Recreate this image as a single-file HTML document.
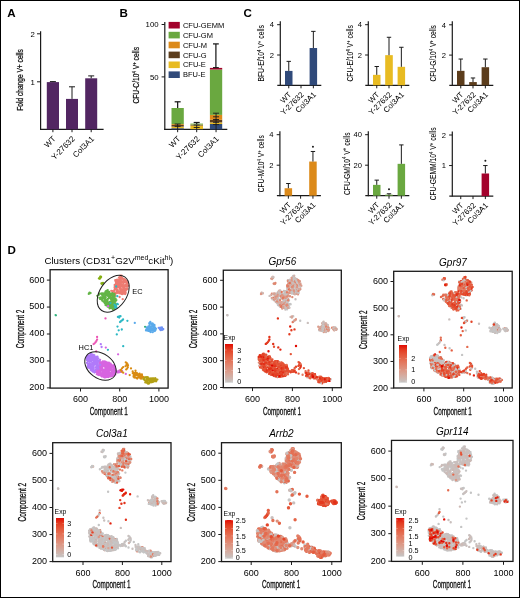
<!DOCTYPE html>
<html><head><meta charset="utf-8"><style>
html,body{margin:0;padding:0;background:#fff;}
svg{display:block;font-family:"Liberation Sans", sans-serif;will-change:transform;}
</style></head><body>
<svg width="520" height="598" viewBox="0 0 520 598">
<rect x="0" y="0" width="520" height="598" fill="#fff"/>
<text transform="translate(7.20 17.00)" font-size="11.6" font-weight="bold" fill="#000" >A</text>
<text transform="translate(119.40 17.10)" font-size="11.6" font-weight="bold" fill="#000" >B</text>
<text transform="translate(243.60 17.20)" font-size="11.6" font-weight="bold" fill="#000" >C</text>
<text transform="translate(7.40 253.50)" font-size="11.6" font-weight="bold" fill="#000" >D</text>
<line x1="40.60" y1="31.30" x2="40.60" y2="129.90" stroke="#1a1a1a" stroke-width="1.2"/>
<line x1="40.00" y1="129.40" x2="103.60" y2="129.40" stroke="#1a1a1a" stroke-width="1.2"/>
<line x1="37.00" y1="33.80" x2="40.60" y2="33.80" stroke="#1a1a1a" stroke-width="1.0"/>
<text transform="translate(34.80 36.60)" font-size="7.8" text-anchor="end" >2</text>
<line x1="37.00" y1="81.80" x2="40.60" y2="81.80" stroke="#1a1a1a" stroke-width="1.0"/>
<text transform="translate(34.80 84.60)" font-size="7.8" text-anchor="end" >1</text>
<rect x="46.80" y="82.10" width="12.20" height="47.30" fill="#522662"/>
<line x1="52.90" y1="82.10" x2="52.90" y2="81.60" stroke="#1a1a1a" stroke-width="1.0"/>
<line x1="49.90" y1="81.60" x2="55.90" y2="81.60" stroke="#1a1a1a" stroke-width="1.0"/>
<rect x="66.00" y="98.90" width="12.00" height="30.50" fill="#522662"/>
<line x1="72.00" y1="98.90" x2="72.00" y2="86.80" stroke="#1a1a1a" stroke-width="1.0"/>
<line x1="69.00" y1="86.80" x2="75.00" y2="86.80" stroke="#1a1a1a" stroke-width="1.0"/>
<rect x="85.20" y="78.30" width="12.00" height="51.10" fill="#522662"/>
<line x1="91.20" y1="78.30" x2="91.20" y2="75.90" stroke="#1a1a1a" stroke-width="1.0"/>
<line x1="88.20" y1="75.90" x2="94.20" y2="75.90" stroke="#1a1a1a" stroke-width="1.0"/>
<line x1="52.90" y1="129.40" x2="52.90" y2="132.20" stroke="#1a1a1a" stroke-width="1.0"/>
<line x1="72.00" y1="129.40" x2="72.00" y2="132.20" stroke="#1a1a1a" stroke-width="1.0"/>
<line x1="91.20" y1="129.40" x2="91.20" y2="132.20" stroke="#1a1a1a" stroke-width="1.0"/>
<text transform="translate(56.30 139.40) rotate(-45)" font-size="8.0" text-anchor="end" >WT</text>
<text transform="translate(75.40 139.40) rotate(-45)" font-size="8.0" text-anchor="end" >Y-27632</text>
<text transform="translate(94.60 139.40) rotate(-45)" font-size="8.0" text-anchor="end" >Col3A1</text>
<text transform="translate(23.20 80.00) rotate(-90) scale(0.8094 1)" font-size="8.2" text-anchor="middle" stroke="#1a1a1a" stroke-width="0.25" >Fold change V+ cells</text>
<line x1="164.80" y1="22.00" x2="164.80" y2="129.90" stroke="#1a1a1a" stroke-width="1.2"/>
<line x1="164.20" y1="129.40" x2="227.30" y2="129.40" stroke="#1a1a1a" stroke-width="1.2"/>
<line x1="161.60" y1="24.50" x2="164.80" y2="24.50" stroke="#1a1a1a" stroke-width="1.0"/>
<text transform="translate(158.60 27.30)" font-size="7.8" text-anchor="end" >100</text>
<line x1="161.60" y1="76.90" x2="164.80" y2="76.90" stroke="#1a1a1a" stroke-width="1.0"/>
<text transform="translate(158.60 79.70)" font-size="7.8" text-anchor="end" >50</text>
<rect x="168.60" y="21.90" width="11.20" height="6.60" fill="#a3022c"/>
<text transform="translate(182.90 27.80)" font-size="7.5" >CFU-GEMM</text>
<rect x="168.60" y="31.80" width="11.20" height="6.60" fill="#6aa840"/>
<text transform="translate(182.90 37.70)" font-size="7.5" >CFU-GM</text>
<rect x="168.60" y="41.70" width="11.20" height="6.60" fill="#dc8a1a"/>
<text transform="translate(182.90 47.60)" font-size="7.5" >CFU-M</text>
<rect x="168.60" y="51.60" width="11.20" height="6.60" fill="#5c3d1c"/>
<text transform="translate(182.90 57.50)" font-size="7.5" >CFU-G</text>
<rect x="168.60" y="61.50" width="11.20" height="6.60" fill="#e8bb22"/>
<text transform="translate(182.90 67.40)" font-size="7.5" >CFU-E</text>
<rect x="168.60" y="71.40" width="11.20" height="6.60" fill="#304a7a"/>
<text transform="translate(182.90 77.30)" font-size="7.5" >BFU-E</text>
<rect x="171.50" y="128.20" width="12.30" height="1.20" fill="#304a7a"/>
<rect x="171.50" y="126.60" width="12.30" height="1.60" fill="#e8bb22"/>
<rect x="171.50" y="125.00" width="12.30" height="1.60" fill="#5c3d1c"/>
<rect x="171.50" y="124.10" width="12.30" height="0.90" fill="#dc8a1a"/>
<rect x="171.50" y="108.00" width="12.30" height="16.10" fill="#6aa840"/>
<rect x="190.40" y="129.10" width="12.60" height="0.30" fill="#304a7a"/>
<rect x="190.40" y="125.50" width="12.60" height="3.60" fill="#e8bb22"/>
<rect x="190.40" y="124.90" width="12.60" height="0.60" fill="#5c3d1c"/>
<rect x="190.40" y="124.60" width="12.60" height="0.30" fill="#dc8a1a"/>
<rect x="190.40" y="123.60" width="12.60" height="1.00" fill="#6aa840"/>
<rect x="209.90" y="124.00" width="12.30" height="5.40" fill="#304a7a"/>
<rect x="209.90" y="122.40" width="12.30" height="1.60" fill="#e8bb22"/>
<rect x="209.90" y="119.80" width="12.30" height="2.60" fill="#5c3d1c"/>
<rect x="209.90" y="114.90" width="12.30" height="4.90" fill="#dc8a1a"/>
<rect x="209.90" y="69.50" width="12.30" height="45.40" fill="#6aa840"/>
<rect x="209.90" y="67.90" width="12.30" height="1.60" fill="#a3022c"/>
<line x1="177.65" y1="108.00" x2="177.65" y2="101.80" stroke="#1a1a1a" stroke-width="1.25"/>
<line x1="174.65" y1="101.80" x2="180.65" y2="101.80" stroke="#1a1a1a" stroke-width="1.25"/>
<line x1="196.70" y1="124.20" x2="196.70" y2="122.50" stroke="#1a1a1a" stroke-width="1.25"/>
<line x1="193.70" y1="122.50" x2="199.70" y2="122.50" stroke="#1a1a1a" stroke-width="1.25"/>
<line x1="215.90" y1="67.80" x2="215.90" y2="43.90" stroke="#1a1a1a" stroke-width="1.25"/>
<line x1="213.00" y1="43.90" x2="218.80" y2="43.90" stroke="#1a1a1a" stroke-width="1.25"/>
<line x1="213.00" y1="67.60" x2="218.80" y2="67.60" stroke="#1a1a1a" stroke-width="1.1"/>
<line x1="174.65" y1="126.40" x2="180.65" y2="126.40" stroke="#1a1a1a" stroke-width="0.9"/>
<line x1="174.65" y1="124.00" x2="180.65" y2="124.00" stroke="#1a1a1a" stroke-width="0.9"/>
<line x1="177.65" y1="124.00" x2="177.65" y2="129.40" stroke="#1a1a1a" stroke-width="0.9"/>
<line x1="193.70" y1="127.50" x2="199.70" y2="127.50" stroke="#1a1a1a" stroke-width="0.9"/>
<line x1="193.70" y1="125.00" x2="199.70" y2="125.00" stroke="#1a1a1a" stroke-width="0.9"/>
<line x1="196.70" y1="125.00" x2="196.70" y2="129.40" stroke="#1a1a1a" stroke-width="0.9"/>
<line x1="213.05" y1="124.60" x2="219.05" y2="124.60" stroke="#1a1a1a" stroke-width="0.9"/>
<line x1="213.05" y1="122.30" x2="219.05" y2="122.30" stroke="#1a1a1a" stroke-width="0.9"/>
<line x1="213.05" y1="119.50" x2="219.05" y2="119.50" stroke="#1a1a1a" stroke-width="0.9"/>
<line x1="213.05" y1="116.80" x2="219.05" y2="116.80" stroke="#1a1a1a" stroke-width="0.9"/>
<line x1="213.05" y1="113.20" x2="219.05" y2="113.20" stroke="#1a1a1a" stroke-width="0.9"/>
<line x1="216.05" y1="113.20" x2="216.05" y2="129.40" stroke="#1a1a1a" stroke-width="0.9"/>
<line x1="177.65" y1="129.40" x2="177.65" y2="132.20" stroke="#1a1a1a" stroke-width="1.0"/>
<line x1="196.70" y1="129.40" x2="196.70" y2="132.20" stroke="#1a1a1a" stroke-width="1.0"/>
<line x1="216.05" y1="129.40" x2="216.05" y2="132.20" stroke="#1a1a1a" stroke-width="1.0"/>
<text transform="translate(181.05 139.40) rotate(-45)" font-size="8.0" text-anchor="end" >WT</text>
<text transform="translate(200.10 139.40) rotate(-45)" font-size="8.0" text-anchor="end" >Y-27632</text>
<text transform="translate(219.45 139.40) rotate(-45)" font-size="8.0" text-anchor="end" >Col3A1</text>
<text transform="translate(138.80 75.30) rotate(-90) scale(0.7974 1)" font-size="8.4" text-anchor="middle" stroke="#1a1a1a" stroke-width="0.22" >CFU-C/10<tspan font-size="5.46" dy="-3.02">4</tspan><tspan dy="3.02"> V</tspan><tspan font-size="5.46" dy="-3.02">+</tspan><tspan dy="3.02"> cells</tspan></text>
<line x1="280.30" y1="21.20" x2="280.30" y2="85.80" stroke="#1a1a1a" stroke-width="1.2"/>
<line x1="277.30" y1="85.30" x2="321.30" y2="85.30" stroke="#1a1a1a" stroke-width="1.2"/>
<line x1="277.10" y1="55.00" x2="280.30" y2="55.00" stroke="#1a1a1a" stroke-width="1.0"/>
<text transform="translate(274.00 57.70)" font-size="7.6" text-anchor="end" >2</text>
<line x1="277.10" y1="24.70" x2="280.30" y2="24.70" stroke="#1a1a1a" stroke-width="1.0"/>
<text transform="translate(274.00 27.40)" font-size="7.6" text-anchor="end" >4</text>
<rect x="285.00" y="70.91" width="7.50" height="14.39" fill="#304a7a"/>
<line x1="288.75" y1="70.91" x2="288.75" y2="61.36" stroke="#1a1a1a" stroke-width="1.0"/>
<line x1="286.55" y1="61.36" x2="290.95" y2="61.36" stroke="#1a1a1a" stroke-width="1.0"/>
<rect x="309.60" y="48.03" width="7.50" height="37.27" fill="#304a7a"/>
<line x1="313.35" y1="48.03" x2="313.35" y2="31.37" stroke="#1a1a1a" stroke-width="1.0"/>
<line x1="311.15" y1="31.37" x2="315.55" y2="31.37" stroke="#1a1a1a" stroke-width="1.0"/>
<line x1="288.75" y1="85.30" x2="288.75" y2="88.30" stroke="#1a1a1a" stroke-width="1.0"/>
<line x1="301.00" y1="85.30" x2="301.00" y2="88.30" stroke="#1a1a1a" stroke-width="1.0"/>
<line x1="313.35" y1="85.30" x2="313.35" y2="88.30" stroke="#1a1a1a" stroke-width="1.0"/>
<text transform="translate(291.95 95.10) rotate(-45)" font-size="7.8" text-anchor="end" >WT</text>
<text transform="translate(304.20 95.10) rotate(-45)" font-size="7.8" text-anchor="end" >Y-27632</text>
<text transform="translate(316.55 95.10) rotate(-45)" font-size="7.8" text-anchor="end" >Col3A1</text>
<text transform="translate(264.20 53.40) rotate(-90) scale(0.7514 1)" font-size="9.0" text-anchor="middle" stroke="#1a1a1a" stroke-width="0.06" >BFU-E/10<tspan font-size="5.85" dy="-3.24">4</tspan><tspan dy="3.24"> V</tspan><tspan font-size="5.85" dy="-3.24">+</tspan><tspan dy="3.24"> cells</tspan></text>
<line x1="368.30" y1="21.20" x2="368.30" y2="85.80" stroke="#1a1a1a" stroke-width="1.2"/>
<line x1="365.30" y1="85.30" x2="409.30" y2="85.30" stroke="#1a1a1a" stroke-width="1.2"/>
<line x1="365.10" y1="55.00" x2="368.30" y2="55.00" stroke="#1a1a1a" stroke-width="1.0"/>
<text transform="translate(362.00 57.70)" font-size="7.6" text-anchor="end" >2</text>
<line x1="365.10" y1="24.70" x2="368.30" y2="24.70" stroke="#1a1a1a" stroke-width="1.0"/>
<text transform="translate(362.00 27.40)" font-size="7.6" text-anchor="end" >4</text>
<rect x="373.00" y="74.85" width="7.50" height="10.45" fill="#e8bb22"/>
<line x1="376.75" y1="74.85" x2="376.75" y2="66.51" stroke="#1a1a1a" stroke-width="1.0"/>
<line x1="374.55" y1="66.51" x2="378.95" y2="66.51" stroke="#1a1a1a" stroke-width="1.0"/>
<rect x="385.20" y="55.15" width="7.60" height="30.15" fill="#e8bb22"/>
<line x1="389.00" y1="55.15" x2="389.00" y2="37.27" stroke="#1a1a1a" stroke-width="1.0"/>
<line x1="386.80" y1="37.27" x2="391.20" y2="37.27" stroke="#1a1a1a" stroke-width="1.0"/>
<rect x="397.60" y="66.82" width="7.50" height="18.48" fill="#e8bb22"/>
<line x1="401.35" y1="66.82" x2="401.35" y2="47.27" stroke="#1a1a1a" stroke-width="1.0"/>
<line x1="399.15" y1="47.27" x2="403.55" y2="47.27" stroke="#1a1a1a" stroke-width="1.0"/>
<line x1="376.75" y1="85.30" x2="376.75" y2="88.30" stroke="#1a1a1a" stroke-width="1.0"/>
<line x1="389.00" y1="85.30" x2="389.00" y2="88.30" stroke="#1a1a1a" stroke-width="1.0"/>
<line x1="401.35" y1="85.30" x2="401.35" y2="88.30" stroke="#1a1a1a" stroke-width="1.0"/>
<text transform="translate(379.95 95.10) rotate(-45)" font-size="7.8" text-anchor="end" >WT</text>
<text transform="translate(392.20 95.10) rotate(-45)" font-size="7.8" text-anchor="end" >Y-27632</text>
<text transform="translate(404.55 95.10) rotate(-45)" font-size="7.8" text-anchor="end" >Col3A1</text>
<text transform="translate(353.00 53.30) rotate(-90) scale(0.7478 1)" font-size="9.0" text-anchor="middle" stroke="#1a1a1a" stroke-width="0.06" >CFU-E/10<tspan font-size="5.85" dy="-3.24">4</tspan><tspan dy="3.24"> V</tspan><tspan font-size="5.85" dy="-3.24">+</tspan><tspan dy="3.24"> cells</tspan></text>
<line x1="452.30" y1="21.30" x2="452.30" y2="85.90" stroke="#1a1a1a" stroke-width="1.2"/>
<line x1="449.30" y1="85.40" x2="493.30" y2="85.40" stroke="#1a1a1a" stroke-width="1.2"/>
<line x1="449.10" y1="55.10" x2="452.30" y2="55.10" stroke="#1a1a1a" stroke-width="1.0"/>
<text transform="translate(446.00 57.80)" font-size="7.6" text-anchor="end" >2</text>
<line x1="449.10" y1="24.80" x2="452.30" y2="24.80" stroke="#1a1a1a" stroke-width="1.0"/>
<text transform="translate(446.00 27.50)" font-size="7.6" text-anchor="end" >4</text>
<rect x="457.00" y="70.86" width="7.50" height="14.54" fill="#5c3d1c"/>
<line x1="460.75" y1="70.86" x2="460.75" y2="59.04" stroke="#1a1a1a" stroke-width="1.0"/>
<line x1="458.55" y1="59.04" x2="462.95" y2="59.04" stroke="#1a1a1a" stroke-width="1.0"/>
<rect x="469.20" y="82.07" width="7.60" height="3.33" fill="#5c3d1c"/>
<line x1="473.00" y1="82.07" x2="473.00" y2="77.98" stroke="#1a1a1a" stroke-width="1.0"/>
<line x1="470.80" y1="77.98" x2="475.20" y2="77.98" stroke="#1a1a1a" stroke-width="1.0"/>
<rect x="481.60" y="67.22" width="7.50" height="18.18" fill="#5c3d1c"/>
<line x1="485.35" y1="67.22" x2="485.35" y2="59.04" stroke="#1a1a1a" stroke-width="1.0"/>
<line x1="483.15" y1="59.04" x2="487.55" y2="59.04" stroke="#1a1a1a" stroke-width="1.0"/>
<line x1="460.75" y1="85.40" x2="460.75" y2="88.40" stroke="#1a1a1a" stroke-width="1.0"/>
<line x1="473.00" y1="85.40" x2="473.00" y2="88.40" stroke="#1a1a1a" stroke-width="1.0"/>
<line x1="485.35" y1="85.40" x2="485.35" y2="88.40" stroke="#1a1a1a" stroke-width="1.0"/>
<text transform="translate(463.95 95.20) rotate(-45)" font-size="7.8" text-anchor="end" >WT</text>
<text transform="translate(476.20 95.20) rotate(-45)" font-size="7.8" text-anchor="end" >Y-27632</text>
<text transform="translate(488.55 95.20) rotate(-45)" font-size="7.8" text-anchor="end" >Col3A1</text>
<text transform="translate(436.40 53.30) rotate(-90) scale(0.7381 1)" font-size="9.0" text-anchor="middle" stroke="#1a1a1a" stroke-width="0.06" >CFU-G/10<tspan font-size="5.85" dy="-3.24">4</tspan><tspan dy="3.24"> V</tspan><tspan font-size="5.85" dy="-3.24">+</tspan><tspan dy="3.24"> cells</tspan></text>
<line x1="279.90" y1="131.20" x2="279.90" y2="196.20" stroke="#1a1a1a" stroke-width="1.2"/>
<line x1="276.90" y1="195.70" x2="320.90" y2="195.70" stroke="#1a1a1a" stroke-width="1.2"/>
<line x1="276.70" y1="165.20" x2="279.90" y2="165.20" stroke="#1a1a1a" stroke-width="1.0"/>
<text transform="translate(273.60 167.90)" font-size="7.6" text-anchor="end" >2</text>
<line x1="276.70" y1="134.70" x2="279.90" y2="134.70" stroke="#1a1a1a" stroke-width="1.0"/>
<text transform="translate(273.60 137.40)" font-size="7.6" text-anchor="end" >4</text>
<rect x="284.60" y="188.23" width="7.50" height="7.47" fill="#dc8a1a"/>
<line x1="288.35" y1="188.23" x2="288.35" y2="183.50" stroke="#1a1a1a" stroke-width="1.0"/>
<line x1="286.15" y1="183.50" x2="290.55" y2="183.50" stroke="#1a1a1a" stroke-width="1.0"/>
<rect x="309.20" y="161.54" width="7.50" height="34.16" fill="#dc8a1a"/>
<line x1="312.95" y1="161.54" x2="312.95" y2="151.47" stroke="#1a1a1a" stroke-width="1.0"/>
<line x1="310.75" y1="151.47" x2="315.15" y2="151.47" stroke="#1a1a1a" stroke-width="1.0"/>
<line x1="288.35" y1="195.70" x2="288.35" y2="198.70" stroke="#1a1a1a" stroke-width="1.0"/>
<line x1="300.60" y1="195.70" x2="300.60" y2="198.70" stroke="#1a1a1a" stroke-width="1.0"/>
<line x1="312.95" y1="195.70" x2="312.95" y2="198.70" stroke="#1a1a1a" stroke-width="1.0"/>
<circle cx="312.95" cy="146.80" r="1.0" fill="#1a1a1a"/>
<text transform="translate(291.55 205.50) rotate(-45)" font-size="7.8" text-anchor="end" >WT</text>
<text transform="translate(303.80 205.50) rotate(-45)" font-size="7.8" text-anchor="end" >Y-27632</text>
<text transform="translate(316.15 205.50) rotate(-45)" font-size="7.8" text-anchor="end" >Col3A1</text>
<text transform="translate(264.20 163.70) rotate(-90) scale(0.7411 1)" font-size="9.0" text-anchor="middle" stroke="#1a1a1a" stroke-width="0.06" >CFU-M/10<tspan font-size="5.85" dy="-3.24">4</tspan><tspan dy="3.24"> V</tspan><tspan font-size="5.85" dy="-3.24">+</tspan><tspan dy="3.24"> cells</tspan></text>
<line x1="368.30" y1="131.20" x2="368.30" y2="196.20" stroke="#1a1a1a" stroke-width="1.2"/>
<line x1="365.30" y1="195.70" x2="409.30" y2="195.70" stroke="#1a1a1a" stroke-width="1.2"/>
<line x1="365.10" y1="165.20" x2="368.30" y2="165.20" stroke="#1a1a1a" stroke-width="1.0"/>
<text transform="translate(362.00 167.90)" font-size="7.6" text-anchor="end" >20</text>
<line x1="365.10" y1="134.70" x2="368.30" y2="134.70" stroke="#1a1a1a" stroke-width="1.0"/>
<text transform="translate(362.00 137.40)" font-size="7.6" text-anchor="end" >40</text>
<rect x="373.00" y="184.87" width="7.50" height="10.83" fill="#6aa840"/>
<line x1="376.75" y1="184.87" x2="376.75" y2="180.14" stroke="#1a1a1a" stroke-width="1.0"/>
<line x1="374.55" y1="180.14" x2="378.95" y2="180.14" stroke="#1a1a1a" stroke-width="1.0"/>
<rect x="385.20" y="194.69" width="7.60" height="1.01" fill="#6aa840"/>
<line x1="389.00" y1="194.69" x2="389.00" y2="193.79" stroke="#1a1a1a" stroke-width="1.0"/>
<line x1="386.80" y1="193.79" x2="391.20" y2="193.79" stroke="#1a1a1a" stroke-width="1.0"/>
<rect x="397.60" y="163.83" width="7.50" height="31.87" fill="#6aa840"/>
<line x1="401.35" y1="163.83" x2="401.35" y2="144.92" stroke="#1a1a1a" stroke-width="1.0"/>
<line x1="399.15" y1="144.92" x2="403.55" y2="144.92" stroke="#1a1a1a" stroke-width="1.0"/>
<line x1="376.75" y1="195.70" x2="376.75" y2="198.70" stroke="#1a1a1a" stroke-width="1.0"/>
<line x1="389.00" y1="195.70" x2="389.00" y2="198.70" stroke="#1a1a1a" stroke-width="1.0"/>
<line x1="401.35" y1="195.70" x2="401.35" y2="198.70" stroke="#1a1a1a" stroke-width="1.0"/>
<circle cx="389.00" cy="189.30" r="1.0" fill="#1a1a1a"/>
<text transform="translate(379.95 205.50) rotate(-45)" font-size="7.8" text-anchor="end" >WT</text>
<text transform="translate(392.20 205.50) rotate(-45)" font-size="7.8" text-anchor="end" >Y-27632</text>
<text transform="translate(404.55 205.50) rotate(-45)" font-size="7.8" text-anchor="end" >Col3A1</text>
<text transform="translate(349.60 163.70) rotate(-90) scale(0.7436 1)" font-size="9.0" text-anchor="middle" stroke="#1a1a1a" stroke-width="0.06" >CFU-GM/10<tspan font-size="5.85" dy="-3.24">4</tspan><tspan dy="3.24"> V</tspan><tspan font-size="5.85" dy="-3.24">+</tspan><tspan dy="3.24"> cells</tspan></text>
<line x1="452.30" y1="131.50" x2="452.30" y2="196.60" stroke="#1a1a1a" stroke-width="1.2"/>
<line x1="449.30" y1="196.10" x2="493.30" y2="196.10" stroke="#1a1a1a" stroke-width="1.2"/>
<line x1="449.10" y1="165.55" x2="452.30" y2="165.55" stroke="#1a1a1a" stroke-width="1.0"/>
<text transform="translate(446.00 168.25)" font-size="7.6" text-anchor="end" >1</text>
<line x1="449.10" y1="135.00" x2="452.30" y2="135.00" stroke="#1a1a1a" stroke-width="1.0"/>
<text transform="translate(446.00 137.70)" font-size="7.6" text-anchor="end" >2</text>
<rect x="481.60" y="173.49" width="7.50" height="22.61" fill="#a3022c"/>
<line x1="485.35" y1="173.49" x2="485.35" y2="165.55" stroke="#1a1a1a" stroke-width="1.0"/>
<line x1="483.15" y1="165.55" x2="487.55" y2="165.55" stroke="#1a1a1a" stroke-width="1.0"/>
<line x1="460.75" y1="196.10" x2="460.75" y2="199.10" stroke="#1a1a1a" stroke-width="1.0"/>
<line x1="473.00" y1="196.10" x2="473.00" y2="199.10" stroke="#1a1a1a" stroke-width="1.0"/>
<line x1="485.35" y1="196.10" x2="485.35" y2="199.10" stroke="#1a1a1a" stroke-width="1.0"/>
<circle cx="485.35" cy="160.70" r="1.0" fill="#1a1a1a"/>
<text transform="translate(463.95 205.90) rotate(-45)" font-size="7.8" text-anchor="end" >WT</text>
<text transform="translate(476.20 205.90) rotate(-45)" font-size="7.8" text-anchor="end" >Y-27632</text>
<text transform="translate(488.55 205.90) rotate(-45)" font-size="7.8" text-anchor="end" >Col3A1</text>
<text transform="translate(436.40 163.85) rotate(-90) scale(0.7483 1)" font-size="9.0" text-anchor="middle" stroke="#1a1a1a" stroke-width="0.06" >CFU-GEMM/10<tspan font-size="5.85" dy="-3.24">4</tspan><tspan dy="3.24"> V</tspan><tspan font-size="5.85" dy="-3.24">+</tspan><tspan dy="3.24"> cells</tspan></text>
<path d="M121.0 282.8h0M118.9 292.5h0M121.4 284.3h0M125.8 282.3h0M116.5 292.6h0M114.7 288.0h0M121.8 282.1h0M121.1 276.7h0M123.3 285.4h0M116.9 287.7h0M119.6 281.6h0M125.8 289.5h0M115.5 285.8h0M120.8 293.6h0M124.3 282.2h0M118.6 291.2h0M124.3 286.9h0M126.1 282.0h0M123.3 287.8h0M121.3 285.2h0M119.8 289.2h0M125.8 281.1h0M117.5 290.0h0M112.7 291.1h0M116.7 284.1h0M114.8 286.2h0M121.7 281.1h0M117.9 287.1h0M119.6 288.7h0M118.2 283.4h0M112.1 293.8h0M122.2 278.0h0M115.8 281.5h0M119.2 285.7h0M117.9 280.5h0M111.8 296.2h0M120.3 278.5h0M121.5 275.6h0M126.7 289.6h0M116.0 282.8h0M114.4 292.1h0M121.6 291.5h0M116.8 280.0h0M125.5 292.6h0M125.7 290.8h0M115.6 285.4h0M116.2 289.2h0M127.4 284.4h0M127.6 283.2h0M122.1 294.2h0M126.0 286.0h0M122.6 292.4h0M124.8 285.4h0M114.0 293.1h0M118.1 291.3h0M123.8 278.8h0M114.4 293.1h0M117.3 286.3h0M125.6 280.0h0M115.3 280.8h0M115.6 286.7h0M115.8 283.8h0M113.9 294.2h0M117.1 284.7h0M120.0 286.1h0M120.4 275.7h0M119.5 279.7h0M123.5 286.8h0M115.9 287.0h0M120.6 291.8h0M124.9 285.3h0M121.3 291.3h0M126.2 284.7h0M122.5 285.0h0M120.6 290.0h0M119.4 286.7h0M124.0 293.7h0M125.2 294.1h0M114.5 290.0h0M122.7 278.9h0M115.4 295.4h0M117.8 285.1h0M120.4 282.7h0M121.1 284.7h0M122.1 286.6h0M112.4 295.9h0M125.8 280.6h0M113.9 294.5h0M121.1 290.3h0M123.4 283.6h0M112.9 295.3h0M121.8 292.6h0M112.8 293.3h0M113.0 294.1h0M118.9 282.5h0M120.1 281.2h0M116.6 282.1h0M124.1 281.6h0M121.0 277.7h0M123.8 287.1h0M114.7 284.9h0M126.4 284.3h0M119.2 293.3h0M117.4 286.4h0M117.1 293.0h0M124.1 288.7h0M117.8 281.7h0M113.2 291.3h0M112.6 293.5h0M126.5 289.7h0M115.3 280.1h0M116.9 285.2h0M128.4 285.7h0M116.8 282.9h0M120.7 285.4h0M114.8 285.9h0M117.1 279.8h0M122.0 286.0h0M124.4 288.9h0M123.7 293.6h0M117.4 282.5h0M123.9 288.6h0M112.3 293.4h0M126.2 288.4h0M124.2 292.7h0M119.9 292.0h0M125.7 292.9h0M123.1 289.8h0M113.4 292.8h0M120.5 288.2h0M121.9 289.4h0M124.5 291.4h0M119.5 286.8h0M123.6 280.6h0M124.5 279.5h0M119.6 283.2h0M119.7 288.9h0M124.3 288.3h0M123.9 281.6h0M123.3 290.2h0M123.4 281.5h0M120.2 285.0h0M119.3 277.4h0M119.1 280.0h0M114.9 295.3h0M114.6 287.5h0M125.7 285.9h0M127.5 288.9h0M115.3 293.5h0M119.6 282.7h0M115.7 293.1h0M127.1 281.1h0M118.1 282.4h0M118.0 284.4h0M113.2 292.7h0M120.5 278.9h0M127.6 286.6h0M122.9 284.7h0M124.4 289.2h0M119.1 282.4h0M116.8 291.0h0M123.2 282.4h0M120.6 282.6h0M115.4 295.2h0M120.4 280.1h0M118.9 277.7h0M121.6 293.7h0M123.4 283.4h0M119.7 287.1h0M117.6 281.9h0M120.2 288.2h0M118.9 284.6h0M126.2 285.8h0M120.1 289.8h0M122.5 291.3h0M119.4 286.5h0M111.3 290.8h0M114.9 294.4h0M122.5 281.6h0M122.6 290.1h0M120.1 287.2h0M117.1 279.7h0M116.8 285.1h0M126.5 285.1h0M120.4 289.5h0M119.0 280.8h0M117.3 284.6h0M122.8 279.1h0M124.7 290.5h0M120.8 280.2h0M122.7 299.2h0M119.6 297.0h0" stroke="#ed7a70" stroke-width="2.3" stroke-linecap="round"/>
<path d="M114.9 305.2h0M105.7 295.0h0M108.5 296.5h0M110.3 298.5h0M115.8 303.9h0M105.7 294.0h0M108.7 302.4h0M104.1 296.5h0M113.5 302.9h0M112.5 299.1h0M113.0 299.1h0M111.6 305.6h0M111.2 294.9h0M108.8 297.7h0M112.8 299.7h0M103.0 294.4h0M112.0 307.6h0M112.8 296.7h0M114.7 296.5h0M110.2 303.5h0M107.2 305.7h0M111.5 306.9h0M106.0 304.7h0M109.8 296.5h0M105.5 292.7h0M111.0 301.8h0M110.9 304.1h0M113.6 307.4h0M114.5 309.1h0M101.1 293.6h0M114.4 305.7h0M110.2 305.7h0M110.0 294.9h0M112.5 293.6h0M104.3 297.5h0M105.1 295.9h0M114.5 301.2h0M106.5 305.2h0M104.9 303.2h0M108.0 293.7h0M112.8 309.5h0M107.3 304.9h0M101.8 299.4h0M103.1 293.5h0M111.3 299.7h0M110.7 304.6h0M110.2 296.0h0M105.7 297.5h0M101.9 294.3h0M115.1 299.3h0M102.7 298.3h0M108.6 303.6h0M112.3 302.3h0M105.1 295.7h0M110.9 303.9h0M101.6 299.0h0M112.5 301.2h0M100.1 299.1h0M102.3 295.5h0M110.9 306.3h0M103.3 296.5h0M108.3 291.9h0M104.0 293.9h0M116.0 304.4h0M100.9 297.5h0M112.5 298.0h0M99.6 293.6h0M111.1 299.4h0M110.4 298.6h0M105.8 304.3h0M115.3 298.9h0M109.1 304.3h0M106.0 293.8h0M112.4 306.9h0M112.2 303.1h0M114.1 302.7h0M110.7 298.0h0M104.2 302.0h0M99.4 297.8h0M112.8 303.8h0M109.8 294.6h0M105.4 298.0h0M110.2 298.1h0M110.9 307.6h0M113.3 296.3h0M115.5 300.1h0M108.6 303.2h0M106.9 302.8h0M113.8 299.4h0M105.5 305.0h0M102.1 297.9h0M106.4 302.3h0M105.1 294.0h0M116.4 300.1h0M106.5 293.5h0M113.4 302.5h0M106.7 300.3h0M104.6 302.1h0M113.1 305.8h0M107.2 295.4h0M109.2 291.9h0M114.4 296.3h0M114.5 294.0h0M105.3 294.5h0M105.9 293.0h0M103.3 294.1h0M102.8 298.7h0M106.0 301.9h0M110.1 296.6h0M116.0 306.2h0M115.0 305.6h0M110.9 294.9h0M105.2 292.4h0M115.1 305.6h0M109.3 304.9h0M110.9 307.3h0M112.9 306.5h0M108.1 304.5h0M109.1 295.1h0M107.7 290.2h0M106.3 292.2h0M107.6 300.0h0M107.7 306.7h0M106.6 300.3h0M110.5 306.4h0M105.3 298.3h0M109.7 302.5h0M111.4 307.9h0M108.0 298.8h0M111.2 301.7h0M104.7 300.2h0M107.8 305.4h0M102.2 298.3h0M106.4 300.1h0M114.1 295.5h0M113.1 297.8h0M107.9 295.1h0M111.2 304.9h0M104.6 296.2h0M103.4 301.6h0M109.4 304.4h0M115.1 299.8h0M99.0 294.7h0M115.5 301.0h0M110.7 304.4h0M115.5 301.5h0M109.8 301.9h0M111.3 300.7h0M109.8 293.8h0M110.3 298.4h0M112.9 306.6h0M110.1 296.6h0M113.2 305.2h0M108.7 294.3h0M103.4 298.2h0M103.8 298.3h0M110.4 307.1h0M112.9 300.9h0M115.6 298.7h0M109.6 308.4h0M105.7 291.5h0M110.6 293.6h0M112.2 293.6h0M112.3 293.2h0M110.7 306.8h0M110.1 303.5h0M106.8 290.6h0M105.7 300.5h0M104.8 302.5h0M104.4 302.2h0M109.8 297.4h0M115.6 305.5h0M108.2 296.2h0M111.1 305.3h0M104.7 301.7h0M109.0 296.0h0M104.4 302.6h0M110.0 307.0h0M112.8 295.4h0M106.5 301.1h0M112.7 306.8h0M113.6 306.9h0M109.7 294.9h0M114.0 305.4h0M111.6 307.1h0M109.2 304.0h0M109.9 302.6h0M107.1 294.0h0M112.5 298.6h0M112.8 294.4h0M108.6 306.7h0M114.0 301.0h0M107.0 301.1h0M101.0 293.8h0M104.7 301.3h0M106.1 299.7h0M109.7 295.9h0M114.3 298.9h0M108.2 294.7h0M112.8 298.6h0M114.5 304.3h0M113.2 308.3h0M102.1 293.3h0M108.6 306.5h0M109.6 297.6h0M102.1 300.5h0M109.6 307.8h0M110.8 297.3h0M106.6 292.3h0M102.8 296.1h0M115.3 307.6h0M113.8 304.1h0M112.0 307.8h0M110.5 295.6h0M110.2 304.8h0M97.3 295.8h0" stroke="#62b446" stroke-width="2.3" stroke-linecap="round"/>
<path d="M116.5 307.7h0M115.6 305.9h0M114.9 307.4h0M117.9 304.3h0M116.6 307.7h0M116.0 307.6h0M114.5 304.7h0M117.3 303.9h0M114.9 307.3h0M116.2 286.5h0M117.3 296.2h0M110.4 303.1h0" stroke="#2bb8c4" stroke-width="2.3" stroke-linecap="round"/>
<path d="M108.1 306.2h0M105.8 347.6h0M118.1 354.3h0M125.8 373.9h0M99.6 364.7h0M108.3 367.1h0M113.6 368.2h0M103.9 377.1h0M97.2 372.6h0M99.0 374.3h0M104.0 374.0h0M108.3 377.1h0M110.2 374.5h0M112.2 369.4h0M95.6 371.2h0M105.4 363.9h0M113.9 367.0h0M104.6 370.9h0M110.9 364.4h0M102.2 367.9h0M102.5 369.4h0M104.1 361.3h0M107.5 372.0h0M101.9 376.5h0M100.4 368.9h0M108.9 375.7h0M105.7 362.2h0M110.0 364.8h0M98.9 374.8h0M114.5 368.8h0M109.0 369.1h0M107.9 373.5h0M100.8 374.8h0M104.0 364.8h0M102.6 375.0h0M97.2 372.2h0M107.1 375.1h0M112.4 371.4h0M99.0 367.0h0M106.9 369.1h0M102.1 367.3h0M106.6 377.1h0M111.9 371.4h0M105.0 376.0h0M111.3 372.5h0M105.5 367.0h0M111.7 365.7h0M108.2 363.2h0M106.8 363.3h0M101.7 369.0h0M105.3 367.0h0M100.7 370.7h0M101.7 365.4h0M114.2 366.5h0M101.8 366.0h0M99.5 369.0h0M110.8 375.2h0M97.8 373.4h0M110.1 366.5h0M107.1 364.8h0M100.5 372.7h0M106.9 362.5h0M105.6 374.1h0M110.0 368.2h0M99.5 362.8h0M98.1 369.2h0M115.2 370.5h0M97.2 369.6h0M108.9 362.7h0M101.9 365.1h0M113.0 371.6h0M100.3 375.0h0M99.6 365.1h0M101.1 373.5h0M106.0 371.9h0M106.6 367.2h0M109.0 372.0h0M108.4 367.3h0M106.7 365.4h0M98.9 368.1h0M111.7 367.1h0M101.5 363.8h0M112.3 372.7h0M102.2 362.0h0M99.8 365.9h0M103.3 362.3h0M114.0 366.9h0M102.2 363.5h0M102.8 361.5h0M110.5 367.7h0M99.4 375.0h0M113.5 367.3h0M109.9 365.6h0M106.4 369.7h0M109.8 376.5h0M97.9 368.9h0M107.3 363.6h0M114.4 366.4h0M108.7 365.8h0M100.4 373.7h0M104.4 366.6h0M104.6 376.8h0M102.7 372.5h0M104.1 364.4h0M112.4 365.5h0M101.1 366.6h0M102.1 362.3h0M101.7 374.2h0M100.6 373.1h0M103.1 370.1h0M104.4 372.2h0M104.9 370.4h0M110.6 364.6h0M100.1 366.1h0M109.8 375.4h0M108.8 368.5h0M111.3 372.5h0M115.4 369.8h0M111.2 376.4h0M113.2 372.1h0M110.9 372.9h0M103.9 364.1h0M110.4 372.6h0M114.7 373.1h0M100.1 359.8h0M101.3 376.0h0M106.7 370.5h0M98.1 373.1h0M110.4 370.0h0M113.7 373.3h0M106.3 374.1h0M110.6 372.8h0M110.6 363.7h0M104.0 364.6h0M96.8 374.2h0M107.4 364.1h0M106.1 373.0h0M104.4 375.1h0M99.2 372.8h0M111.7 366.3h0M113.1 369.6h0M97.1 369.6h0M105.2 363.1h0M102.1 369.5h0M114.1 365.2h0M106.6 367.0h0M98.9 372.0h0M112.7 371.1h0M98.1 371.5h0M102.4 364.4h0M115.0 369.9h0M110.2 369.8h0M107.6 370.2h0M103.0 372.8h0M99.4 373.9h0M105.6 372.4h0M108.8 365.1h0M102.7 369.9h0M110.9 367.7h0M108.9 370.1h0M98.4 372.8h0M105.6 377.0h0M105.6 370.0h0M109.4 363.3h0M114.5 371.1h0M102.1 366.3h0M106.1 374.9h0M101.3 374.4h0M106.6 367.8h0M98.2 367.7h0M109.8 374.1h0M107.8 365.5h0M113.3 375.4h0M108.5 373.8h0M105.7 374.5h0M107.4 368.1h0M104.1 373.0h0M106.0 376.8h0M103.0 373.0h0M105.4 361.6h0M95.9 367.6h0M110.6 366.7h0M105.3 371.0h0M103.8 362.7h0M102.0 367.7h0M99.7 370.0h0M107.1 364.6h0M101.3 364.5h0M103.0 371.2h0M115.0 371.8h0M107.6 370.4h0M107.6 369.0h0M110.2 364.7h0M113.0 372.0h0M100.5 373.6h0M102.9 366.1h0M107.6 376.1h0M107.8 363.7h0M110.6 374.0h0M111.2 372.3h0M112.8 366.2h0M104.7 374.7h0M100.5 369.2h0M99.9 367.9h0M105.4 370.5h0M100.1 363.2h0M106.1 371.2h0M106.8 365.3h0M109.8 374.0h0M104.9 371.3h0M115.4 372.6h0M113.6 368.6h0M115.4 370.8h0M112.5 375.7h0M103.0 373.4h0M100.9 368.7h0M103.9 372.5h0M110.5 373.5h0M108.2 373.8h0M105.0 377.5h0M106.8 368.3h0M101.6 364.9h0M98.3 368.6h0M105.4 375.2h0M107.9 372.9h0M112.9 373.9h0M106.5 374.0h0M99.6 374.6h0M99.1 370.6h0M115.3 369.7h0M113.6 372.0h0M112.7 376.0h0M95.7 371.9h0M108.6 375.2h0M109.8 366.3h0M102.4 369.8h0M103.0 376.2h0M107.0 376.4h0M106.9 370.4h0M108.4 372.4h0M115.1 368.7h0M104.5 369.8h0M103.6 370.0h0M115.0 370.6h0M107.3 364.5h0M111.9 372.7h0M105.6 368.2h0M106.0 367.2h0M96.8 371.4h0M105.0 364.8h0M106.1 373.5h0M100.1 370.3h0M97.3 364.7h0M114.3 367.4h0M107.9 367.2h0M99.9 361.9h0M106.1 366.2h0M108.5 366.9h0M104.5 369.4h0M114.4 371.5h0M103.8 376.3h0M98.2 370.1h0M102.0 376.5h0M97.2 370.0h0M102.5 371.1h0M101.9 367.5h0M103.4 364.3h0M98.3 375.0h0M105.9 373.8h0M115.3 374.6h0M98.6 366.2h0M111.4 372.8h0M105.6 366.4h0M105.9 367.7h0M110.0 375.3h0M101.7 369.9h0M104.6 365.2h0M106.6 372.8h0M106.6 370.4h0M114.7 372.6h0M105.6 372.2h0M114.4 367.5h0M96.9 370.5h0M109.3 373.9h0M105.5 369.1h0M107.4 376.9h0M110.7 368.3h0M112.0 374.8h0M94.3 370.6h0M120.7 371.8h0M120.9 370.8h0M119.5 370.5h0M119.1 370.8h0M120.0 370.9h0M118.1 372.0h0M119.5 370.6h0M117.0 371.5h0M119.5 372.2h0M118.7 371.2h0M122.0 370.8h0M117.9 372.5h0M120.2 370.6h0M121.5 371.7h0" stroke="#d764e0" stroke-width="2.3" stroke-linecap="round"/>
<path d="M99.8 278.8h0M100.2 276.7h0M100.5 276.9h0M101.1 277.0h0M100.6 277.7h0M100.8 276.7h0M98.9 278.4h0M100.3 277.1h0M101.6 283.3h0M103.0 282.8h0M101.8 283.9h0M101.4 283.4h0M102.6 283.7h0" stroke="#84ae10" stroke-width="2.3" stroke-linecap="round"/>
<path d="M90.6 293.1h0M88.9 293.5h0M88.8 293.9h0M89.7 292.8h0M89.6 292.6h0M90.3 293.1h0" stroke="#62b446" stroke-width="2.3" stroke-linecap="round"/>
<path d="M55.6 315.1h0M55.9 315.3h0M145.1 326.8h0" stroke="#32b27e" stroke-width="2.3" stroke-linecap="round"/>
<path d="M105.5 318.4h0M97.1 337.0h0M97.1 339.6h0M96.5 340.8h0M95.6 342.2h0M94.6 343.3h0M93.6 344.1h0M96.2 351.4h0" stroke="#ec55b4" stroke-width="2.3" stroke-linecap="round"/>
<path d="M100.8 344.2h0M101.6 347.0h0M93.7 359.4h0M97.5 356.7h0M91.1 355.5h0M95.4 361.2h0M88.6 358.3h0M88.4 365.2h0M91.4 360.6h0M98.3 358.4h0M96.2 357.2h0M92.4 366.7h0M88.2 363.8h0M96.5 365.1h0M91.1 357.2h0M99.6 360.4h0M86.6 357.2h0M88.1 365.6h0M90.7 357.8h0M90.8 354.6h0M88.1 367.7h0M92.5 359.7h0M94.4 364.6h0M93.2 358.8h0M92.8 366.7h0M94.7 362.0h0M91.3 370.0h0M89.3 357.5h0M89.9 365.4h0M89.9 363.6h0M91.4 370.6h0M96.8 365.9h0M94.6 358.7h0M93.8 355.0h0M87.7 366.6h0M98.3 361.3h0M97.8 362.5h0M93.7 368.4h0M97.7 358.9h0M92.2 356.8h0M92.9 369.1h0M92.7 368.3h0M92.9 357.0h0M91.3 359.8h0M89.3 361.6h0M97.6 362.5h0M92.4 366.8h0M88.3 358.0h0M95.3 359.5h0M92.2 363.8h0M98.1 367.6h0M100.2 364.8h0M89.9 359.2h0M89.3 356.2h0M96.4 366.2h0M94.8 360.0h0M95.4 360.0h0M87.9 360.8h0M92.3 355.4h0M88.0 361.4h0M95.2 370.5h0M88.2 363.9h0M95.3 358.8h0M89.4 355.9h0M98.6 368.8h0M94.4 359.1h0M93.0 366.2h0M89.7 365.2h0M94.9 361.7h0M89.0 357.3h0M96.3 364.7h0M93.7 371.4h0M87.7 365.7h0M89.7 368.0h0M97.2 362.5h0M91.4 356.1h0M89.5 365.2h0M91.2 366.2h0M92.1 363.7h0M92.9 356.5h0M92.9 371.7h0M91.5 360.4h0M87.6 363.6h0M93.8 368.0h0M93.6 371.7h0M96.9 357.3h0M92.4 359.5h0M92.5 368.4h0M97.0 358.0h0M93.6 358.9h0M96.2 367.5h0M96.5 359.1h0M89.0 359.9h0M92.1 360.2h0M98.2 365.9h0M93.3 362.7h0M88.8 366.8h0M96.4 356.8h0M90.9 367.8h0M94.6 357.8h0M91.0 366.1h0M95.5 363.3h0M91.5 361.7h0M96.0 364.4h0M89.2 359.7h0M97.7 363.0h0M95.7 357.2h0M93.9 359.7h0M88.3 366.7h0M89.0 361.1h0M96.4 363.1h0M90.2 361.6h0M88.9 364.0h0M90.7 369.9h0M94.4 355.4h0M94.9 359.0h0M93.2 356.2h0M90.4 360.1h0M88.0 365.2h0M90.0 358.8h0M96.1 358.3h0M98.3 360.9h0M92.0 370.5h0M92.1 359.6h0M88.2 358.5h0M94.2 361.8h0M91.3 369.4h0M87.5 357.6h0M90.2 356.5h0M90.3 355.9h0M92.4 359.2h0M92.9 367.5h0M88.8 361.3h0M92.1 360.0h0M89.3 367.5h0M90.6 358.6h0M93.3 369.2h0M93.3 363.1h0M87.7 355.5h0M93.2 369.9h0M90.7 354.1h0M90.3 366.3h0M88.9 355.4h0M97.0 360.7h0M88.9 356.8h0M94.1 361.3h0M96.7 362.0h0M89.1 364.2h0M93.6 364.0h0M86.6 358.9h0M96.4 368.9h0M97.2 366.4h0M89.2 358.7h0M86.8 360.1h0M91.7 364.3h0M94.4 359.3h0M92.7 359.7h0M97.0 356.9h0M89.5 365.6h0M94.5 372.6h0M91.7 356.4h0M95.1 363.8h0M90.3 356.3h0M93.1 355.1h0M93.8 362.9h0M94.6 363.1h0M92.1 359.0h0M97.8 363.1h0M88.8 356.8h0M93.3 364.4h0M89.7 355.4h0M88.1 359.2h0M93.7 357.8h0M88.9 359.7h0M92.4 369.4h0M91.6 353.8h0M93.8 366.0h0M93.1 368.3h0M92.5 355.0h0M93.5 364.2h0M96.2 363.4h0M86.8 362.8h0M94.2 364.3h0M90.3 359.2h0M90.6 357.0h0M93.9 357.2h0M94.7 360.3h0M90.2 359.9h0M93.1 362.5h0M92.7 364.2h0M90.4 359.4h0M93.4 359.9h0M87.2 356.9h0M97.8 364.0h0M88.3 367.4h0M95.7 360.3h0M91.8 370.3h0" stroke="#b07afa" stroke-width="2.3" stroke-linecap="round"/>
<path d="M117.9 316.9h0M119.3 316.4h0M120.5 316.2h0M119.2 317.5h0M120.0 322.1h0M121.3 320.8h0M122.6 320.0h0M123.1 319.3h0M120.5 321.7h0M121.8 320.6h0" stroke="#2bb8c4" stroke-width="2.3" stroke-linecap="round"/>
<path d="M127.4 320.8h0M117.5 326.6h0M118.7 330.3h0M121.8 329.5h0M116.8 334.4h0M123.2 346.2h0M107.9 349.8h0" stroke="#2bb8c4" stroke-width="2.3" stroke-linecap="round"/>
<path d="M134.8 322.9h0M155.0 327.5h0M149.8 324.0h0M152.1 324.0h0M151.0 327.3h0M148.7 330.1h0M149.7 329.0h0M152.3 324.7h0M150.3 321.8h0M148.0 330.8h0M149.2 328.7h0M146.8 327.3h0M149.5 327.3h0M149.3 323.8h0M147.0 329.2h0M148.5 326.3h0M155.5 330.1h0M155.0 330.8h0M153.1 325.5h0M149.9 329.0h0M152.9 324.3h0M154.5 325.2h0M152.5 323.5h0M153.8 329.2h0M149.4 325.9h0M152.5 323.4h0M154.4 327.7h0M153.0 324.2h0M150.4 329.4h0M154.8 330.3h0M154.7 328.1h0M146.9 330.3h0M152.6 325.9h0M153.3 330.5h0M155.6 329.0h0M154.0 330.7h0M152.8 326.7h0M146.3 329.3h0M150.6 327.0h0M153.2 330.3h0M148.6 327.4h0M156.0 328.7h0M151.8 324.2h0M150.2 323.8h0M153.2 328.6h0M151.5 326.1h0M149.2 331.1h0M147.7 327.4h0M149.5 330.9h0M151.3 330.3h0M147.4 328.4h0M152.3 326.7h0M153.8 330.1h0M149.6 323.6h0M147.8 329.2h0M150.1 322.4h0M149.6 327.0h0M149.5 323.0h0M146.8 329.7h0M150.5 323.2h0M155.5 328.6h0M152.7 332.2h0M152.8 324.4h0M146.0 330.4h0M147.6 328.6h0M147.8 329.9h0M154.4 329.3h0M149.3 323.4h0M154.4 325.0h0M149.2 327.5h0M149.7 330.6h0M151.9 328.8h0M154.3 329.0h0M150.8 327.0h0M150.6 332.1h0M150.7 323.2h0M154.8 331.1h0M154.2 326.6h0M148.7 328.7h0M151.3 326.3h0M149.0 326.3h0" stroke="#5aaaeb" stroke-width="2.3" stroke-linecap="round"/>
<path d="M160.4 327.8h0M160.8 330.2h0M161.9 327.5h0M159.8 328.4h0M159.8 328.7h0M161.1 330.1h0M161.3 329.4h0M162.9 329.4h0M161.7 328.9h0M160.3 327.6h0M162.5 329.8h0M163.3 329.1h0M160.0 329.4h0M162.2 328.4h0M161.7 327.8h0M161.3 328.0h0M158.7 327.8h0M160.9 327.9h0" stroke="#6d92f5" stroke-width="2.3" stroke-linecap="round"/>
<path d="M125.8 362.4h0M126.8 363.2h0M127.7 364.3h0M128.0 365.6h0M127.9 367.0h0M127.2 368.4h0M126.2 369.4h0M125.6 366.2h0M126.5 365.0h0M123.2 367.1h0M122.0 368.3h0M120.8 370.0h0M121.6 371.5h0M123.2 372.7h0M131.0 368.4h0M132.7 371.4h0M135.5 370.7h0M129.7 375.1h0M134.0 373.2h0M134.4 373.9h0M139.8 374.1h0M138.3 376.9h0M133.6 376.7h0M133.8 375.5h0M139.9 377.0h0M132.8 373.2h0M137.8 374.6h0M140.9 377.1h0M140.2 375.2h0M139.3 375.7h0M141.3 376.9h0M141.8 375.5h0M136.6 375.1h0M142.3 377.4h0M143.0 376.9h0M135.1 373.0h0M139.4 373.8h0M136.8 373.0h0M134.3 377.5h0M135.5 377.3h0M136.5 378.1h0M136.0 374.4h0M137.8 374.6h0M135.4 373.0h0M134.0 376.8h0M139.8 375.5h0M135.5 374.3h0M142.0 376.9h0M139.1 376.9h0M134.2 375.7h0M135.5 374.8h0M134.6 376.3h0M139.7 377.4h0M140.2 376.2h0M143.7 377.5h0M139.1 374.2h0M133.8 374.9h0M141.1 378.7h0M140.0 376.6h0M143.7 377.6h0M138.3 375.3h0M141.9 374.5h0M133.6 376.4h0M140.5 378.4h0M134.2 373.7h0M138.6 374.1h0M138.1 377.5h0M139.6 373.7h0M133.7 375.8h0M137.2 378.6h0M137.6 377.7h0M141.9 376.3h0M135.5 374.6h0M138.3 374.7h0" stroke="#d98b12" stroke-width="2.3" stroke-linecap="round"/>
<path d="M147.1 381.6h0M150.9 378.4h0M146.0 380.5h0M152.6 381.5h0M154.0 378.4h0M154.2 380.4h0M143.3 378.9h0M148.3 379.8h0M145.8 382.3h0M150.3 381.8h0M144.0 379.6h0M146.6 378.1h0M146.7 378.6h0M155.4 381.2h0M149.2 379.2h0M149.0 380.6h0M155.4 378.5h0M146.2 377.2h0M149.8 382.0h0M144.6 380.0h0M148.3 383.2h0M156.0 379.3h0M152.3 379.0h0M150.0 379.0h0M149.1 379.9h0M156.5 379.6h0M156.2 381.3h0M156.2 379.3h0M148.1 382.8h0M145.3 382.4h0M148.8 379.7h0M148.3 379.6h0M147.7 377.1h0M151.3 379.7h0M157.4 379.6h0M147.4 379.6h0M151.3 380.7h0M148.4 378.1h0M146.8 380.4h0M149.0 383.6h0M147.1 382.9h0M154.3 379.4h0M150.2 380.5h0M152.8 382.1h0M147.8 383.5h0M155.3 378.4h0M152.1 378.5h0M149.0 378.4h0M145.0 377.5h0M154.4 379.8h0M153.3 379.3h0M154.0 381.3h0M152.4 379.7h0M150.5 381.4h0M143.7 379.0h0M153.1 378.6h0M145.7 381.7h0M146.3 381.6h0M147.6 382.4h0M151.0 382.4h0" stroke="#b3a013" stroke-width="2.3" stroke-linecap="round"/>
<rect x="50.10" y="269.70" width="118.00" height="118.40" fill="none" stroke="#1a1a1a" stroke-width="1.3"/>
<line x1="46.90" y1="387.90" x2="50.10" y2="387.90" stroke="#1a1a1a" stroke-width="1.0"/>
<text transform="translate(44.40 390.30)" font-size="9.0" text-anchor="end" >200</text>
<line x1="46.90" y1="360.95" x2="50.10" y2="360.95" stroke="#1a1a1a" stroke-width="1.0"/>
<text transform="translate(44.40 363.35)" font-size="9.0" text-anchor="end" >300</text>
<line x1="46.90" y1="334.00" x2="50.10" y2="334.00" stroke="#1a1a1a" stroke-width="1.0"/>
<text transform="translate(44.40 336.40)" font-size="9.0" text-anchor="end" >400</text>
<line x1="46.90" y1="307.05" x2="50.10" y2="307.05" stroke="#1a1a1a" stroke-width="1.0"/>
<text transform="translate(44.40 309.45)" font-size="9.0" text-anchor="end" >500</text>
<line x1="46.90" y1="280.10" x2="50.10" y2="280.10" stroke="#1a1a1a" stroke-width="1.0"/>
<text transform="translate(44.40 282.50)" font-size="9.0" text-anchor="end" >600</text>
<line x1="80.50" y1="388.10" x2="80.50" y2="391.50" stroke="#1a1a1a" stroke-width="1.0"/>
<text transform="translate(80.50 402.30)" font-size="9.0" text-anchor="middle" >600</text>
<line x1="119.70" y1="388.10" x2="119.70" y2="391.50" stroke="#1a1a1a" stroke-width="1.0"/>
<text transform="translate(119.70 402.30)" font-size="9.0" text-anchor="middle" >800</text>
<line x1="158.90" y1="388.10" x2="158.90" y2="391.50" stroke="#1a1a1a" stroke-width="1.0"/>
<text transform="translate(158.90 402.30)" font-size="9.0" text-anchor="middle" >1000</text>
<text transform="translate(108.80 414.90) scale(0.5891 1)" font-size="10.8" text-anchor="middle" stroke="#1a1a1a" stroke-width="0.3" >Component 1</text>
<text transform="translate(23.50 328.90) rotate(-90) scale(0.5984 1)" font-size="10.8" text-anchor="middle" stroke="#1a1a1a" stroke-width="0.3" >Component 2</text>
<path d="M267.6 359.3h0M292.3 283.4h0M285.5 295.4h0M280.8 292.1h0M287.1 309.2h0M326.6 330.5h0M274.6 298.4h0M286.6 301.1h0M290.5 287.3h0M326.5 328.6h0M335.2 327.8h0M293.3 282.8h0M288.2 298.8h0M227.5 315.3h0M323.0 328.9h0M293.2 316.2h0M295.7 284.9h0M326.4 325.4h0M293.3 290.1h0M293.0 278.7h0M286.5 294.4h0M274.2 284.1h0M287.3 288.1h0M328.1 330.2h0M267.9 371.6h0" stroke="#c5c5c5" stroke-width="2.40" stroke-linecap="round"/>
<path d="M282.9 298.7h0M277.3 302.6h0M325.9 325.9h0M289.6 287.9h0M292.3 282.9h0M292.1 286.8h0M272.5 364.5h0M288.4 281.7h0M327.7 325.0h0M298.3 292.7h0M263.7 361.4h0M280.7 294.9h0M287.1 290.2h0M286.7 295.6h0M293.1 289.7h0M272.7 277.3h0M275.5 294.5h0M296.0 290.4h0M291.6 282.7h0M294.0 285.4h0M288.2 305.5h0M320.6 328.3h0M288.0 295.3h0M283.9 291.0h0M323.4 323.7h0M274.5 298.0h0M307.8 322.9h0M325.2 328.7h0M293.8 276.9h0M294.4 291.6h0" stroke="#c9bfbd" stroke-width="2.40" stroke-linecap="round"/>
<path d="M288.7 283.0h0M288.6 304.5h0M275.5 293.6h0M290.6 316.9h0M287.7 299.9h0M283.1 306.4h0" stroke="#cdbab5" stroke-width="2.40" stroke-linecap="round"/>
<path d="M290.0 286.5h0M282.3 301.9h0" stroke="#d0b4ac" stroke-width="2.40" stroke-linecap="round"/>
<path d="M275.7 294.2h0" stroke="#d3aea4" stroke-width="2.40" stroke-linecap="round"/>
<path d="M281.9 304.9h0M279.0 300.4h0M296.7 281.8h0" stroke="#d6a89c" stroke-width="2.40" stroke-linecap="round"/>
<path d="M333.7 327.5h0M287.0 293.2h0M327.5 326.6h0M296.1 285.5h0M334.3 327.8h0" stroke="#d9a394" stroke-width="2.40" stroke-linecap="round"/>
<path d="M286.4 299.5h0M284.4 296.3h0M290.7 284.5h0M296.2 283.6h0M288.2 286.9h0M292.8 281.4h0M324.2 327.3h0M323.8 332.0h0M301.3 285.8h0M318.3 326.7h0" stroke="#db9d8c" stroke-width="2.40" stroke-linecap="round"/>
<path d="M289.1 307.7h0M334.2 330.2h0M275.2 296.2h0M283.8 299.8h0M299.3 285.3h0" stroke="#dd9785" stroke-width="2.40" stroke-linecap="round"/>
<path d="M294.5 282.3h0M272.9 277.9h0M290.3 282.1h0" stroke="#de917d" stroke-width="2.40" stroke-linecap="round"/>
<path d="M285.4 293.4h0M294.4 281.2h0M279.7 305.8h0M282.3 296.6h0M298.0 294.2h0" stroke="#e08b75" stroke-width="2.40" stroke-linecap="round"/>
<path d="M268.8 364.9h0M335.1 328.8h0M281.5 296.1h0M280.4 295.2h0M271.9 293.7h0M289.5 280.2h0M291.6 284.7h0M288.4 284.0h0M282.1 297.7h0" stroke="#e1856d" stroke-width="2.40" stroke-linecap="round"/>
<path d="M260.7 358.1h0M260.0 360.5h0M262.5 356.1h0M277.5 294.1h0M273.2 297.6h0M268.6 364.4h0M281.2 302.5h0" stroke="#e3785e" stroke-width="2.40" stroke-linecap="round"/>
<path d="M279.1 300.4h0M266.6 359.0h0M290.7 371.6h0M279.8 364.2h0M262.9 369.6h0M264.7 358.9h0M264.9 359.5h0M265.3 368.0h0M258.9 362.6h0" stroke="#e37156" stroke-width="2.40" stroke-linecap="round"/>
<path d="M269.5 366.1h0M266.2 357.0h0M324.1 378.1h0M280.4 373.2h0M278.0 368.8h0M261.4 356.0h0M287.3 372.8h0M271.8 368.7h0M264.3 363.4h0M270.4 367.3h0M265.5 364.1h0" stroke="#e46b4f" stroke-width="2.40" stroke-linecap="round"/>
<path d="M270.1 373.1h0M270.4 371.2h0M265.9 358.7h0M258.7 358.7h0M310.2 378.3h0M324.2 382.1h0M278.1 361.9h0M285.7 369.3h0M272.5 365.8h0M262.5 355.7h0M277.9 363.6h0M319.4 376.8h0" stroke="#e46447" stroke-width="2.40" stroke-linecap="round"/>
<path d="M262.1 365.1h0M270.7 374.6h0M261.2 359.6h0M278.5 373.1h0M311.1 377.1h0M279.3 363.0h0M269.1 365.6h0M327.3 380.9h0M270.2 362.3h0M269.9 362.2h0M321.6 377.7h0M278.1 367.9h0M282.6 366.2h0M262.1 358.6h0M309.5 377.8h0M282.3 373.7h0" stroke="#e45d40" stroke-width="2.40" stroke-linecap="round"/>
<path d="M277.4 375.7h0M278.4 371.6h0M266.0 371.1h0M283.1 367.4h0M273.1 370.4h0M283.1 366.4h0M328.7 378.1h0M265.1 367.2h0M326.1 381.7h0M282.7 364.5h0M310.8 374.2h0M259.8 366.3h0M317.8 379.7h0M319.5 381.3h0" stroke="#e45538" stroke-width="2.40" stroke-linecap="round"/>
<path d="M263.8 353.6h0M271.8 362.5h0M289.7 371.2h0M283.9 372.2h0M264.2 370.2h0M274.5 366.0h0M270.0 362.7h0M298.4 365.9h0M288.0 372.3h0M270.5 368.9h0M287.4 372.3h0M276.8 366.3h0M279.2 365.0h0M275.2 361.3h0M288.0 369.5h0M325.6 378.6h0M264.6 359.2h0M282.4 365.3h0M281.5 371.6h0M277.4 377.1h0M282.4 366.1h0M281.9 363.0h0M272.3 361.6h0" stroke="#e44d30" stroke-width="2.40" stroke-linecap="round"/>
<path d="M264.9 364.0h0M265.1 356.8h0M264.3 360.0h0M274.3 367.3h0M266.8 362.9h0M284.5 371.1h0M280.8 366.9h0M272.0 369.7h0M299.3 364.7h0M284.2 366.8h0M267.0 360.1h0M278.4 376.4h0M275.4 372.7h0M265.9 371.4h0M282.5 367.9h0M279.3 370.1h0M306.6 376.3h0M264.7 369.1h0M282.7 369.5h0M278.6 372.7h0M280.9 367.0h0M268.8 340.7h0" stroke="#e34428" stroke-width="2.40" stroke-linecap="round"/>
<path d="M323.5 381.4h0M283.8 376.1h0M277.8 361.3h0M281.5 369.8h0M270.1 363.8h0M266.7 358.9h0" stroke="#e33b20" stroke-width="2.40" stroke-linecap="round"/>
<path d="M277.6 362.8h0M264.7 368.2h0M326.4 378.2h0M305.7 372.8h0M311.6 373.7h0M315.0 374.2h0M274.4 362.1h0M276.9 369.5h0M299.6 362.9h0M282.4 376.2h0M285.6 371.3h0" stroke="#e23018" stroke-width="2.40" stroke-linecap="round"/>
<path d="M314.2 378.3h0M280.1 375.7h0" stroke="#e2220e" stroke-width="2.40" stroke-linecap="round"/>
<path d="M308.5 374.5h0M270.7 361.0h0M268.5 351.2h0" stroke="#e10a02" stroke-width="2.40" stroke-linecap="round"/>
<path d="M274.0 283.5h0M296.6 279.0h0M291.7 281.0h0M286.8 302.8h0M309.8 372.7h0M322.9 330.5h0M283.4 307.6h0M259.7 363.3h0M323.0 324.0h0M279.7 295.5h0M277.8 370.7h0M267.7 360.9h0M321.0 329.9h0M272.4 299.2h0M296.1 288.0h0M300.2 320.8h0M334.7 328.0h0M284.9 293.5h0M321.0 329.1h0M290.4 281.9h0M276.6 296.6h0M282.8 303.5h0M274.0 299.1h0M274.7 295.6h0M276.4 294.1h0M321.8 327.3h0M293.1 276.0h0" stroke="#c5c5c5" stroke-width="2.40" stroke-linecap="round"/>
<path d="M286.1 303.0h0M285.5 299.2h0M336.8 329.0h0M277.2 300.3h0M284.0 307.9h0M281.7 304.1h0M288.8 286.7h0M278.8 292.3h0M281.3 297.8h0M297.6 285.6h0M288.6 306.3h0M285.3 306.9h0M283.6 301.8h0M290.7 282.6h0M282.5 307.1h0M287.9 280.3h0M333.2 328.6h0M285.8 305.2h0M283.7 305.0h0M289.3 307.7h0M309.6 374.8h0M327.1 330.0h0M293.5 369.7h0M291.9 285.9h0M324.6 326.2h0M326.5 330.2h0" stroke="#c9bfbd" stroke-width="2.40" stroke-linecap="round"/>
<path d="M289.8 279.9h0M289.5 285.4h0M300.4 286.7h0M322.6 323.7h0M291.5 292.6h0" stroke="#cdbab5" stroke-width="2.40" stroke-linecap="round"/>
<path d="M292.0 277.6h0M296.2 286.9h0M285.5 301.0h0" stroke="#d3aea4" stroke-width="2.40" stroke-linecap="round"/>
<path d="M262.8 293.2h0M271.3 294.9h0M333.8 327.8h0M284.7 294.0h0M326.2 324.2h0" stroke="#d6a89c" stroke-width="2.40" stroke-linecap="round"/>
<path d="M272.6 277.0h0M271.8 297.9h0M292.0 316.4h0" stroke="#d9a394" stroke-width="2.40" stroke-linecap="round"/>
<path d="M271.2 278.6h0M334.8 329.4h0M277.7 298.4h0M293.5 280.4h0M328.8 328.5h0M285.1 293.6h0M292.5 289.4h0M296.5 287.2h0M325.8 323.4h0" stroke="#db9d8c" stroke-width="2.40" stroke-linecap="round"/>
<path d="M328.3 330.7h0M277.4 303.3h0M282.0 304.5h0M282.6 303.6h0M289.5 291.1h0M266.8 358.4h0M293.8 284.9h0M336.0 329.7h0M287.3 296.6h0M281.1 303.7h0" stroke="#dd9785" stroke-width="2.40" stroke-linecap="round"/>
<path d="M275.8 301.7h0M282.7 305.7h0M290.0 296.3h0M285.1 299.2h0M295.6 279.3h0M322.9 326.9h0M297.3 291.5h0M297.2 289.1h0M280.3 305.5h0" stroke="#de917d" stroke-width="2.40" stroke-linecap="round"/>
<path d="M273.1 276.9h0M278.4 293.1h0M288.0 293.6h0M291.3 291.3h0M287.9 281.0h0" stroke="#e08b75" stroke-width="2.40" stroke-linecap="round"/>
<path d="M289.7 293.1h0M296.1 283.8h0M283.7 301.8h0M333.4 329.3h0" stroke="#e1856d" stroke-width="2.40" stroke-linecap="round"/>
<path d="M270.6 360.6h0M298.6 289.6h0M278.5 299.8h0M322.5 323.3h0M287.3 285.1h0M265.4 358.5h0" stroke="#e27e66" stroke-width="2.40" stroke-linecap="round"/>
<path d="M297.7 285.5h0M320.9 327.4h0M292.4 289.1h0M287.7 305.7h0M267.7 363.1h0M302.6 374.8h0" stroke="#e3785e" stroke-width="2.40" stroke-linecap="round"/>
<path d="M279.6 364.4h0M281.7 292.0h0M261.3 359.5h0M275.1 372.2h0M261.9 355.2h0M263.6 370.3h0" stroke="#e37156" stroke-width="2.40" stroke-linecap="round"/>
<path d="M288.9 289.3h0M261.7 365.3h0M260.9 361.1h0M286.2 371.7h0M279.2 365.1h0M274.8 369.5h0M262.4 359.7h0M260.4 367.1h0M294.2 371.4h0" stroke="#e46b4f" stroke-width="2.40" stroke-linecap="round"/>
<path d="M270.8 372.5h0M288.0 374.2h0M325.4 378.2h0M261.0 363.7h0M320.0 380.1h0M261.6 355.7h0M260.3 363.6h0M262.8 357.6h0M280.7 362.9h0M274.8 364.2h0M291.8 370.5h0M291.4 370.9h0" stroke="#e46447" stroke-width="2.40" stroke-linecap="round"/>
<path d="M281.5 362.5h0M327.3 378.1h0M284.2 365.5h0M323.8 381.0h0M306.7 374.5h0M279.0 373.6h0M312.6 373.4h0M264.4 363.5h0M279.2 370.2h0M277.4 371.0h0M283.5 367.4h0M285.1 375.3h0M286.8 366.2h0M271.5 370.3h0M268.4 357.0h0M279.3 368.8h0" stroke="#e45d40" stroke-width="2.40" stroke-linecap="round"/>
<path d="M283.8 372.2h0M287.7 368.4h0M261.8 364.9h0M308.5 370.4h0M281.4 375.3h0M298.6 362.1h0M277.5 364.5h0M261.7 364.9h0M269.1 373.9h0M290.8 354.1h0M284.8 369.1h0M273.4 366.3h0M282.5 375.0h0M270.0 358.7h0M284.5 372.4h0M278.0 369.7h0M279.6 374.7h0M283.1 363.4h0M263.5 355.8h0M264.3 359.7h0M321.3 382.5h0M274.0 346.8h0M284.6 374.4h0" stroke="#e45538" stroke-width="2.40" stroke-linecap="round"/>
<path d="M279.8 363.3h0M310.8 374.3h0M280.0 371.7h0M272.0 364.4h0M276.3 376.8h0M274.5 367.0h0M287.0 371.2h0M280.4 372.6h0M282.9 369.7h0M276.8 371.9h0" stroke="#e44d30" stroke-width="2.40" stroke-linecap="round"/>
<path d="M278.4 367.4h0M265.9 368.1h0M260.4 357.7h0M283.3 368.0h0M265.2 371.4h0M268.6 356.6h0M312.9 373.8h0M267.9 342.1h0M260.6 364.9h0M264.4 356.5h0M280.3 366.9h0M265.7 363.9h0M281.5 368.8h0M272.9 368.9h0M286.2 368.3h0M263.9 356.2h0" stroke="#e34428" stroke-width="2.40" stroke-linecap="round"/>
<path d="M270.5 367.4h0M312.9 375.2h0M266.6 364.3h0M285.3 375.7h0M269.6 364.5h0M278.3 373.5h0M291.4 330.2h0M265.0 366.4h0M279.0 367.5h0M285.3 365.9h0M287.1 368.5h0M279.6 364.6h0M313.0 376.2h0M278.0 366.7h0" stroke="#e33b20" stroke-width="2.40" stroke-linecap="round"/>
<path d="M280.9 372.1h0M278.3 347.4h0M270.4 372.8h0M269.4 339.5h0M296.0 372.4h0M261.5 367.2h0M322.2 378.0h0M265.1 356.3h0M265.8 343.9h0M274.6 363.2h0" stroke="#e23018" stroke-width="2.40" stroke-linecap="round"/>
<path d="M273.7 364.2h0M285.8 371.8h0M280.4 349.6h0M265.6 362.5h0" stroke="#e2220e" stroke-width="2.40" stroke-linecap="round"/>
<path d="M265.9 363.8h0M265.2 365.9h0" stroke="#e10a02" stroke-width="2.40" stroke-linecap="round"/>
<path d="M289.4 284.3h0M321.9 330.0h0M322.3 326.3h0M296.5 293.7h0M296.7 288.7h0M290.0 303.9h0M288.4 304.0h0M286.0 292.9h0M278.9 300.2h0M329.3 328.7h0M293.5 293.8h0M299.0 284.8h0M292.8 287.4h0M273.4 293.9h0M335.3 327.5h0M276.8 302.7h0M299.3 289.9h0M288.3 306.0h0M276.2 298.4h0M293.2 279.1h0M284.7 293.8h0M292.7 286.3h0M285.3 370.8h0M297.0 288.5h0M294.6 292.7h0M320.8 328.5h0M319.2 330.3h0" stroke="#c5c5c5" stroke-width="2.40" stroke-linecap="round"/>
<path d="M326.3 324.2h0M277.8 298.1h0M277.6 292.6h0M290.0 284.8h0M281.1 306.5h0M287.0 305.8h0M227.2 315.1h0M279.0 305.3h0M285.1 301.2h0M285.6 294.3h0M322.8 323.5h0M323.9 323.2h0M289.0 300.2h0M285.1 293.7h0M287.5 307.4h0M287.1 301.3h0M287.3 287.6h0M269.6 295.9h0M285.4 294.5h0M327.3 330.6h0M290.6 280.7h0" stroke="#c9bfbd" stroke-width="2.40" stroke-linecap="round"/>
<path d="M327.7 329.2h0M287.5 305.2h0M295.0 278.2h0M262.4 293.2h0M282.3 294.8h0M296.0 282.6h0" stroke="#cdbab5" stroke-width="2.40" stroke-linecap="round"/>
<path d="M288.4 293.3h0" stroke="#d0b4ac" stroke-width="2.40" stroke-linecap="round"/>
<path d="M285.4 299.8h0M261.7 292.8h0M336.4 329.4h0" stroke="#d3aea4" stroke-width="2.40" stroke-linecap="round"/>
<path d="M325.1 324.1h0M324.1 326.9h0M274.3 294.4h0M300.4 283.4h0" stroke="#d6a89c" stroke-width="2.40" stroke-linecap="round"/>
<path d="M279.0 301.2h0M282.3 297.5h0M283.4 304.0h0M322.4 327.5h0M328.2 331.0h0M335.7 328.4h0M286.3 304.1h0M327.6 329.0h0" stroke="#d9a394" stroke-width="2.40" stroke-linecap="round"/>
<path d="M325.5 326.6h0M292.2 279.9h0M298.6 282.5h0M283.4 307.3h0M278.3 304.4h0M321.7 326.2h0M297.3 279.7h0M279.5 301.1h0M285.4 303.9h0" stroke="#db9d8c" stroke-width="2.40" stroke-linecap="round"/>
<path d="M278.0 292.8h0M290.9 283.6h0M285.0 298.1h0M295.2 291.4h0M295.9 319.3h0M288.2 285.6h0M286.2 307.4h0M294.2 284.5h0M285.9 296.4h0M283.3 304.6h0M275.0 283.9h0" stroke="#dd9785" stroke-width="2.40" stroke-linecap="round"/>
<path d="M292.3 281.8h0" stroke="#de917d" stroke-width="2.40" stroke-linecap="round"/>
<path d="M319.4 329.2h0M287.4 286.0h0M284.6 307.6h0M284.6 307.9h0M282.7 296.1h0" stroke="#e08b75" stroke-width="2.40" stroke-linecap="round"/>
<path d="M287.7 299.4h0M332.1 327.7h0M281.7 304.4h0M298.5 286.0h0M280.5 304.5h0M275.8 298.3h0M281.0 296.6h0M280.7 296.3h0" stroke="#e1856d" stroke-width="2.40" stroke-linecap="round"/>
<path d="M282.2 296.0h0M260.4 358.3h0M262.5 366.1h0" stroke="#e27e66" stroke-width="2.40" stroke-linecap="round"/>
<path d="M281.2 365.5h0M318.2 377.1h0M263.4 366.0h0M293.2 288.3h0" stroke="#e3785e" stroke-width="2.40" stroke-linecap="round"/>
<path d="M268.4 358.1h0M260.5 366.5h0" stroke="#e37156" stroke-width="2.40" stroke-linecap="round"/>
<path d="M287.6 371.5h0M262.8 356.7h0M264.7 359.4h0M267.5 370.2h0M277.1 365.0h0M305.6 371.1h0M274.4 376.1h0M275.4 373.1h0M308.5 374.0h0M278.1 376.7h0M260.1 365.0h0M262.1 358.9h0M271.5 372.5h0" stroke="#e46b4f" stroke-width="2.40" stroke-linecap="round"/>
<path d="M292.2 370.2h0M313.6 378.1h0M277.1 374.4h0M321.5 379.4h0M273.0 372.8h0M261.0 355.2h0M315.1 376.6h0M280.0 369.9h0" stroke="#e46447" stroke-width="2.40" stroke-linecap="round"/>
<path d="M265.6 369.0h0M276.4 364.3h0M276.6 372.7h0M262.4 361.3h0M260.9 356.6h0M280.8 376.8h0M312.1 376.6h0M286.6 366.6h0M287.6 370.3h0M265.9 359.1h0M262.6 359.8h0M264.3 359.4h0M262.6 359.2h0M312.4 373.5h0M298.6 373.6h0M272.2 367.6h0M266.9 361.8h0" stroke="#e45d40" stroke-width="2.40" stroke-linecap="round"/>
<path d="M270.2 368.6h0M264.7 354.8h0M262.3 356.3h0M268.5 367.2h0M280.2 363.4h0M271.9 360.2h0M315.4 377.1h0M281.0 366.6h0M276.6 364.1h0M277.8 366.7h0M285.5 373.6h0M267.4 363.5h0M320.3 382.6h0M327.7 379.5h0M286.1 367.1h0M271.3 371.7h0M263.1 365.8h0M261.3 358.5h0M287.9 369.4h0M260.4 363.6h0M273.5 373.2h0" stroke="#e45538" stroke-width="2.40" stroke-linecap="round"/>
<path d="M262.8 358.4h0M316.1 376.6h0M269.2 370.2h0M325.6 379.4h0M287.1 370.8h0M259.8 365.5h0M276.6 361.1h0M314.3 376.6h0M262.4 359.0h0M293.5 371.5h0M322.2 383.3h0M282.9 372.2h0M268.8 358.9h0M266.5 361.5h0M285.6 371.7h0M314.9 375.2h0M275.7 362.0h0M272.9 373.3h0M324.6 380.4h0M292.9 370.2h0M300.0 368.1h0M266.8 357.6h0M275.0 374.7h0" stroke="#e44d30" stroke-width="2.40" stroke-linecap="round"/>
<path d="M296.0 366.8h0M277.3 370.1h0M267.9 370.9h0M318.8 381.4h0M280.3 365.2h0M308.4 372.7h0M261.1 360.8h0M266.8 372.3h0M284.9 372.4h0M269.5 369.3h0M269.3 357.8h0M260.2 367.4h0M278.1 374.2h0" stroke="#e34428" stroke-width="2.40" stroke-linecap="round"/>
<path d="M274.9 370.8h0M274.0 369.6h0M274.0 365.1h0M275.1 369.6h0M307.1 375.4h0M283.5 372.6h0M268.1 367.3h0M269.5 371.8h0M294.5 329.4h0M287.0 367.2h0M320.6 379.3h0M278.0 373.8h0M262.1 363.3h0M268.7 368.6h0M289.4 334.3h0M268.3 364.1h0M265.6 359.6h0" stroke="#e33b20" stroke-width="2.40" stroke-linecap="round"/>
<path d="M274.5 369.2h0M273.3 368.4h0M277.9 318.4h0M319.0 382.0h0M269.4 336.9h0M275.8 364.0h0M279.0 372.5h0" stroke="#e23018" stroke-width="2.40" stroke-linecap="round"/>
<path d="M282.7 374.1h0M275.3 365.8h0M307.4 373.6h0M322.2 380.2h0M283.1 373.7h0" stroke="#e2220e" stroke-width="2.40" stroke-linecap="round"/>
<path d="M280.1 368.7h0M296.0 346.0h0M263.3 357.0h0" stroke="#e10a02" stroke-width="2.40" stroke-linecap="round"/>
<path d="M293.7 277.9h0M282.6 296.8h0M280.5 298.9h0M295.4 292.5h0M283.5 295.0h0M272.8 277.2h0M293.1 280.3h0M287.1 304.8h0M327.7 327.6h0M285.7 305.9h0M328.9 328.9h0M278.4 293.9h0M284.8 303.1h0M321.9 328.7h0M292.3 288.9h0M322.4 328.6h0M292.9 285.2h0M324.7 326.0h0M274.3 376.1h0M278.2 291.6h0M294.7 286.2h0M274.5 300.6h0M286.0 302.6h0M296.9 281.8h0M260.2 365.4h0M283.7 295.1h0" stroke="#c5c5c5" stroke-width="2.40" stroke-linecap="round"/>
<path d="M284.8 293.3h0M322.8 323.0h0M293.7 283.0h0M323.9 326.9h0M277.2 301.8h0M323.8 323.1h0M287.5 294.6h0M299.2 284.5h0M282.7 304.8h0M329.3 378.9h0M289.2 282.3h0M289.7 280.0h0M307.0 376.5h0M294.5 320.6h0M278.2 300.6h0M283.7 305.4h0M273.4 277.2h0M297.0 292.8h0M288.2 301.1h0M285.3 291.2h0M286.5 294.6h0M285.5 306.7h0M322.7 330.8h0M261.8 293.0h0M327.8 325.1h0M296.9 288.9h0M294.8 286.8h0M320.0 329.6h0M285.8 292.8h0M298.8 286.2h0" stroke="#c9bfbd" stroke-width="2.40" stroke-linecap="round"/>
<path d="M333.2 328.3h0M283.4 306.4h0M293.1 282.9h0M274.1 368.7h0M278.4 304.8h0M297.2 289.3h0M299.6 289.8h0" stroke="#cdbab5" stroke-width="2.40" stroke-linecap="round"/>
<path d="M282.7 296.7h0M290.1 286.6h0" stroke="#d0b4ac" stroke-width="2.40" stroke-linecap="round"/>
<path d="M294.3 293.8h0M278.1 295.1h0" stroke="#d3aea4" stroke-width="2.40" stroke-linecap="round"/>
<path d="M291.9 317.5h0M283.0 295.7h0M279.6 294.1h0" stroke="#d6a89c" stroke-width="2.40" stroke-linecap="round"/>
<path d="M272.1 279.0h0M287.9 299.0h0M296.7 293.9h0M277.0 296.3h0M274.5 293.5h0M289.5 285.3h0M324.6 330.2h0M279.3 290.7h0M285.3 298.7h0" stroke="#d9a394" stroke-width="2.40" stroke-linecap="round"/>
<path d="M326.1 324.4h0M282.9 303.2h0M284.8 302.3h0M281.2 294.4h0M291.6 277.9h0" stroke="#db9d8c" stroke-width="2.40" stroke-linecap="round"/>
<path d="M298.9 282.2h0M282.5 295.0h0M291.7 280.2h0M285.4 306.5h0M297.1 287.1h0M294.0 320.8h0M282.2 308.5h0M323.7 329.3h0M300.4 289.1h0M261.1 293.6h0M282.1 307.9h0M298.6 281.2h0M287.6 305.6h0M295.4 320.0h0M328.8 330.0h0M294.0 291.5h0" stroke="#dd9785" stroke-width="2.40" stroke-linecap="round"/>
<path d="M274.1 299.5h0M320.2 329.2h0M286.2 307.0h0M293.3 292.0h0M287.1 304.4h0" stroke="#de917d" stroke-width="2.40" stroke-linecap="round"/>
<path d="M295.2 281.7h0M293.4 285.6h0M281.6 295.2h0M292.3 297.1h0M282.3 293.9h0M295.9 289.9h0" stroke="#e08b75" stroke-width="2.40" stroke-linecap="round"/>
<path d="M283.2 304.4h0M296.2 281.7h0M327.1 329.1h0M280.1 300.1h0M282.9 298.6h0" stroke="#e1856d" stroke-width="2.40" stroke-linecap="round"/>
<path d="M279.4 362.3h0M283.5 304.2h0M285.0 296.0h0M265.4 369.6h0" stroke="#e27e66" stroke-width="2.40" stroke-linecap="round"/>
<path d="M272.4 362.9h0M261.2 357.1h0" stroke="#e3785e" stroke-width="2.40" stroke-linecap="round"/>
<path d="M263.7 360.2h0M268.6 366.0h0M292.2 287.0h0M311.3 375.0h0M311.4 374.4h0M323.4 380.1h0" stroke="#e37156" stroke-width="2.40" stroke-linecap="round"/>
<path d="M274.4 367.4h0M308.4 377.0h0M278.6 365.9h0M265.5 356.0h0" stroke="#e46b4f" stroke-width="2.40" stroke-linecap="round"/>
<path d="M315.0 376.0h0M259.6 357.4h0M323.0 381.7h0M270.1 362.8h0M279.8 367.8h0M264.9 368.0h0M293.6 370.5h0M276.3 362.5h0M329.8 379.3h0M316.8 377.2h0" stroke="#e46447" stroke-width="2.40" stroke-linecap="round"/>
<path d="M273.1 374.5h0M264.5 355.2h0M272.7 373.3h0M273.7 374.0h0M259.3 356.7h0M313.3 374.9h0M271.4 373.9h0M308.5 374.3h0M282.3 373.7h0M292.2 370.3h0M328.7 380.8h0M270.6 358.1h0M285.9 375.1h0M283.8 372.0h0M294.7 368.0h0M261.0 366.5h0M303.9 368.1h0" stroke="#e45d40" stroke-width="2.40" stroke-linecap="round"/>
<path d="M272.4 359.5h0M270.9 366.0h0M311.3 376.6h0M285.0 365.2h0M287.6 369.6h0M265.3 354.9h0M276.3 372.2h0M267.2 358.8h0M262.8 353.9h0M276.4 364.5h0M264.6 366.5h0M283.3 374.9h0M307.1 373.4h0M320.8 382.0h0M276.4 363.8h0M274.5 367.6h0M327.5 380.0h0M264.0 370.0h0M265.1 368.8h0" stroke="#e45538" stroke-width="2.40" stroke-linecap="round"/>
<path d="M278.6 370.9h0M279.0 366.9h0M279.0 376.8h0M318.4 382.0h0M271.2 367.8h0M269.8 356.5h0M279.9 376.6h0M316.8 378.6h0M260.1 361.2h0M274.6 361.7h0M271.9 374.3h0M278.9 369.4h0M266.0 367.7h0M267.1 359.7h0M275.4 372.5h0M283.2 364.3h0M281.0 373.4h0M274.3 364.9h0" stroke="#e44d30" stroke-width="2.40" stroke-linecap="round"/>
<path d="M281.1 374.9h0M274.0 373.8h0M286.2 367.9h0M325.9 381.2h0M270.6 365.6h0M263.0 354.4h0M281.3 364.9h0M326.6 379.0h0M269.5 372.3h0M321.5 382.8h0M279.1 370.1h0M278.0 372.1h0M321.5 379.2h0M280.6 306.3h0" stroke="#e34428" stroke-width="2.40" stroke-linecap="round"/>
<path d="M309.0 374.1h0M306.5 376.0h0M278.7 373.8h0M269.2 357.1h0M313.2 375.9h0M268.7 362.8h0M266.2 359.5h0M300.8 365.3h0" stroke="#e33b20" stroke-width="2.40" stroke-linecap="round"/>
<path d="M265.3 362.3h0M322.0 379.4h0M263.1 367.5h0M307.0 372.9h0M261.2 364.0h0M281.3 368.2h0M274.2 365.8h0M316.8 377.3h0M316.4 378.5h0M258.7 357.0h0M273.2 344.0h0M266.6 370.3h0M269.0 361.7h0" stroke="#e23018" stroke-width="2.40" stroke-linecap="round"/>
<path d="M286.5 366.7h0M290.2 326.5h0M277.0 369.1h0" stroke="#e2220e" stroke-width="2.40" stroke-linecap="round"/>
<path d="M276.9 374.8h0M272.5 370.0h0M267.6 358.6h0M324.5 379.3h0M329.5 380.9h0M306.8 375.2h0" stroke="#e10a02" stroke-width="2.40" stroke-linecap="round"/>
<path d="M287.1 294.1h0M287.5 295.4h0M278.0 305.0h0M280.2 306.7h0M283.0 307.1h0M279.4 302.9h0M290.6 304.3h0M278.2 294.1h0M278.2 297.6h0M276.7 302.1h0M322.4 331.0h0M291.9 293.5h0M286.9 299.0h0M266.6 355.2h0M323.1 328.9h0M290.4 285.3h0M297.1 282.3h0M283.1 373.2h0M285.4 295.5h0M284.1 306.9h0M282.8 298.5h0M283.9 300.8h0M276.9 302.3h0M290.8 291.5h0M293.2 321.7h0M296.3 280.8h0M279.0 293.6h0M295.3 290.2h0M288.6 307.7h0M288.1 301.6h0M292.6 292.1h0M330.7 379.3h0M284.9 307.0h0M322.6 325.9h0M283.2 293.7h0" stroke="#c5c5c5" stroke-width="2.40" stroke-linecap="round"/>
<path d="M299.1 285.9h0M323.3 322.4h0M285.8 291.4h0M283.7 299.5h0M277.0 302.2h0M285.1 298.7h0M328.0 328.0h0M284.1 307.1h0M275.1 298.4h0M279.1 292.5h0M295.5 299.3h0M285.4 309.5h0M291.8 282.6h0M298.5 293.0h0M280.5 293.9h0M277.0 376.5h0M322.7 327.2h0M287.5 307.3h0M297.5 290.7h0M294.6 289.5h0M292.8 289.9h0M295.4 279.1h0M277.6 295.8h0M321.0 383.1h0M278.4 301.9h0M286.6 293.2h0M285.7 308.3h0" stroke="#c9bfbd" stroke-width="2.40" stroke-linecap="round"/>
<path d="M295.2 285.2h0M323.6 321.7h0M321.2 330.8h0M334.6 330.1h0M284.1 305.7h0M282.2 302.5h0M307.2 377.2h0M280.2 290.4h0" stroke="#cdbab5" stroke-width="2.40" stroke-linecap="round"/>
<path d="M325.8 323.4h0M326.0 332.1h0M294.2 275.8h0" stroke="#d0b4ac" stroke-width="2.40" stroke-linecap="round"/>
<path d="M282.5 302.7h0M294.9 294.3h0M276.7 297.6h0M320.1 330.2h0M325.4 323.9h0M292.9 288.4h0" stroke="#d3aea4" stroke-width="2.40" stroke-linecap="round"/>
<path d="M320.0 327.3h0M289.8 284.8h0M299.0 288.6h0M325.6 324.7h0M278.8 302.4h0" stroke="#d6a89c" stroke-width="2.40" stroke-linecap="round"/>
<path d="M288.6 287.2h0M281.1 303.3h0M283.3 298.1h0M288.0 307.7h0M292.4 287.3h0M273.5 293.7h0" stroke="#d9a394" stroke-width="2.40" stroke-linecap="round"/>
<path d="M285.3 296.8h0M299.9 281.3h0M275.2 298.8h0M283.2 306.9h0" stroke="#db9d8c" stroke-width="2.40" stroke-linecap="round"/>
<path d="M285.6 297.9h0M277.5 296.0h0M261.0 294.1h0M300.3 284.5h0M282.3 295.0h0M289.1 292.7h0M277.7 294.6h0M288.1 295.5h0" stroke="#dd9785" stroke-width="2.40" stroke-linecap="round"/>
<path d="M275.7 296.6h0M298.4 280.2h0M293.8 290.5h0M298.6 280.8h0M328.3 327.5h0" stroke="#de917d" stroke-width="2.40" stroke-linecap="round"/>
<path d="M290.1 282.7h0M286.6 305.5h0M292.1 286.7h0M279.8 305.0h0M290.2 290.2h0M287.1 296.4h0M277.1 301.4h0" stroke="#e08b75" stroke-width="2.40" stroke-linecap="round"/>
<path d="M275.4 283.0h0M288.1 286.0h0M326.1 326.6h0M273.7 283.6h0M298.5 290.9h0M288.1 300.2h0" stroke="#e1856d" stroke-width="2.40" stroke-linecap="round"/>
<path d="M287.0 292.2h0M283.4 297.4h0M287.4 286.3h0M317.1 379.3h0M260.3 358.9h0" stroke="#e27e66" stroke-width="2.40" stroke-linecap="round"/>
<path d="M269.3 360.5h0M281.1 306.8h0M292.7 322.1h0M282.7 298.2h0" stroke="#e3785e" stroke-width="2.40" stroke-linecap="round"/>
<path d="M286.7 365.0h0M277.0 370.6h0M289.5 283.1h0" stroke="#e37156" stroke-width="2.40" stroke-linecap="round"/>
<path d="M294.8 370.5h0M266.0 365.7h0M319.8 377.8h0M286.3 373.0h0M267.2 361.4h0M300.5 364.0h0M266.4 364.0h0M299.0 369.1h0" stroke="#e46b4f" stroke-width="2.40" stroke-linecap="round"/>
<path d="M279.2 368.0h0M271.3 366.7h0M265.5 362.8h0M327.6 379.1h0M278.1 366.1h0M267.9 360.1h0M278.6 374.6h0M314.0 376.8h0M266.3 361.1h0M310.6 377.4h0" stroke="#e46447" stroke-width="2.40" stroke-linecap="round"/>
<path d="M328.6 378.0h0M271.3 374.5h0M278.0 371.9h0M265.9 357.5h0M258.9 359.8h0M280.1 370.1h0M284.0 372.5h0M275.6 369.8h0M263.5 369.1h0M287.0 366.1h0M261.4 361.4h0M261.9 367.7h0" stroke="#e45d40" stroke-width="2.40" stroke-linecap="round"/>
<path d="M292.8 370.6h0M307.6 376.0h0M277.9 370.2h0M278.5 366.9h0M308.0 372.7h0M266.1 354.8h0M282.5 364.5h0M292.2 371.9h0M312.1 373.9h0M261.1 359.5h0M320.3 381.3h0M279.9 363.9h0M271.8 374.6h0M320.9 376.8h0M270.5 369.8h0M264.3 358.8h0M272.8 372.3h0M319.1 380.1h0M269.3 356.6h0M283.4 364.2h0" stroke="#e45538" stroke-width="2.40" stroke-linecap="round"/>
<path d="M284.9 371.1h0M270.6 368.3h0M271.9 364.8h0M288.0 370.5h0M322.4 379.5h0M273.9 363.5h0M272.7 368.6h0M287.8 370.2h0M268.5 363.1h0M269.5 369.7h0M271.7 373.6h0M323.2 378.7h0M276.1 369.7h0M269.1 371.1h0M263.5 369.7h0M279.1 366.8h0M284.2 366.1h0" stroke="#e44d30" stroke-width="2.40" stroke-linecap="round"/>
<path d="M322.4 378.8h0M276.5 373.7h0M277.8 374.9h0M290.6 372.2h0M274.9 369.1h0M312.7 377.0h0M273.7 375.7h0M280.7 373.5h0M281.8 373.6h0M263.3 355.3h0M261.4 357.3h0M264.7 366.4h0M274.0 364.6h0" stroke="#e34428" stroke-width="2.40" stroke-linecap="round"/>
<path d="M268.0 357.0h0M266.0 362.7h0M286.9 367.1h0M263.5 359.5h0M275.4 375.9h0M294.3 371.2h0M275.4 370.9h0M276.2 376.0h0M329.6 379.0h0M306.6 375.4h0M282.3 375.1h0M266.9 343.1h0M269.5 362.3h0" stroke="#e33b20" stroke-width="2.40" stroke-linecap="round"/>
<path d="M283.1 372.5h0M263.9 364.0h0M319.9 378.3h0M300.7 366.7h0M263.6 360.4h0M272.7 374.7h0M269.4 369.3h0M267.7 359.8h0M270.9 368.5h0M259.8 355.3h0" stroke="#e23018" stroke-width="2.40" stroke-linecap="round"/>
<path d="M312.4 375.3h0M261.1 356.6h0" stroke="#e2220e" stroke-width="2.40" stroke-linecap="round"/>
<path d="M279.5 376.1h0M313.0 376.7h0M272.1 365.6h0" stroke="#e10a02" stroke-width="2.40" stroke-linecap="round"/>
<rect x="223.30" y="270.20" width="118.00" height="117.50" fill="none" stroke="#1a1a1a" stroke-width="1.3"/>
<line x1="220.10" y1="387.50" x2="223.30" y2="387.50" stroke="#1a1a1a" stroke-width="1.0"/>
<text transform="translate(217.60 389.90)" font-size="9.0" text-anchor="end" >200</text>
<line x1="220.10" y1="360.70" x2="223.30" y2="360.70" stroke="#1a1a1a" stroke-width="1.0"/>
<text transform="translate(217.60 363.10)" font-size="9.0" text-anchor="end" >300</text>
<line x1="220.10" y1="333.90" x2="223.30" y2="333.90" stroke="#1a1a1a" stroke-width="1.0"/>
<text transform="translate(217.60 336.30)" font-size="9.0" text-anchor="end" >400</text>
<line x1="220.10" y1="307.10" x2="223.30" y2="307.10" stroke="#1a1a1a" stroke-width="1.0"/>
<text transform="translate(217.60 309.50)" font-size="9.0" text-anchor="end" >500</text>
<line x1="220.10" y1="280.30" x2="223.30" y2="280.30" stroke="#1a1a1a" stroke-width="1.0"/>
<text transform="translate(217.60 282.70)" font-size="9.0" text-anchor="end" >600</text>
<line x1="252.50" y1="387.70" x2="252.50" y2="391.10" stroke="#1a1a1a" stroke-width="1.0"/>
<text transform="translate(252.50 401.90)" font-size="9.0" text-anchor="middle" >600</text>
<line x1="292.40" y1="387.70" x2="292.40" y2="391.10" stroke="#1a1a1a" stroke-width="1.0"/>
<text transform="translate(292.40 401.90)" font-size="9.0" text-anchor="middle" >800</text>
<line x1="332.30" y1="387.70" x2="332.30" y2="391.10" stroke="#1a1a1a" stroke-width="1.0"/>
<text transform="translate(332.30 401.90)" font-size="9.0" text-anchor="middle" >1000</text>
<text transform="translate(282.00 414.50) scale(0.5891 1)" font-size="10.8" text-anchor="middle" stroke="#1a1a1a" stroke-width="0.3" >Component 1</text>
<text transform="translate(196.70 328.95) rotate(-90) scale(0.5984 1)" font-size="10.8" text-anchor="middle" stroke="#1a1a1a" stroke-width="0.3" >Component 2</text>
<text transform="translate(282.30 264.90)" font-size="10.0" text-anchor="middle" font-style="italic" >Gpr56</text>
<path d="M438.6 359.5h0M506.3 329.8h0M451.2 377.2h0M435.0 371.0h0M456.6 371.5h0M493.1 331.0h0M466.3 279.4h0M494.6 380.8h0M445.4 365.8h0M443.8 360.3h0M495.4 378.7h0M497.7 331.1h0M437.7 361.8h0M433.7 357.0h0M437.3 359.9h0M440.0 366.7h0M454.6 299.2h0M498.3 330.9h0M454.5 373.2h0M466.9 280.5h0M431.6 368.2h0M435.3 364.7h0M443.2 369.4h0M495.8 331.1h0M497.4 325.2h0M450.2 370.1h0M448.5 301.4h0M443.3 361.0h0M500.0 329.5h0M456.4 299.8h0M464.4 290.8h0M470.3 286.0h0M457.7 305.2h0M437.2 359.5h0M500.6 329.6h0M507.9 329.9h0M440.6 361.3h0M454.5 364.2h0M494.0 331.7h0M492.4 331.7h0M449.6 348.2h0M455.1 300.9h0M446.2 369.8h0" stroke="#c5c5c5" stroke-width="2.40" stroke-linecap="round"/>
<path d="M430.3 363.3h0M436.8 356.8h0M434.0 360.6h0M433.2 294.1h0M461.1 286.0h0M440.8 370.0h0M464.6 284.0h0M454.4 368.1h0M460.6 308.8h0M438.0 359.8h0M449.3 319.4h0M494.2 324.9h0M439.8 357.8h0M491.2 328.2h0M435.4 370.7h0M440.0 357.4h0M439.0 360.5h0M433.5 364.1h0M490.4 331.3h0M495.1 327.9h0M449.2 364.3h0M454.2 299.7h0M432.8 358.1h0M495.1 332.9h0M432.4 364.5h0M432.4 294.8h0M450.9 295.2h0M431.8 367.8h0M493.5 327.2h0M443.3 365.2h0M499.3 331.1h0M452.0 374.2h0M467.5 282.9h0M439.0 359.4h0M461.3 297.4h0M398.6 316.1h0M437.8 362.3h0M430.1 357.8h0" stroke="#c9bfbd" stroke-width="2.40" stroke-linecap="round"/>
<path d="M464.2 370.9h0M448.5 375.1h0M507.6 330.3h0M498.8 379.7h0M439.3 360.8h0M432.8 362.1h0M433.5 359.3h0M441.3 363.4h0" stroke="#cdbab5" stroke-width="2.40" stroke-linecap="round"/>
<path d="M446.4 372.9h0M471.2 282.5h0" stroke="#de917d" stroke-width="2.40" stroke-linecap="round"/>
<path d="M492.8 380.1h0" stroke="#e1856d" stroke-width="2.40" stroke-linecap="round"/>
<path d="M490.7 381.9h0M450.0 374.4h0M495.7 380.0h0M447.7 365.2h0M437.3 371.7h0M463.4 287.9h0" stroke="#e27e66" stroke-width="2.40" stroke-linecap="round"/>
<path d="M443.3 294.8h0M468.5 290.5h0M437.9 371.0h0M436.1 368.9h0M452.2 367.7h0" stroke="#e3785e" stroke-width="2.40" stroke-linecap="round"/>
<path d="M464.1 371.2h0M436.0 355.6h0M445.8 299.1h0M455.2 292.1h0M456.4 376.0h0M452.0 297.4h0M465.5 285.6h0M465.1 278.1h0M494.4 379.3h0M501.0 379.9h0M466.7 280.3h0M459.4 287.1h0M468.0 295.0h0M454.2 299.8h0M456.6 292.4h0M434.2 358.4h0" stroke="#e37156" stroke-width="2.40" stroke-linecap="round"/>
<path d="M434.3 370.3h0M462.9 279.1h0M455.1 306.1h0M447.7 377.5h0M449.8 377.1h0M464.1 288.5h0M495.1 324.1h0M436.0 367.1h0M468.9 286.6h0M501.9 379.9h0M463.7 290.2h0M482.6 375.6h0" stroke="#e46b4f" stroke-width="2.40" stroke-linecap="round"/>
<path d="M445.4 370.3h0M434.1 359.1h0M465.3 292.6h0M432.3 367.2h0M456.7 295.7h0M497.6 378.9h0M478.2 377.1h0M450.3 306.3h0M445.7 295.5h0M448.9 297.0h0M494.2 382.3h0M455.8 373.1h0M431.2 367.0h0M449.3 370.4h0M450.4 370.8h0M443.9 278.2h0M445.3 347.7h0M450.8 302.2h0M465.0 284.2h0M440.0 365.1h0M493.8 324.7h0M457.8 367.4h0M453.6 374.4h0M447.1 302.8h0" stroke="#e46447" stroke-width="2.40" stroke-linecap="round"/>
<path d="M470.3 369.8h0M434.9 369.8h0M468.3 289.6h0M440.5 371.8h0M468.3 288.3h0M438.5 362.2h0M444.7 295.0h0M464.5 322.6h0M457.4 304.1h0M442.5 279.8h0M457.1 372.5h0M449.1 362.0h0M445.9 299.5h0M470.3 287.1h0M446.2 371.5h0M458.0 365.7h0M459.5 302.2h0M454.0 370.2h0M457.0 299.0h0M484.3 376.9h0M442.9 373.2h0" stroke="#e45d40" stroke-width="2.40" stroke-linecap="round"/>
<path d="M442.6 372.4h0M447.6 372.9h0M464.4 277.2h0M469.8 294.2h0M439.2 371.6h0M438.0 365.0h0M456.8 307.7h0M498.9 380.1h0M452.7 376.0h0M453.2 306.0h0M458.1 303.9h0M448.2 375.5h0M455.1 376.7h0M446.4 285.1h0M469.9 362.9h0M456.6 307.9h0M464.8 372.2h0M458.6 297.7h0M449.1 295.7h0M484.5 376.5h0" stroke="#e45538" stroke-width="2.40" stroke-linecap="round"/>
<path d="M449.1 367.4h0M483.4 374.6h0M466.1 287.9h0M462.6 292.4h0M433.5 365.8h0M431.1 364.0h0M436.9 369.7h0M453.4 308.9h0M449.9 375.2h0M449.6 305.4h0M467.4 286.7h0M455.2 301.9h0M456.7 296.6h0M442.7 374.6h0M466.6 293.6h0" stroke="#e44d30" stroke-width="2.40" stroke-linecap="round"/>
<path d="M465.5 277.0h0M493.6 328.4h0M445.8 369.9h0M445.8 367.7h0M490.6 377.5h0M493.4 378.7h0M461.3 286.0h0M490.2 382.6h0M444.9 373.9h0M450.4 367.6h0M456.9 372.4h0M454.6 368.7h0M479.7 371.1h0M450.3 302.3h0M460.7 285.4h0" stroke="#e34428" stroke-width="2.40" stroke-linecap="round"/>
<path d="M455.5 366.8h0M468.0 283.0h0M458.4 295.2h0M498.7 327.5h0" stroke="#e33b20" stroke-width="2.40" stroke-linecap="round"/>
<path d="M452.5 303.6h0M462.9 285.9h0M454.6 305.7h0M463.6 284.6h0" stroke="#e23018" stroke-width="2.40" stroke-linecap="round"/>
<path d="M458.2 366.9h0M460.5 283.5h0M442.6 368.5h0M432.0 365.7h0M457.1 306.3h0M454.7 305.0h0" stroke="#e2220e" stroke-width="2.40" stroke-linecap="round"/>
<path d="M465.5 372.1h0M436.7 368.7h0M465.8 283.4h0M452.8 370.5h0M462.1 354.9h0M442.0 361.8h0M441.3 359.5h0M456.0 295.1h0M456.4 300.3h0M446.8 294.7h0M480.3 374.7h0M432.7 359.2h0M458.4 371.5h0M436.4 357.1h0M438.3 362.5h0M466.2 295.4h0M462.1 292.6h0M500.1 330.9h0M463.5 370.9h0M436.5 372.0h0M497.5 325.1h0M451.7 365.9h0M493.6 380.2h0M453.8 365.3h0M435.7 360.5h0M445.6 366.5h0M493.5 383.9h0M448.3 369.8h0M448.4 365.7h0M433.0 365.6h0M444.4 371.1h0M441.9 361.4h0M493.0 328.3h0M431.7 364.3h0M490.7 330.1h0M434.7 357.8h0M494.1 327.8h0M440.5 366.3h0M468.6 280.9h0M492.1 377.4h0M442.3 366.7h0M497.2 333.0h0M506.9 329.3h0M494.0 324.0h0M431.8 359.0h0M447.0 362.7h0M494.9 330.2h0M464.5 280.3h0" stroke="#c5c5c5" stroke-width="2.40" stroke-linecap="round"/>
<path d="M458.2 367.8h0M453.6 374.4h0M456.7 304.9h0M459.7 282.9h0M443.6 368.4h0M461.0 281.2h0M459.1 370.9h0M454.3 370.4h0M506.5 328.4h0M435.7 360.1h0M493.7 324.3h0M449.3 367.4h0M457.9 294.3h0M444.5 344.9h0M454.0 305.9h0M459.0 300.5h0M496.8 327.6h0M463.3 317.4h0M452.6 298.9h0M436.9 363.2h0M435.7 364.1h0M441.8 369.6h0M445.8 362.8h0M438.4 360.5h0M461.9 305.4h0M443.6 362.4h0M494.8 322.7h0M450.6 365.8h0M434.8 360.3h0M447.9 361.8h0M491.5 383.2h0M506.0 330.3h0M499.2 329.0h0M438.2 359.2h0M432.5 361.6h0M460.4 308.8h0M455.5 306.8h0M482.6 375.0h0M447.4 370.4h0M461.3 305.0h0M432.7 360.2h0M436.0 367.2h0" stroke="#c9bfbd" stroke-width="2.40" stroke-linecap="round"/>
<path d="M497.7 329.5h0M439.1 361.7h0M441.1 357.3h0M438.1 359.6h0M450.8 376.8h0M496.6 324.9h0M443.1 374.3h0M438.1 372.9h0M440.9 366.8h0" stroke="#cdbab5" stroke-width="2.40" stroke-linecap="round"/>
<path d="M450.2 301.3h0M432.6 364.7h0M436.5 369.5h0M496.3 325.1h0M435.3 356.9h0" stroke="#e27e66" stroke-width="2.40" stroke-linecap="round"/>
<path d="M432.8 356.8h0M460.4 293.8h0M432.4 360.2h0M454.3 296.8h0M456.7 294.5h0M468.9 286.7h0M450.4 368.2h0" stroke="#e3785e" stroke-width="2.40" stroke-linecap="round"/>
<path d="M439.5 368.1h0M457.2 375.7h0M456.4 294.9h0M439.1 363.8h0" stroke="#e37156" stroke-width="2.40" stroke-linecap="round"/>
<path d="M441.0 297.0h0M458.3 294.3h0M463.6 284.1h0M453.3 305.5h0M443.3 374.9h0M461.8 288.4h0M463.6 283.0h0M469.8 292.1h0M433.9 356.5h0M482.8 374.4h0M459.9 305.5h0M458.8 306.3h0M477.9 377.0h0M479.6 373.4h0" stroke="#e46b4f" stroke-width="2.40" stroke-linecap="round"/>
<path d="M462.8 293.7h0M482.5 377.3h0M450.5 301.5h0M457.8 295.7h0M494.8 382.1h0M441.8 373.5h0M445.1 376.3h0M470.6 286.5h0M470.6 365.5h0M500.8 379.6h0M450.4 377.4h0M436.3 364.7h0M448.4 377.1h0M456.9 300.2h0M478.2 373.6h0M484.0 377.7h0M453.5 303.6h0M458.1 296.7h0M459.3 294.7h0" stroke="#e46447" stroke-width="2.40" stroke-linecap="round"/>
<path d="M468.0 289.9h0M477.9 376.1h0M449.3 372.8h0M454.1 299.6h0M467.3 367.5h0M460.8 335.2h0M436.9 363.5h0M486.6 377.7h0M450.7 303.9h0M431.6 366.1h0M450.5 370.9h0M443.8 370.7h0M496.9 380.0h0M467.9 280.3h0M454.6 305.5h0M478.1 375.9h0M462.0 285.7h0M449.5 298.7h0M452.5 366.2h0" stroke="#e45d40" stroke-width="2.40" stroke-linecap="round"/>
<path d="M455.2 372.9h0M451.1 364.9h0M454.0 297.8h0M470.3 289.7h0M445.8 376.8h0M485.4 379.0h0M448.2 303.8h0M495.0 381.6h0M451.7 367.6h0M456.1 294.9h0M460.0 284.2h0M458.6 373.5h0M453.9 366.9h0M462.0 372.3h0M467.3 291.5h0M464.9 371.2h0M444.8 278.5h0" stroke="#e45538" stroke-width="2.40" stroke-linecap="round"/>
<path d="M440.8 340.3h0M464.2 289.5h0M452.8 297.2h0M446.5 362.0h0M469.8 287.2h0M458.7 373.0h0M448.0 298.7h0M452.5 304.8h0M460.8 281.4h0M469.9 282.4h0M454.7 308.7h0M469.7 366.6h0M445.5 285.3h0M444.2 278.4h0M484.2 377.3h0M449.0 363.6h0M450.6 291.8h0M465.9 293.8h0" stroke="#e44d30" stroke-width="2.40" stroke-linecap="round"/>
<path d="M445.7 376.8h0M453.8 296.1h0M464.7 286.7h0M453.0 305.1h0M487.6 379.2h0M469.6 293.8h0M459.3 308.7h0M486.2 374.8h0M454.0 304.6h0M453.2 363.7h0M445.6 365.6h0" stroke="#e34428" stroke-width="2.40" stroke-linecap="round"/>
<path d="M447.1 299.4h0M465.6 371.9h0M446.0 362.5h0M452.3 297.7h0M461.1 281.1h0M446.4 299.5h0M453.6 375.7h0M448.2 367.1h0M453.7 298.6h0M438.8 364.3h0" stroke="#e33b20" stroke-width="2.40" stroke-linecap="round"/>
<path d="M492.2 330.0h0M468.6 292.6h0M456.2 373.1h0M491.2 380.7h0M444.3 279.2h0M498.5 381.6h0M449.7 305.8h0M464.8 370.4h0M437.4 366.5h0M492.5 383.1h0M458.4 291.3h0M448.7 376.4h0" stroke="#e23018" stroke-width="2.40" stroke-linecap="round"/>
<path d="M466.5 292.6h0M455.5 308.2h0M473.9 375.4h0M449.4 368.6h0" stroke="#e2220e" stroke-width="2.40" stroke-linecap="round"/>
<path d="M458.8 295.7h0" stroke="#e10a02" stroke-width="2.40" stroke-linecap="round"/>
<path d="M451.5 370.8h0M454.1 299.3h0M467.2 320.3h0M499.9 378.8h0M494.5 323.4h0M491.2 330.5h0M458.9 371.0h0M444.6 298.7h0M459.9 288.3h0M498.5 331.5h0M450.5 365.8h0M493.3 380.0h0M448.9 293.7h0M450.6 368.7h0M449.5 295.2h0M495.0 324.1h0M446.7 373.4h0M494.2 329.8h0M437.2 344.8h0M452.1 367.6h0M493.8 326.8h0M489.0 380.3h0M449.5 362.7h0M436.1 360.2h0M505.0 328.7h0M458.6 286.3h0M492.2 330.8h0M438.2 358.4h0M443.4 366.3h0M457.1 309.4h0M459.5 288.1h0M446.5 370.3h0M465.8 330.4h0M492.3 383.7h0M489.5 327.7h0M435.9 360.0h0M465.7 282.4h0M454.1 374.8h0M442.1 373.1h0M456.1 304.2h0M436.5 357.6h0M451.4 370.6h0M461.3 287.7h0M433.9 359.9h0M497.6 326.4h0M448.9 295.2h0M491.4 330.1h0M438.2 344.0h0M451.7 373.9h0M463.1 371.2h0" stroke="#c5c5c5" stroke-width="2.40" stroke-linecap="round"/>
<path d="M434.2 354.7h0M466.0 371.2h0M452.8 372.3h0M451.9 307.3h0M445.0 374.7h0M504.4 329.5h0M499.0 328.6h0M437.5 360.2h0M440.8 363.0h0M499.6 328.4h0M497.1 381.8h0M432.3 357.3h0M488.3 379.9h0M440.9 373.0h0M493.6 331.9h0M497.3 327.6h0M463.6 298.2h0M447.2 364.7h0M458.9 306.7h0M453.1 293.2h0M455.5 366.2h0M436.9 364.9h0M460.3 301.3h0M495.8 327.2h0M432.4 356.0h0M492.2 328.3h0M497.3 325.3h0M487.3 377.2h0M496.4 329.7h0M456.8 374.2h0M457.8 295.5h0M443.9 365.2h0M449.7 374.2h0M451.2 364.6h0M504.6 330.3h0M448.2 303.3h0" stroke="#c9bfbd" stroke-width="2.40" stroke-linecap="round"/>
<path d="M507.2 330.7h0M461.6 283.3h0M431.8 358.5h0M434.2 294.3h0M496.0 327.0h0M444.1 374.0h0M454.8 364.9h0M454.3 304.2h0M433.0 356.5h0M398.9 316.3h0M478.5 377.8h0" stroke="#cdbab5" stroke-width="2.40" stroke-linecap="round"/>
<path d="M437.2 372.1h0M444.1 369.3h0" stroke="#e08b75" stroke-width="2.40" stroke-linecap="round"/>
<path d="M445.9 368.3h0M455.0 306.4h0M484.8 378.7h0M464.2 286.3h0M457.9 306.5h0" stroke="#e27e66" stroke-width="2.40" stroke-linecap="round"/>
<path d="M456.8 307.6h0M465.1 291.6h0M447.0 295.3h0M456.7 299.8h0M440.1 363.5h0M457.3 303.7h0M444.4 373.5h0M504.9 328.4h0" stroke="#e3785e" stroke-width="2.40" stroke-linecap="round"/>
<path d="M459.3 370.2h0M448.7 304.4h0M447.9 373.4h0M462.9 283.9h0M447.8 365.0h0M464.4 281.5h0M453.7 366.0h0M434.5 366.5h0M451.7 296.4h0M436.8 370.3h0M464.8 294.9h0" stroke="#e37156" stroke-width="2.40" stroke-linecap="round"/>
<path d="M453.6 297.1h0M441.4 373.8h0M467.5 284.8h0M445.4 374.5h0M485.6 377.2h0M452.4 367.3h0M456.7 297.9h0M458.3 366.8h0M462.2 284.8h0M463.3 278.8h0M445.5 300.6h0M439.8 363.8h0M449.1 375.6h0M449.5 292.8h0" stroke="#e46b4f" stroke-width="2.40" stroke-linecap="round"/>
<path d="M457.2 297.5h0M496.8 379.3h0M498.9 330.1h0M458.7 287.5h0M470.8 290.9h0M449.4 377.4h0M437.4 368.4h0M467.2 291.1h0M436.4 367.2h0M446.8 295.6h0M451.7 373.2h0M441.5 364.5h0M453.8 303.7h0M459.9 308.7h0M440.9 370.4h0M450.7 363.0h0" stroke="#e46447" stroke-width="2.40" stroke-linecap="round"/>
<path d="M440.2 365.6h0M454.1 365.2h0M481.9 378.1h0M442.8 371.0h0M459.1 306.7h0M454.8 373.3h0M449.7 303.0h0M458.3 306.8h0M456.2 294.7h0M491.0 378.4h0M485.2 377.4h0M430.1 359.5h0M467.5 288.1h0M437.5 357.8h0M458.6 289.3h0M450.4 293.6h0M450.4 301.5h0M496.6 378.8h0M443.8 363.7h0M469.9 374.3h0M452.4 374.1h0M469.8 290.8h0M451.6 307.8h0M437.2 364.5h0M459.5 301.3h0M458.3 367.9h0" stroke="#e45d40" stroke-width="2.40" stroke-linecap="round"/>
<path d="M456.1 294.4h0M459.5 286.8h0M465.0 279.1h0M498.3 330.0h0M456.9 295.4h0M464.6 293.1h0M449.4 374.5h0M465.3 321.7h0M451.4 301.2h0M445.4 365.4h0M491.6 381.9h0M486.3 377.2h0M456.8 296.5h0" stroke="#e45538" stroke-width="2.40" stroke-linecap="round"/>
<path d="M448.8 365.2h0M463.0 282.2h0M463.9 293.3h0M471.7 284.6h0M449.3 294.0h0M465.3 286.6h0M448.6 303.6h0M457.5 308.5h0M447.7 364.6h0M481.1 373.3h0M480.9 375.4h0M497.3 382.4h0M440.9 365.2h0M470.5 285.7h0" stroke="#e44d30" stroke-width="2.40" stroke-linecap="round"/>
<path d="M450.3 294.7h0M480.7 378.4h0M456.6 376.4h0M454.2 372.9h0M469.9 283.7h0M440.9 372.5h0M448.4 303.2h0M454.0 297.2h0M446.6 299.9h0M468.3 294.0h0M459.3 371.2h0M454.6 307.9h0M454.7 298.5h0M455.2 372.9h0" stroke="#e34428" stroke-width="2.40" stroke-linecap="round"/>
<path d="M436.0 369.8h0M463.6 290.0h0M467.8 294.8h0M435.8 364.3h0M482.4 377.8h0M442.0 375.3h0M451.6 306.6h0M449.1 299.2h0M450.1 293.4h0M495.4 382.7h0M443.1 375.3h0M456.7 366.7h0M458.4 305.9h0" stroke="#e33b20" stroke-width="2.40" stroke-linecap="round"/>
<path d="M461.7 283.1h0M459.9 307.3h0M439.8 358.8h0" stroke="#e23018" stroke-width="2.40" stroke-linecap="round"/>
<path d="M499.8 378.7h0M461.5 327.5h0M449.3 372.6h0" stroke="#e2220e" stroke-width="2.40" stroke-linecap="round"/>
<path d="M448.8 377.8h0" stroke="#e10a02" stroke-width="2.40" stroke-linecap="round"/>
<path d="M451.1 364.0h0M492.8 379.9h0M443.2 363.3h0M436.8 359.3h0M497.0 324.4h0M493.7 329.6h0M451.4 372.4h0M499.5 331.6h0M443.5 280.2h0M499.4 331.9h0M440.2 359.7h0M434.4 368.2h0M432.3 361.8h0M464.5 317.2h0M457.5 368.6h0M494.6 324.7h0M448.5 302.5h0M505.5 328.8h0M477.8 376.7h0M434.2 357.5h0M491.3 331.1h0M455.1 372.7h0M463.1 283.7h0M433.1 366.1h0M475.2 368.8h0M494.2 331.5h0M460.1 287.8h0M479.3 373.4h0M471.8 364.8h0M451.0 306.8h0M436.6 355.7h0M457.5 369.0h0M438.0 356.0h0M435.0 361.1h0M444.7 369.1h0M433.9 356.9h0M468.2 283.0h0M459.4 296.6h0M441.4 363.5h0M493.2 329.6h0M431.7 359.7h0M457.0 370.0h0M431.2 356.1h0M432.5 357.9h0" stroke="#c5c5c5" stroke-width="2.40" stroke-linecap="round"/>
<path d="M492.7 383.4h0M437.1 364.6h0M454.8 368.1h0M449.4 366.8h0M497.1 326.8h0M506.3 328.7h0M452.5 307.8h0M495.3 327.8h0M498.8 329.9h0M439.0 360.1h0M455.6 367.6h0M497.8 331.4h0M435.7 359.5h0M459.7 305.0h0M463.2 287.0h0M495.5 328.2h0M497.0 324.4h0M459.6 307.0h0M498.9 325.9h0M476.9 371.8h0M433.7 362.1h0M434.7 356.1h0M493.6 379.5h0M442.6 367.5h0M454.5 365.0h0M451.2 368.5h0" stroke="#c9bfbd" stroke-width="2.40" stroke-linecap="round"/>
<path d="M452.2 372.8h0M460.8 286.6h0M431.2 366.2h0M452.4 375.6h0M468.8 291.8h0M483.6 376.0h0M436.7 363.0h0M446.7 366.5h0" stroke="#cdbab5" stroke-width="2.40" stroke-linecap="round"/>
<path d="M441.7 368.0h0" stroke="#de917d" stroke-width="2.40" stroke-linecap="round"/>
<path d="M458.2 300.1h0" stroke="#e08b75" stroke-width="2.40" stroke-linecap="round"/>
<path d="M488.0 379.3h0M431.5 365.7h0" stroke="#e1856d" stroke-width="2.40" stroke-linecap="round"/>
<path d="M491.1 378.9h0M459.3 372.9h0M440.7 358.6h0M446.7 373.8h0M442.0 358.9h0M457.6 373.7h0M458.7 287.2h0M451.9 295.0h0M442.2 369.2h0M439.9 367.9h0" stroke="#e27e66" stroke-width="2.40" stroke-linecap="round"/>
<path d="M443.8 366.6h0M435.6 370.9h0M459.2 370.1h0M441.6 369.3h0M455.1 302.8h0M472.0 367.4h0" stroke="#e3785e" stroke-width="2.40" stroke-linecap="round"/>
<path d="M431.7 364.4h0M445.9 301.7h0M470.2 283.4h0M457.1 292.5h0M447.6 299.5h0M463.8 290.5h0M443.1 299.0h0M452.1 377.4h0M464.8 281.6h0M458.4 297.5h0M459.4 296.4h0M451.6 364.2h0" stroke="#e37156" stroke-width="2.40" stroke-linecap="round"/>
<path d="M440.9 370.0h0M451.9 305.6h0M483.4 377.2h0M445.4 300.2h0M465.9 290.7h0M449.7 368.2h0M440.5 357.9h0M463.1 281.4h0M453.6 303.0h0M467.3 346.9h0M467.6 282.0h0M498.5 378.7h0M438.2 363.6h0M450.7 369.5h0M445.8 294.6h0M449.9 373.4h0M450.7 370.8h0" stroke="#e46b4f" stroke-width="2.40" stroke-linecap="round"/>
<path d="M456.7 310.5h0M449.1 299.5h0M449.9 371.6h0M457.9 367.3h0M442.7 296.0h0M457.5 308.0h0M458.4 305.5h0M444.2 369.6h0M445.7 368.0h0M448.1 372.6h0M466.5 282.9h0M456.3 365.9h0M446.6 297.3h0M445.7 368.2h0M444.8 367.0h0M454.1 306.8h0M445.5 369.4h0M444.1 278.5h0" stroke="#e46447" stroke-width="2.40" stroke-linecap="round"/>
<path d="M458.4 310.2h0M435.1 362.2h0M444.5 278.1h0M461.4 283.9h0M464.6 291.3h0M489.4 377.8h0M446.7 376.5h0M447.8 374.4h0M478.4 374.1h0M452.1 363.7h0M453.8 375.7h0M460.2 290.5h0M451.7 350.4h0M445.8 366.8h0M451.5 376.4h0M449.8 295.0h0M464.4 284.1h0M461.7 286.5h0M440.6 357.4h0M459.3 374.9h0M432.1 358.9h0M453.5 298.8h0M451.6 291.5h0" stroke="#e45d40" stroke-width="2.40" stroke-linecap="round"/>
<path d="M499.9 381.4h0M495.8 381.0h0M460.8 284.3h0M444.0 375.4h0M448.4 297.4h0M486.2 376.6h0M470.9 363.7h0M456.7 300.9h0M455.9 375.1h0M445.2 364.3h0M466.0 368.7h0M466.6 321.0h0M439.6 364.8h0M440.5 374.5h0M433.8 294.4h0M466.5 286.4h0M455.3 309.0h0M456.4 302.3h0M457.7 300.6h0M469.9 282.0h0M453.7 297.7h0M457.5 372.4h0M446.8 373.2h0M439.8 352.0h0M458.4 369.2h0" stroke="#e45538" stroke-width="2.40" stroke-linecap="round"/>
<path d="M455.9 308.9h0M455.7 297.4h0M456.9 372.0h0M458.4 302.4h0M451.4 369.4h0M465.7 292.7h0M448.5 302.9h0M457.1 293.9h0M461.0 294.2h0M452.5 295.5h0M464.0 323.0h0M449.7 294.2h0M458.9 370.3h0M497.8 379.6h0" stroke="#e44d30" stroke-width="2.40" stroke-linecap="round"/>
<path d="M466.6 291.4h0M452.8 363.2h0M451.8 300.0h0M441.9 369.0h0M448.7 370.8h0M481.5 378.9h0M449.9 373.8h0M441.9 368.1h0M458.3 293.4h0M471.5 321.7h0M463.2 294.6h0M482.1 374.9h0M471.6 290.3h0M454.4 307.5h0M443.2 365.5h0M449.5 374.8h0" stroke="#e34428" stroke-width="2.40" stroke-linecap="round"/>
<path d="M437.4 363.4h0M452.9 369.5h0M461.5 291.3h0M478.0 375.2h0M456.1 303.4h0M434.8 366.7h0M494.0 324.5h0M471.7 287.9h0M469.7 281.4h0" stroke="#e33b20" stroke-width="2.40" stroke-linecap="round"/>
<path d="M457.0 306.9h0M454.8 296.2h0M467.3 283.7h0M454.4 374.4h0M457.4 367.8h0M459.4 302.6h0" stroke="#e23018" stroke-width="2.40" stroke-linecap="round"/>
<path d="M435.1 354.4h0M454.3 308.2h0" stroke="#e10a02" stroke-width="2.40" stroke-linecap="round"/>
<path d="M449.8 372.2h0M456.1 369.8h0M441.5 363.0h0M431.5 361.9h0M445.0 364.9h0M431.0 358.1h0M466.0 287.4h0M494.4 329.8h0M459.2 281.5h0M453.8 308.1h0M432.5 357.3h0M465.8 321.5h0M448.2 370.2h0M489.7 382.6h0M463.5 372.6h0M437.3 358.3h0M433.2 365.6h0M492.1 329.5h0M446.4 375.3h0M456.8 302.0h0M436.5 367.9h0M433.8 360.4h0M440.0 369.3h0M494.0 328.1h0M504.4 329.3h0M459.1 369.1h0M455.3 373.2h0M436.0 359.7h0M431.4 361.3h0M461.9 281.9h0M452.6 365.6h0M435.7 357.3h0M430.7 357.5h0M499.0 326.1h0M477.0 373.5h0M505.4 331.1h0M435.1 360.9h0M488.0 377.8h0M449.9 300.9h0M434.9 370.4h0M450.9 365.3h0M433.9 366.8h0M463.2 318.5h0" stroke="#c5c5c5" stroke-width="2.40" stroke-linecap="round"/>
<path d="M454.6 375.6h0M461.9 372.9h0M459.0 301.0h0M450.3 374.3h0M432.4 295.2h0M437.3 368.8h0M442.6 375.1h0M443.8 300.3h0M447.8 295.2h0M470.6 291.0h0M440.3 362.4h0M505.8 331.0h0M467.4 289.1h0M437.8 364.8h0M479.0 323.8h0M433.5 359.7h0M436.2 360.3h0M441.3 363.0h0M447.6 363.2h0M453.7 366.8h0M492.9 327.2h0M503.3 328.7h0M491.8 329.3h0M437.0 360.4h0M458.8 308.5h0M492.8 378.4h0M505.9 328.9h0M464.3 279.9h0M456.3 297.2h0M500.1 329.8h0M431.8 367.2h0M450.7 363.8h0M433.3 368.4h0M438.3 360.8h0M463.7 288.5h0M471.3 368.8h0M433.3 356.0h0M458.8 308.3h0M440.1 341.5h0M439.2 342.9h0M445.9 363.9h0M437.4 355.5h0M433.8 359.7h0M434.9 356.6h0M449.2 370.9h0M435.7 360.7h0M463.5 281.1h0" stroke="#c9bfbd" stroke-width="2.40" stroke-linecap="round"/>
<path d="M458.3 371.9h0M435.8 356.0h0M453.7 376.8h0M500.5 379.6h0M496.8 325.6h0" stroke="#cdbab5" stroke-width="2.40" stroke-linecap="round"/>
<path d="M467.0 286.0h0" stroke="#d0b4ac" stroke-width="2.40" stroke-linecap="round"/>
<path d="M464.1 282.6h0" stroke="#de917d" stroke-width="2.40" stroke-linecap="round"/>
<path d="M463.4 288.0h0M454.5 294.8h0M447.9 297.7h0M484.1 375.8h0M461.4 287.7h0" stroke="#e08b75" stroke-width="2.40" stroke-linecap="round"/>
<path d="M439.4 357.7h0M452.1 296.0h0M458.6 288.8h0M449.8 367.6h0M449.3 369.5h0" stroke="#e27e66" stroke-width="2.40" stroke-linecap="round"/>
<path d="M456.4 299.2h0M498.7 380.6h0M444.9 294.9h0M452.7 368.9h0M465.1 286.1h0M441.7 371.8h0M468.1 290.0h0M460.9 289.0h0M464.5 289.5h0M439.3 372.3h0" stroke="#e3785e" stroke-width="2.40" stroke-linecap="round"/>
<path d="M455.4 308.0h0M433.1 293.9h0M458.8 296.5h0M453.6 295.9h0M447.0 297.7h0M440.8 337.8h0M440.6 370.9h0M464.0 287.5h0M459.5 306.6h0M488.1 378.0h0M446.2 364.9h0M446.0 296.8h0" stroke="#e37156" stroke-width="2.40" stroke-linecap="round"/>
<path d="M464.1 291.1h0M453.8 368.6h0M449.3 306.1h0M432.6 360.4h0M492.0 382.7h0M455.0 300.6h0M471.6 285.7h0M446.9 370.5h0M436.3 368.8h0M453.6 296.1h0M432.8 367.9h0M449.1 371.4h0M451.0 296.6h0M467.3 373.1h0M448.8 297.1h0M500.7 381.5h0" stroke="#e46b4f" stroke-width="2.40" stroke-linecap="round"/>
<path d="M450.2 303.5h0M456.3 371.8h0M483.9 374.0h0M466.7 300.4h0M453.5 309.5h0M478.4 376.0h0M448.7 371.7h0M469.3 295.3h0M460.8 286.5h0M459.7 294.4h0M446.7 284.2h0M455.8 371.7h0M446.1 370.2h0M459.2 282.2h0M490.1 382.0h0M430.3 360.6h0M453.9 297.9h0M454.4 373.9h0" stroke="#e46447" stroke-width="2.40" stroke-linecap="round"/>
<path d="M479.8 374.7h0M463.5 288.1h0M470.1 287.4h0M468.5 290.2h0M454.1 304.6h0M462.7 331.1h0M462.7 371.6h0M452.9 296.3h0M454.8 308.4h0M484.5 375.5h0M493.4 380.9h0M450.4 373.1h0M452.2 293.2h0M454.5 367.1h0M467.8 288.4h0M444.5 375.2h0M450.9 375.4h0M454.9 302.9h0" stroke="#e45d40" stroke-width="2.40" stroke-linecap="round"/>
<path d="M444.2 373.0h0M448.3 371.3h0M451.1 306.1h0M459.0 372.1h0M457.9 302.1h0M436.6 366.6h0M449.9 366.7h0M455.9 308.7h0M460.8 292.2h0M449.5 301.7h0M479.8 375.0h0M453.7 295.0h0M455.0 296.2h0M447.9 364.9h0" stroke="#e45538" stroke-width="2.40" stroke-linecap="round"/>
<path d="M472.1 366.0h0M453.0 305.5h0M486.1 375.9h0M468.4 283.5h0M444.2 374.0h0M472.6 287.0h0M478.9 376.7h0M452.5 307.6h0M446.7 371.6h0M454.7 307.4h0M484.1 374.4h0M450.9 365.1h0M438.9 370.9h0M448.0 303.1h0M478.7 374.3h0" stroke="#e44d30" stroke-width="2.40" stroke-linecap="round"/>
<path d="M443.3 370.4h0M453.2 374.3h0M449.5 296.2h0M490.4 380.8h0M461.9 317.9h0M456.2 308.0h0M441.9 370.5h0M462.1 283.8h0M461.0 371.9h0M465.6 294.9h0M445.1 284.8h0" stroke="#e34428" stroke-width="2.40" stroke-linecap="round"/>
<path d="M463.5 371.0h0M457.3 294.0h0M491.8 379.9h0M454.8 305.2h0M450.4 367.5h0M452.4 304.3h0M483.7 374.2h0M434.3 355.2h0M482.1 374.9h0M479.8 375.2h0M447.6 376.6h0" stroke="#e33b20" stroke-width="2.40" stroke-linecap="round"/>
<path d="M456.5 294.7h0M459.7 285.2h0M479.7 377.6h0M459.2 300.0h0" stroke="#e23018" stroke-width="2.40" stroke-linecap="round"/>
<path d="M445.4 284.7h0M467.4 285.0h0" stroke="#e2220e" stroke-width="2.40" stroke-linecap="round"/>
<path d="M459.6 299.9h0M441.9 366.3h0" stroke="#e10a02" stroke-width="2.40" stroke-linecap="round"/>
<rect x="393.70" y="271.30" width="118.50" height="116.70" fill="none" stroke="#1a1a1a" stroke-width="1.3"/>
<line x1="390.50" y1="388.10" x2="393.70" y2="388.10" stroke="#1a1a1a" stroke-width="1.0"/>
<text transform="translate(388.00 390.50)" font-size="9.0" text-anchor="end" >200</text>
<line x1="390.50" y1="361.45" x2="393.70" y2="361.45" stroke="#1a1a1a" stroke-width="1.0"/>
<text transform="translate(388.00 363.85)" font-size="9.0" text-anchor="end" >300</text>
<line x1="390.50" y1="334.80" x2="393.70" y2="334.80" stroke="#1a1a1a" stroke-width="1.0"/>
<text transform="translate(388.00 337.20)" font-size="9.0" text-anchor="end" >400</text>
<line x1="390.50" y1="308.15" x2="393.70" y2="308.15" stroke="#1a1a1a" stroke-width="1.0"/>
<text transform="translate(388.00 310.55)" font-size="9.0" text-anchor="end" >500</text>
<line x1="390.50" y1="281.50" x2="393.70" y2="281.50" stroke="#1a1a1a" stroke-width="1.0"/>
<text transform="translate(388.00 283.90)" font-size="9.0" text-anchor="end" >600</text>
<line x1="423.90" y1="388.00" x2="423.90" y2="391.40" stroke="#1a1a1a" stroke-width="1.0"/>
<text transform="translate(423.90 402.20)" font-size="9.0" text-anchor="middle" >600</text>
<line x1="463.70" y1="388.00" x2="463.70" y2="391.40" stroke="#1a1a1a" stroke-width="1.0"/>
<text transform="translate(463.70 402.20)" font-size="9.0" text-anchor="middle" >800</text>
<line x1="503.50" y1="388.00" x2="503.50" y2="391.40" stroke="#1a1a1a" stroke-width="1.0"/>
<text transform="translate(503.50 402.20)" font-size="9.0" text-anchor="middle" >1000</text>
<text transform="translate(452.65 414.80) scale(0.5891 1)" font-size="10.8" text-anchor="middle" stroke="#1a1a1a" stroke-width="0.3" >Component 1</text>
<text transform="translate(367.10 329.65) rotate(-90) scale(0.5984 1)" font-size="10.8" text-anchor="middle" stroke="#1a1a1a" stroke-width="0.3" >Component 2</text>
<text transform="translate(452.95 266.00)" font-size="10.0" text-anchor="middle" font-style="italic" >Gpr97</text>
<path d="M108.2 540.0h0M144.7 548.1h0M110.3 549.7h0M92.9 529.5h0M120.4 455.0h0M113.8 475.1h0M114.8 467.2h0M139.4 548.7h0M99.3 535.6h0M95.8 538.0h0M106.1 537.9h0M116.8 538.9h0M123.4 545.4h0M100.7 545.1h0M127.0 460.3h0M108.5 547.4h0M128.5 466.3h0M109.2 546.4h0M129.2 538.6h0M99.6 531.6h0M92.9 533.0h0M106.9 470.9h0M115.7 545.2h0M100.4 536.1h0M104.6 541.4h0M153.8 556.1h0M112.5 539.2h0M107.2 550.5h0M108.8 548.6h0M94.0 544.3h0M126.8 462.1h0M90.2 540.2h0M100.7 546.7h0M94.7 532.6h0M99.6 534.3h0M99.8 543.3h0M95.5 542.7h0M107.1 543.0h0M113.0 471.9h0M157.2 502.5h0M114.2 480.3h0M101.5 545.7h0M93.9 543.0h0M154.2 499.7h0M104.7 540.9h0M156.1 504.0h0M118.7 481.0h0M152.6 502.5h0M114.9 543.1h0M150.6 500.9h0M101.6 468.1h0M153.5 496.7h0M136.8 546.8h0M94.9 533.0h0M118.9 459.8h0M110.1 550.6h0M99.4 539.5h0M152.4 504.4h0M112.6 480.4h0M104.7 535.9h0M151.8 554.2h0M114.7 481.0h0M105.3 546.1h0M150.5 502.1h0M117.7 545.4h0M146.5 551.2h0M105.1 538.0h0M114.7 548.4h0M109.6 536.1h0M111.3 480.1h0M158.3 554.8h0M164.1 503.6h0M108.2 540.6h0M112.8 469.9h0M156.0 502.1h0M153.3 502.8h0M106.3 543.6h0M158.5 502.5h0M118.3 458.8h0M155.6 555.8h0M93.8 539.9h0M141.1 550.6h0M97.0 532.7h0M130.7 539.2h0M150.6 503.4h0M153.8 500.8h0M90.2 537.2h0M111.2 540.5h0M125.3 463.4h0M102.2 467.0h0M103.8 467.0h0M118.5 454.8h0M90.8 531.5h0M123.4 458.7h0M112.8 469.4h0M114.3 539.4h0M96.3 545.0h0M100.9 531.9h0M95.1 542.1h0M105.7 467.7h0M108.0 540.6h0M95.3 540.3h0M158.9 553.0h0M96.9 544.3h0M90.8 541.0h0M157.0 500.1h0M93.3 543.5h0M126.6 454.9h0M149.1 555.3h0M95.7 543.5h0M93.4 541.4h0M107.3 538.9h0" stroke="#c5c5c5" stroke-width="2.40" stroke-linecap="round"/>
<path d="M102.1 542.6h0M164.6 501.3h0M113.9 550.1h0M108.6 541.4h0M109.4 463.9h0M111.3 467.6h0M110.9 536.8h0M104.9 468.9h0M156.6 502.6h0M99.4 545.1h0M100.8 543.7h0M143.7 550.8h0M89.2 532.5h0M90.2 529.1h0M115.6 472.4h0M102.1 536.4h0M123.6 544.4h0M98.9 530.4h0M94.8 529.0h0M137.2 547.6h0M109.9 537.2h0M102.5 535.5h0M111.5 542.1h0M155.9 552.3h0M162.7 502.1h0M95.9 542.9h0M99.8 546.3h0M97.8 544.2h0M94.0 534.2h0M142.5 551.0h0M163.3 501.3h0M113.0 472.0h0M97.5 535.3h0M157.7 504.6h0M149.6 503.1h0M140.9 551.1h0M165.2 501.9h0M116.6 467.9h0M112.5 467.1h0M94.4 543.9h0M115.4 472.0h0M129.3 463.0h0M155.9 497.7h0M155.1 500.2h0M110.0 541.7h0M112.6 538.4h0M90.7 537.5h0M90.5 535.0h0M126.8 454.9h0M161.6 501.3h0M122.9 461.5h0M110.0 537.7h0M94.9 540.4h0M111.6 536.3h0M126.5 466.9h0M98.6 538.0h0M109.5 536.9h0M104.2 520.5h0M106.6 467.3h0M98.2 533.9h0M158.4 502.1h0" stroke="#c9bfbd" stroke-width="2.40" stroke-linecap="round"/>
<path d="M149.7 503.8h0M97.3 533.9h0M105.1 544.7h0M90.6 539.3h0M98.9 542.5h0M127.0 461.7h0M154.1 553.3h0M104.7 543.2h0M113.3 538.2h0M104.5 541.2h0M156.2 553.0h0M124.2 545.3h0M107.8 465.8h0M99.5 530.9h0M97.1 536.7h0" stroke="#cdbab5" stroke-width="2.40" stroke-linecap="round"/>
<path d="M112.9 471.7h0M126.2 460.1h0" stroke="#d9a394" stroke-width="2.40" stroke-linecap="round"/>
<path d="M117.1 465.4h0M156.0 498.9h0M125.4 452.1h0" stroke="#db9d8c" stroke-width="2.40" stroke-linecap="round"/>
<path d="M149.1 502.8h0M126.7 461.9h0M120.6 453.8h0" stroke="#dd9785" stroke-width="2.40" stroke-linecap="round"/>
<path d="M108.6 550.4h0M112.5 470.7h0M122.4 462.3h0M115.5 547.5h0M117.1 463.4h0M106.4 471.7h0M128.3 453.3h0" stroke="#de917d" stroke-width="2.40" stroke-linecap="round"/>
<path d="M153.5 500.5h0M120.2 463.4h0M121.8 455.7h0M142.8 550.2h0M123.0 451.8h0" stroke="#e08b75" stroke-width="2.40" stroke-linecap="round"/>
<path d="M123.2 452.2h0M127.2 452.8h0M95.6 539.8h0M125.7 458.0h0M119.3 455.4h0M100.3 532.5h0M125.2 454.9h0M115.6 474.3h0" stroke="#e1856d" stroke-width="2.40" stroke-linecap="round"/>
<path d="M110.2 543.9h0M112.3 481.8h0M128.8 455.3h0" stroke="#e27e66" stroke-width="2.40" stroke-linecap="round"/>
<path d="M101.1 542.5h0M137.1 551.2h0M115.1 469.3h0M92.8 466.5h0" stroke="#e3785e" stroke-width="2.40" stroke-linecap="round"/>
<path d="M155.2 498.2h0M113.8 472.8h0M112.8 478.2h0M115.7 467.5h0M104.5 550.1h0" stroke="#e37156" stroke-width="2.40" stroke-linecap="round"/>
<path d="M107.4 475.1h0M122.7 459.5h0M108.2 478.3h0M127.4 463.9h0M115.1 539.1h0M111.7 468.4h0" stroke="#e46b4f" stroke-width="2.40" stroke-linecap="round"/>
<path d="M112.4 469.2h0" stroke="#e46447" stroke-width="2.40" stroke-linecap="round"/>
<path d="M129.8 454.4h0" stroke="#e45538" stroke-width="2.40" stroke-linecap="round"/>
<path d="M95.4 530.1h0" stroke="#e34428" stroke-width="2.40" stroke-linecap="round"/>
<path d="M125.3 493.4h0" stroke="#e33b20" stroke-width="2.40" stroke-linecap="round"/>
<path d="M121.9 490.9h0M124.5 494.1h0" stroke="#e23018" stroke-width="2.40" stroke-linecap="round"/>
<path d="M139.3 551.8h0M119.5 458.5h0M112.9 471.5h0M118.0 543.4h0M92.1 539.2h0M105.6 544.8h0M101.0 546.4h0M107.5 544.9h0M109.2 541.4h0M99.1 538.8h0M151.7 553.4h0M95.0 528.6h0M166.2 502.6h0M108.4 521.2h0M116.3 480.3h0M151.2 553.5h0M116.8 476.1h0M109.7 474.4h0M113.1 476.5h0M151.8 552.0h0M102.0 548.6h0M104.3 547.8h0M152.6 555.7h0M117.1 474.6h0M141.3 547.7h0M92.0 538.8h0M129.1 457.6h0M130.3 456.5h0M106.6 538.4h0M89.7 530.5h0M96.8 535.4h0M106.0 475.0h0M163.8 501.4h0M144.8 550.6h0M154.7 497.6h0M113.9 546.2h0M110.9 468.1h0M117.1 545.2h0M101.5 548.4h0M136.9 549.3h0M113.4 548.9h0M114.1 546.4h0M142.7 550.7h0M95.0 540.3h0M151.3 499.8h0M156.8 504.1h0M126.1 454.8h0M103.1 542.8h0M111.9 465.2h0M115.2 467.0h0M152.5 500.4h0M108.1 491.8h0M98.7 531.9h0M91.7 533.3h0M116.4 547.0h0M109.2 544.1h0M123.8 463.7h0M92.3 541.6h0M105.6 456.1h0M108.7 473.1h0M102.5 541.6h0M107.9 467.8h0M114.2 479.0h0M141.9 550.6h0M91.4 467.3h0M155.6 500.2h0M158.9 502.2h0M152.6 504.1h0M115.7 471.1h0M113.3 477.8h0M111.8 477.7h0M91.8 535.2h0M136.5 548.5h0M163.2 501.0h0M125.4 472.6h0M109.2 478.6h0M102.9 450.4h0M108.8 539.8h0M164.6 502.4h0M108.3 550.7h0M95.7 536.1h0M103.7 450.3h0M113.5 470.7h0M110.9 550.8h0M90.1 531.2h0M154.3 499.6h0M122.2 544.3h0M130.3 459.9h0M113.6 538.1h0M153.5 505.5h0M103.1 450.2h0M119.5 464.3h0M105.6 549.8h0" stroke="#c5c5c5" stroke-width="2.40" stroke-linecap="round"/>
<path d="M95.5 545.3h0M107.7 469.1h0M118.7 479.6h0M108.0 548.9h0M120.3 455.3h0M112.2 481.2h0M110.7 467.1h0M120.8 545.6h0M95.7 532.4h0M122.2 544.1h0M155.2 553.4h0M148.5 555.4h0M89.3 536.4h0M89.3 533.6h0M94.6 533.2h0M105.3 543.6h0M102.2 548.2h0M153.0 497.2h0M113.3 537.3h0M111.8 477.4h0M147.9 500.3h0M124.7 459.3h0M96.8 537.9h0M130.6 540.6h0M106.8 469.9h0M156.7 503.6h0M152.4 500.7h0M107.0 540.2h0M117.6 468.7h0M96.2 531.4h0M122.8 454.5h0M113.4 478.0h0M118.3 479.3h0M117.5 480.7h0M110.4 463.6h0M107.8 536.7h0M141.9 547.9h0M122.1 459.9h0M97.1 546.2h0M91.5 466.9h0M95.0 533.3h0M116.0 469.6h0M121.7 454.1h0M119.5 453.3h0M109.7 550.1h0M90.8 537.4h0M152.0 553.5h0M96.2 532.5h0M154.8 502.3h0M97.2 531.4h0M112.4 547.6h0M115.9 549.1h0M118.1 544.5h0M96.5 530.8h0M115.0 480.3h0M100.2 536.1h0M98.0 533.6h0M112.0 478.3h0M111.2 547.4h0M95.2 533.3h0M136.4 549.4h0M115.2 472.5h0M130.2 457.7h0M127.3 464.7h0M117.8 479.0h0M92.8 532.8h0M106.0 471.6h0M91.6 533.4h0M116.9 540.1h0M112.5 550.2h0M144.7 550.0h0M91.3 530.4h0M122.6 465.3h0M93.3 528.2h0M97.5 532.6h0M119.3 481.1h0M104.2 472.4h0M101.7 544.3h0M127.5 458.7h0M113.6 541.3h0M111.3 479.8h0M112.3 470.9h0M112.7 540.1h0M151.2 553.3h0M117.3 460.8h0M93.8 533.4h0M100.3 547.1h0M107.6 551.1h0M94.7 530.3h0M108.4 464.8h0M104.6 550.1h0M150.8 504.3h0" stroke="#c9bfbd" stroke-width="2.40" stroke-linecap="round"/>
<path d="M99.7 510.5h0M124.4 454.4h0M112.4 468.0h0M119.4 457.4h0M113.9 545.9h0M110.9 540.8h0M112.4 468.2h0M143.0 548.8h0M157.3 498.6h0" stroke="#cdbab5" stroke-width="2.40" stroke-linecap="round"/>
<path d="M96.4 539.6h0" stroke="#d0b4ac" stroke-width="2.40" stroke-linecap="round"/>
<path d="M104.1 537.4h0M116.2 476.3h0" stroke="#d6a89c" stroke-width="2.40" stroke-linecap="round"/>
<path d="M126.9 466.0h0M120.9 456.8h0" stroke="#d9a394" stroke-width="2.40" stroke-linecap="round"/>
<path d="M122.3 454.9h0" stroke="#db9d8c" stroke-width="2.40" stroke-linecap="round"/>
<path d="M130.3 462.3h0M117.0 472.2h0M123.1 456.0h0" stroke="#dd9785" stroke-width="2.40" stroke-linecap="round"/>
<path d="M128.5 454.4h0M129.0 461.8h0M124.9 467.5h0M127.0 455.5h0M127.1 462.5h0" stroke="#de917d" stroke-width="2.40" stroke-linecap="round"/>
<path d="M100.3 536.7h0M153.1 555.5h0M124.2 448.9h0M124.3 464.8h0" stroke="#e08b75" stroke-width="2.40" stroke-linecap="round"/>
<path d="M118.2 474.4h0M127.1 462.2h0M99.8 536.1h0M121.9 459.0h0" stroke="#e1856d" stroke-width="2.40" stroke-linecap="round"/>
<path d="M115.4 480.2h0M126.1 456.7h0M122.3 470.4h0M112.6 476.0h0M112.3 475.9h0" stroke="#e27e66" stroke-width="2.40" stroke-linecap="round"/>
<path d="M117.4 546.3h0M109.6 476.2h0M115.8 479.2h0M109.0 473.5h0M122.3 462.0h0" stroke="#e3785e" stroke-width="2.40" stroke-linecap="round"/>
<path d="M111.3 477.0h0M102.7 536.8h0" stroke="#e37156" stroke-width="2.40" stroke-linecap="round"/>
<path d="M114.7 481.2h0M118.2 473.5h0" stroke="#e46b4f" stroke-width="2.40" stroke-linecap="round"/>
<path d="M124.2 457.6h0M120.0 459.6h0" stroke="#e46447" stroke-width="2.40" stroke-linecap="round"/>
<path d="M113.8 478.3h0M118.5 477.3h0" stroke="#e45d40" stroke-width="2.40" stroke-linecap="round"/>
<path d="M118.6 460.3h0" stroke="#e45538" stroke-width="2.40" stroke-linecap="round"/>
<path d="M121.4 503.8h0" stroke="#e23018" stroke-width="2.40" stroke-linecap="round"/>
<path d="M124.0 494.3h0M122.7 495.6h0M125.8 492.7h0" stroke="#e2220e" stroke-width="2.40" stroke-linecap="round"/>
<path d="M120.6 490.3h0" stroke="#e10a02" stroke-width="2.40" stroke-linecap="round"/>
<path d="M109.2 550.8h0M155.5 555.2h0M123.5 467.0h0M95.9 533.5h0M104.8 471.6h0M154.2 503.7h0M111.6 469.3h0M109.4 539.0h0M105.3 548.6h0M100.9 542.2h0M102.2 534.0h0M165.9 502.9h0M117.4 469.9h0M117.1 469.7h0M151.9 557.3h0M158.4 503.6h0M109.7 538.3h0M118.4 466.5h0M94.1 535.3h0M115.5 467.8h0M109.4 538.9h0M109.5 542.8h0M108.9 547.7h0M92.7 535.2h0M119.8 466.3h0M120.1 455.8h0M115.9 464.6h0M164.8 501.0h0M123.7 456.1h0M116.1 466.1h0M114.3 540.8h0M133.8 542.0h0M108.4 470.9h0M129.9 542.0h0M91.4 537.6h0M125.9 546.3h0M138.3 548.3h0M118.0 466.8h0M162.7 501.9h0M103.3 544.3h0M97.0 529.0h0M152.8 552.7h0M118.0 546.2h0M143.3 552.1h0M108.1 466.1h0M106.7 534.9h0M118.3 472.1h0M108.6 466.3h0M117.8 542.3h0M152.4 496.5h0M104.4 542.6h0M164.2 502.9h0M153.4 555.0h0M142.2 547.5h0M115.4 539.8h0M148.8 503.9h0M118.0 481.0h0M113.6 546.6h0M157.1 553.1h0M104.5 539.7h0M107.2 469.5h0M96.1 537.8h0M107.2 544.6h0M117.8 544.2h0M114.9 476.5h0M153.7 552.1h0M112.6 541.8h0M91.6 530.9h0M138.3 548.0h0M109.9 538.1h0M99.8 545.8h0M140.0 552.3h0M99.9 538.4h0M138.2 551.0h0M117.6 467.8h0M90.7 532.7h0M113.3 540.3h0M91.0 538.8h0M91.5 534.7h0M115.0 546.4h0M116.1 475.9h0M97.4 533.6h0M104.8 537.1h0M107.7 469.3h0M117.7 544.3h0M116.2 480.8h0M108.0 535.2h0M116.3 541.8h0M102.0 547.6h0M108.3 467.3h0M157.0 554.0h0M109.2 466.8h0M112.9 548.1h0M92.1 466.0h0M152.4 497.0h0" stroke="#c5c5c5" stroke-width="2.40" stroke-linecap="round"/>
<path d="M124.7 541.9h0M98.2 515.7h0M111.0 540.9h0M117.6 480.8h0M96.2 542.0h0M124.5 465.9h0M117.7 543.6h0M146.8 553.3h0M141.1 548.3h0M95.6 528.7h0M116.2 545.6h0M157.8 504.3h0M95.9 536.7h0M158.3 552.1h0M109.0 475.7h0M113.8 468.3h0M144.1 550.6h0M138.3 548.5h0M115.7 545.7h0M105.1 543.1h0M155.7 497.7h0M103.4 548.5h0M153.7 500.4h0M132.5 548.8h0M120.6 460.4h0M109.0 465.5h0M104.7 539.9h0M95.9 536.3h0M151.5 503.6h0M108.6 540.8h0M151.2 551.7h0M119.8 453.1h0M98.2 545.6h0M104.8 541.5h0M116.8 468.9h0M112.8 476.9h0M103.9 549.7h0M157.2 502.7h0M101.8 546.4h0M109.8 548.7h0M121.6 465.8h0M94.7 533.8h0M93.2 466.4h0M121.3 464.5h0M94.6 544.1h0M128.9 458.0h0M115.6 468.6h0M128.5 462.8h0M99.8 543.7h0M115.0 466.8h0M112.9 479.1h0M90.4 534.4h0M108.6 475.2h0M123.3 455.9h0M90.5 538.8h0M159.1 554.9h0M120.8 527.9h0M111.5 538.7h0M148.6 556.0h0M118.2 474.8h0M105.5 469.4h0M155.0 552.2h0M160.2 553.3h0M128.5 536.0h0M58.0 488.5h0M96.9 532.9h0M111.0 546.0h0M103.0 547.3h0M98.2 544.8h0M91.4 540.4h0M155.2 552.6h0M146.5 551.3h0M159.1 553.0h0M117.4 459.5h0M114.6 546.4h0" stroke="#c9bfbd" stroke-width="2.40" stroke-linecap="round"/>
<path d="M102.7 539.7h0M146.5 552.6h0M102.8 450.0h0M149.6 500.8h0M102.8 538.4h0M92.5 532.8h0M107.0 476.0h0M148.8 554.2h0M100.8 539.5h0M106.6 537.7h0M151.6 502.2h0M117.1 478.1h0M108.2 546.1h0M112.8 543.4h0M149.7 554.1h0M113.3 466.9h0M94.3 537.9h0M104.2 456.6h0" stroke="#cdbab5" stroke-width="2.40" stroke-linecap="round"/>
<path d="M114.2 480.5h0M128.9 543.0h0" stroke="#d0b4ac" stroke-width="2.40" stroke-linecap="round"/>
<path d="M116.6 474.3h0" stroke="#d3aea4" stroke-width="2.40" stroke-linecap="round"/>
<path d="M157.6 501.6h0M117.4 459.2h0M120.7 457.7h0" stroke="#d6a89c" stroke-width="2.40" stroke-linecap="round"/>
<path d="M155.6 497.9h0" stroke="#d9a394" stroke-width="2.40" stroke-linecap="round"/>
<path d="M113.4 480.2h0" stroke="#db9d8c" stroke-width="2.40" stroke-linecap="round"/>
<path d="M107.5 476.6h0M123.1 462.8h0M141.1 548.9h0" stroke="#dd9785" stroke-width="2.40" stroke-linecap="round"/>
<path d="M122.2 453.0h0" stroke="#de917d" stroke-width="2.40" stroke-linecap="round"/>
<path d="M129.2 458.5h0M114.1 481.3h0M117.1 479.1h0M125.6 452.4h0" stroke="#e08b75" stroke-width="2.40" stroke-linecap="round"/>
<path d="M106.9 475.4h0M152.1 502.2h0" stroke="#e1856d" stroke-width="2.40" stroke-linecap="round"/>
<path d="M108.5 477.7h0M131.2 459.0h0M110.2 473.4h0M107.9 471.7h0M112.1 477.8h0M118.7 477.8h0M136.8 550.4h0" stroke="#e27e66" stroke-width="2.40" stroke-linecap="round"/>
<path d="M126.1 458.7h0M110.9 547.5h0M113.5 477.3h0M120.0 469.6h0" stroke="#e3785e" stroke-width="2.40" stroke-linecap="round"/>
<path d="M128.5 455.6h0M115.5 479.9h0" stroke="#e37156" stroke-width="2.40" stroke-linecap="round"/>
<path d="M97.2 516.8h0M109.4 541.9h0M121.8 453.3h0M109.5 544.0h0M142.4 547.3h0" stroke="#e46b4f" stroke-width="2.40" stroke-linecap="round"/>
<path d="M122.8 460.5h0M115.5 473.0h0M123.5 453.5h0" stroke="#e46447" stroke-width="2.40" stroke-linecap="round"/>
<path d="M120.1 459.7h0M116.5 472.8h0M108.6 478.1h0M115.9 466.0h0" stroke="#e45d40" stroke-width="2.40" stroke-linecap="round"/>
<path d="M113.2 479.8h0" stroke="#e44d30" stroke-width="2.40" stroke-linecap="round"/>
<path d="M127.6 458.6h0M96.2 545.4h0" stroke="#e34428" stroke-width="2.40" stroke-linecap="round"/>
<path d="M91.3 534.9h0" stroke="#e33b20" stroke-width="2.40" stroke-linecap="round"/>
<path d="M123.2 495.2h0M125.9 519.7h0M120.2 500.1h0" stroke="#e23018" stroke-width="2.40" stroke-linecap="round"/>
<path d="M122.0 489.8h0" stroke="#e2220e" stroke-width="2.40" stroke-linecap="round"/>
<path d="M123.2 489.6h0" stroke="#e10a02" stroke-width="2.40" stroke-linecap="round"/>
<path d="M152.0 552.8h0M102.7 543.9h0M105.7 466.8h0M97.1 532.3h0M117.7 479.0h0M90.9 540.4h0M117.2 467.3h0M128.5 547.5h0M105.9 535.9h0M119.1 473.5h0M98.9 539.9h0M92.8 533.5h0M108.3 541.8h0M121.4 544.9h0M109.4 544.1h0M95.8 529.8h0M92.7 530.1h0M128.2 465.9h0M93.2 531.4h0M110.2 545.7h0M152.1 496.8h0M125.0 451.3h0M157.2 553.5h0M146.1 552.5h0M112.6 549.0h0M109.2 540.8h0M95.7 541.9h0M103.4 449.9h0M90.8 532.1h0M95.3 537.9h0M151.4 500.9h0M108.3 535.8h0M139.6 546.6h0M121.6 457.9h0M155.4 496.9h0M110.5 546.5h0M136.4 550.3h0M97.9 533.1h0M159.3 553.3h0M105.3 471.6h0M106.5 550.8h0M150.0 555.3h0M117.2 477.7h0M103.7 547.2h0M107.1 548.8h0M108.0 471.4h0M143.0 549.9h0M102.9 548.7h0M101.6 547.9h0M118.5 457.1h0M138.3 544.3h0M100.5 542.5h0M140.6 548.2h0M97.3 535.6h0M114.6 545.0h0M115.9 545.7h0M151.9 499.8h0M94.1 534.0h0M108.8 544.8h0M113.2 541.3h0M150.7 557.2h0M113.4 542.0h0M116.5 540.6h0M110.7 479.6h0M108.2 547.8h0M109.3 540.7h0M112.0 536.9h0M122.9 544.2h0M104.4 457.2h0M112.7 470.0h0M92.3 529.0h0M158.1 552.0h0M95.5 530.6h0M143.9 552.3h0M91.8 529.8h0M140.4 551.4h0M103.5 470.8h0M117.6 478.6h0M125.2 458.3h0M150.2 501.9h0M113.6 480.7h0M98.8 525.0h0M142.6 547.7h0M137.6 496.4h0M110.6 472.2h0M92.5 539.0h0M104.8 535.6h0M112.6 468.2h0M108.6 545.5h0M110.2 542.6h0M92.2 466.2h0M113.0 546.2h0M98.3 530.8h0M129.5 536.8h0M152.0 504.6h0M110.5 547.2h0M94.7 537.3h0" stroke="#c5c5c5" stroke-width="2.40" stroke-linecap="round"/>
<path d="M135.6 546.8h0M109.3 465.7h0M110.5 539.1h0M115.4 468.7h0M101.2 539.9h0M138.2 546.7h0M117.2 544.8h0M147.5 553.7h0M108.2 545.9h0M153.4 496.6h0M100.3 536.6h0M119.7 545.2h0M156.1 503.8h0M101.5 451.7h0M117.0 540.0h0M111.5 549.3h0M96.5 533.3h0M110.3 544.0h0M90.6 541.4h0M91.7 532.3h0M103.4 517.7h0M97.9 532.4h0M112.5 540.0h0M99.7 543.2h0M115.2 549.3h0M107.7 538.4h0M102.3 539.5h0M108.1 537.5h0M151.1 556.9h0M107.1 543.4h0M58.3 488.7h0M117.1 542.4h0M104.6 467.7h0M99.0 536.7h0M96.2 533.0h0M117.0 541.0h0M102.1 538.7h0M102.3 543.6h0M155.6 505.6h0M94.8 537.4h0M94.7 533.6h0M118.9 462.5h0M111.4 471.1h0M152.2 499.4h0M105.9 467.4h0M130.4 537.9h0M93.1 532.2h0M107.6 549.7h0M111.3 475.8h0M148.1 556.0h0M95.0 543.0h0M106.7 547.7h0M96.4 541.6h0M93.9 543.6h0M117.4 458.2h0M114.9 466.5h0M149.9 556.6h0M99.5 544.1h0M93.2 530.5h0M157.9 501.0h0M114.0 546.2h0M126.7 467.1h0M149.5 552.3h0M102.4 452.1h0M138.8 548.0h0M111.6 545.6h0M118.0 453.4h0M100.7 541.2h0M95.5 541.1h0M100.9 548.6h0M107.0 545.9h0M124.7 544.4h0M111.1 469.9h0M92.2 538.8h0M115.7 543.2h0M97.0 538.2h0M112.4 549.1h0M135.5 545.0h0M117.1 541.1h0M116.6 478.8h0" stroke="#c9bfbd" stroke-width="2.40" stroke-linecap="round"/>
<path d="M108.2 543.7h0M152.6 497.5h0M107.2 475.5h0M115.1 471.3h0M111.7 542.7h0M105.4 472.1h0M92.5 537.2h0M152.2 497.2h0M95.0 532.8h0M110.5 540.8h0M103.6 542.3h0M137.4 550.0h0M155.5 499.4h0M118.1 468.5h0M147.8 551.1h0" stroke="#cdbab5" stroke-width="2.40" stroke-linecap="round"/>
<path d="M119.8 458.0h0" stroke="#d9a394" stroke-width="2.40" stroke-linecap="round"/>
<path d="M115.5 466.6h0M127.9 467.5h0" stroke="#db9d8c" stroke-width="2.40" stroke-linecap="round"/>
<path d="M117.7 473.2h0M123.8 458.0h0" stroke="#dd9785" stroke-width="2.40" stroke-linecap="round"/>
<path d="M102.7 472.5h0M102.0 471.2h0" stroke="#de917d" stroke-width="2.40" stroke-linecap="round"/>
<path d="M126.1 456.9h0M114.0 474.1h0" stroke="#e08b75" stroke-width="2.40" stroke-linecap="round"/>
<path d="M122.5 462.5h0M120.4 458.4h0M116.4 477.5h0M121.6 455.8h0M122.2 460.1h0" stroke="#e1856d" stroke-width="2.40" stroke-linecap="round"/>
<path d="M150.5 550.8h0M153.0 554.2h0M109.2 473.7h0M157.3 501.2h0M117.1 466.4h0M157.7 503.8h0M110.8 469.6h0M119.6 458.5h0" stroke="#e27e66" stroke-width="2.40" stroke-linecap="round"/>
<path d="M113.7 475.1h0M105.0 543.4h0M119.5 456.2h0M115.4 464.4h0M119.6 461.0h0" stroke="#e3785e" stroke-width="2.40" stroke-linecap="round"/>
<path d="M110.7 477.9h0M122.3 456.6h0M113.5 479.7h0M115.2 466.8h0M128.4 464.1h0M100.1 530.3h0" stroke="#e37156" stroke-width="2.40" stroke-linecap="round"/>
<path d="M124.0 464.7h0M104.7 473.9h0M112.4 475.2h0" stroke="#e46b4f" stroke-width="2.40" stroke-linecap="round"/>
<path d="M110.4 480.0h0" stroke="#e46447" stroke-width="2.40" stroke-linecap="round"/>
<path d="M107.5 475.9h0" stroke="#e45d40" stroke-width="2.40" stroke-linecap="round"/>
<path d="M100.9 534.9h0M99.7 513.1h0M119.1 465.9h0M109.8 538.5h0" stroke="#e45538" stroke-width="2.40" stroke-linecap="round"/>
<path d="M123.8 450.0h0" stroke="#e44d30" stroke-width="2.40" stroke-linecap="round"/>
<path d="M119.5 507.9h0M105.6 547.1h0" stroke="#e34428" stroke-width="2.40" stroke-linecap="round"/>
<path d="M124.5 503.0h0" stroke="#e23018" stroke-width="2.40" stroke-linecap="round"/>
<path d="M110.5 523.4h0M130.1 494.3h0" stroke="#e2220e" stroke-width="2.40" stroke-linecap="round"/>
<path d="M101.5 541.7h0M142.6 549.2h0M104.5 538.7h0M104.0 456.7h0M125.8 463.1h0M121.8 544.4h0M152.0 501.0h0M94.3 530.0h0M106.4 550.0h0M120.6 546.1h0M115.4 549.7h0M119.2 481.1h0M100.8 541.3h0M92.0 529.5h0M90.2 539.4h0M123.5 543.6h0M104.7 471.3h0M125.2 464.6h0M125.9 540.7h0M105.8 543.7h0M115.5 482.9h0M107.0 475.6h0M99.6 530.5h0M109.1 543.3h0M99.9 469.2h0M107.3 548.4h0M96.2 537.6h0M93.2 527.7h0M107.3 474.7h0M114.9 475.7h0M93.5 539.7h0M114.5 469.5h0M155.4 496.9h0M149.8 502.7h0M120.8 464.7h0M113.6 477.5h0M92.9 529.9h0M109.1 474.5h0M103.2 451.0h0M136.6 549.2h0M108.6 467.1h0M98.0 536.9h0M105.3 457.0h0M91.8 541.1h0M145.1 551.1h0M100.4 537.7h0M104.2 538.5h0M124.0 458.5h0M103.9 548.0h0M93.9 529.6h0M126.5 460.4h0M103.7 540.2h0M137.0 547.4h0M91.1 531.9h0M98.4 541.3h0M92.9 540.0h0M124.3 545.1h0M91.6 537.8h0M91.8 531.1h0M149.1 550.8h0M164.2 501.5h0M118.0 548.2h0M109.8 468.8h0M116.2 541.0h0M112.9 476.9h0M122.8 463.1h0M108.3 468.4h0M150.2 553.3h0M136.4 550.0h0M118.0 543.3h0M93.7 529.1h0M115.4 544.8h0M102.7 533.4h0M105.6 546.5h0M113.1 543.6h0M111.2 548.9h0M150.4 556.1h0M107.4 473.6h0M128.4 459.2h0M112.5 469.8h0M108.8 546.6h0M98.9 538.3h0M120.0 477.2h0M111.3 476.6h0M103.9 538.1h0M96.3 536.5h0M104.3 539.0h0M155.0 497.4h0M116.2 542.3h0M103.0 542.5h0M113.2 547.2h0M106.5 546.1h0M124.8 459.9h0M153.2 495.2h0" stroke="#c5c5c5" stroke-width="2.40" stroke-linecap="round"/>
<path d="M163.7 503.7h0M113.1 469.0h0M108.2 542.7h0M137.8 546.7h0M111.0 465.3h0M89.1 530.8h0M105.5 539.7h0M106.8 538.0h0M144.6 549.2h0M112.8 538.3h0M100.9 534.5h0M105.4 535.1h0M149.4 551.8h0M156.8 555.0h0M122.8 544.5h0M106.5 536.3h0M100.7 542.8h0M106.8 546.7h0M125.3 465.7h0M116.6 540.5h0M110.5 468.5h0M98.7 530.8h0M97.7 537.4h0M94.1 527.4h0M99.1 532.7h0M107.7 467.3h0M122.2 545.8h0M104.3 543.5h0M112.4 547.7h0M128.8 459.3h0M103.6 467.1h0M115.4 470.1h0M152.8 502.5h0M117.4 546.8h0M102.2 538.3h0M114.3 540.0h0M156.9 552.1h0M105.9 469.9h0M98.8 541.1h0M113.2 547.7h0M142.1 549.3h0M111.4 539.4h0M101.6 540.6h0M109.2 547.6h0M154.2 554.4h0M113.8 478.7h0M140.6 548.3h0M98.0 534.8h0M93.7 530.8h0M122.1 460.0h0M99.8 540.0h0M115.5 477.2h0M152.9 495.9h0M99.4 547.8h0M119.8 453.0h0M111.6 543.7h0M118.2 459.1h0M115.8 481.7h0M114.8 467.0h0M108.7 547.1h0M99.1 514.3h0M115.0 545.1h0M113.3 546.4h0M117.8 472.6h0M150.6 502.6h0M113.6 468.3h0M107.5 544.0h0M105.6 546.7h0M104.7 466.7h0M128.3 539.8h0M106.6 538.2h0" stroke="#c9bfbd" stroke-width="2.40" stroke-linecap="round"/>
<path d="M115.6 480.0h0M118.1 468.8h0M93.0 533.7h0M110.4 537.3h0M115.8 478.6h0M162.9 502.9h0M122.4 460.5h0M108.0 544.1h0M91.4 529.0h0M107.9 544.7h0M103.1 547.3h0M126.5 452.1h0M116.6 467.6h0M96.4 528.5h0M91.4 533.3h0M145.8 550.6h0M96.6 534.9h0M118.0 454.1h0M125.9 455.7h0M95.2 542.0h0" stroke="#cdbab5" stroke-width="2.40" stroke-linecap="round"/>
<path d="M113.9 473.0h0M165.5 503.3h0" stroke="#d0b4ac" stroke-width="2.40" stroke-linecap="round"/>
<path d="M109.8 479.1h0" stroke="#d3aea4" stroke-width="2.40" stroke-linecap="round"/>
<path d="M122.9 458.3h0" stroke="#d6a89c" stroke-width="2.40" stroke-linecap="round"/>
<path d="M108.3 548.1h0" stroke="#d9a394" stroke-width="2.40" stroke-linecap="round"/>
<path d="M117.3 461.3h0M124.6 462.7h0" stroke="#db9d8c" stroke-width="2.40" stroke-linecap="round"/>
<path d="M114.0 464.2h0M115.2 471.9h0M123.2 461.5h0M98.8 537.0h0" stroke="#dd9785" stroke-width="2.40" stroke-linecap="round"/>
<path d="M118.7 456.2h0M120.0 457.9h0M115.2 474.5h0M104.4 472.8h0" stroke="#de917d" stroke-width="2.40" stroke-linecap="round"/>
<path d="M150.9 556.5h0M113.5 481.0h0M129.5 463.0h0M157.3 498.5h0M121.6 451.0h0M103.2 546.7h0" stroke="#e08b75" stroke-width="2.40" stroke-linecap="round"/>
<path d="M110.5 478.8h0M126.0 463.6h0" stroke="#e1856d" stroke-width="2.40" stroke-linecap="round"/>
<path d="M123.3 465.2h0M113.1 480.5h0M123.1 449.0h0M123.3 463.3h0M109.3 473.7h0M91.5 530.4h0M120.6 477.7h0M117.9 472.2h0M126.3 453.9h0" stroke="#e27e66" stroke-width="2.40" stroke-linecap="round"/>
<path d="M118.3 460.1h0M113.4 471.3h0M103.1 546.3h0M124.5 455.4h0" stroke="#e3785e" stroke-width="2.40" stroke-linecap="round"/>
<path d="M120.8 455.7h0M96.2 517.6h0M108.4 473.9h0M109.7 467.3h0" stroke="#e37156" stroke-width="2.40" stroke-linecap="round"/>
<path d="M116.6 466.4h0M129.0 459.1h0" stroke="#e46b4f" stroke-width="2.40" stroke-linecap="round"/>
<path d="M123.1 453.4h0M121.9 466.7h0M122.0 450.7h0M122.3 456.0h0M123.7 451.0h0" stroke="#e46447" stroke-width="2.40" stroke-linecap="round"/>
<path d="M117.1 482.6h0M118.3 478.8h0" stroke="#e45d40" stroke-width="2.40" stroke-linecap="round"/>
<path d="M128.6 453.9h0M112.0 547.6h0M124.3 467.0h0" stroke="#e45538" stroke-width="2.40" stroke-linecap="round"/>
<path d="M126.1 461.1h0M110.0 478.3h0" stroke="#e44d30" stroke-width="2.40" stroke-linecap="round"/>
<path d="M92.5 532.4h0" stroke="#e34428" stroke-width="2.40" stroke-linecap="round"/>
<rect x="52.70" y="442.70" width="118.30" height="118.90" fill="none" stroke="#1a1a1a" stroke-width="1.3"/>
<line x1="49.50" y1="561.60" x2="52.70" y2="561.60" stroke="#1a1a1a" stroke-width="1.0"/>
<text transform="translate(47.00 564.00)" font-size="9.0" text-anchor="end" >200</text>
<line x1="49.50" y1="534.55" x2="52.70" y2="534.55" stroke="#1a1a1a" stroke-width="1.0"/>
<text transform="translate(47.00 536.95)" font-size="9.0" text-anchor="end" >300</text>
<line x1="49.50" y1="507.50" x2="52.70" y2="507.50" stroke="#1a1a1a" stroke-width="1.0"/>
<text transform="translate(47.00 509.90)" font-size="9.0" text-anchor="end" >400</text>
<line x1="49.50" y1="480.45" x2="52.70" y2="480.45" stroke="#1a1a1a" stroke-width="1.0"/>
<text transform="translate(47.00 482.85)" font-size="9.0" text-anchor="end" >500</text>
<line x1="49.50" y1="453.40" x2="52.70" y2="453.40" stroke="#1a1a1a" stroke-width="1.0"/>
<text transform="translate(47.00 455.80)" font-size="9.0" text-anchor="end" >600</text>
<line x1="83.00" y1="561.60" x2="83.00" y2="565.00" stroke="#1a1a1a" stroke-width="1.0"/>
<text transform="translate(83.00 575.80)" font-size="9.0" text-anchor="middle" >600</text>
<line x1="122.40" y1="561.60" x2="122.40" y2="565.00" stroke="#1a1a1a" stroke-width="1.0"/>
<text transform="translate(122.40 575.80)" font-size="9.0" text-anchor="middle" >800</text>
<line x1="161.80" y1="561.60" x2="161.80" y2="565.00" stroke="#1a1a1a" stroke-width="1.0"/>
<text transform="translate(161.80 575.80)" font-size="9.0" text-anchor="middle" >1000</text>
<text transform="translate(111.55 588.40) scale(0.5891 1)" font-size="10.8" text-anchor="middle" stroke="#1a1a1a" stroke-width="0.3" >Component 1</text>
<text transform="translate(26.10 502.15) rotate(-90) scale(0.5984 1)" font-size="10.8" text-anchor="middle" stroke="#1a1a1a" stroke-width="0.3" >Component 2</text>
<text transform="translate(111.85 437.40)" font-size="10.0" text-anchor="middle" font-style="italic" >Col3a1</text>
<path d="M286.7 473.0h0M311.9 547.3h0M258.9 535.0h0M269.3 546.7h0M279.0 545.6h0M292.6 545.4h0M279.2 479.9h0M281.4 539.9h0M287.3 471.9h0M323.6 556.1h0M282.1 479.6h0M259.9 534.6h0M268.5 469.0h0M279.3 468.3h0M287.1 544.4h0M283.6 480.8h0M277.4 540.8h0M261.4 532.9h0M265.5 538.1h0M293.9 544.4h0M266.2 537.4h0M275.4 538.2h0M289.9 527.8h0M304.9 545.0h0M291.1 489.7h0M283.9 546.4h0M291.4 470.2h0M275.5 546.7h0M286.1 542.4h0M287.5 454.6h0" stroke="#c5c5c5" stroke-width="3.40" stroke-linecap="round"/>
<path d="M280.5 469.2h0M285.2 480.6h0M269.8 539.8h0M278.1 473.5h0M286.8 542.3h0M275.2 549.9h0M278.8 478.2h0M321.0 551.7h0M267.4 541.1h0M287.2 474.2h0M263.5 532.7h0M314.3 549.9h0M287.0 543.3h0M274.8 537.8h0M274.7 474.9h0M277.5 547.1h0M293.7 502.9h0M284.1 549.3h0M261.6 527.7h0M297.6 539.8h0M273.4 540.8h0M277.5 546.6h0M282.3 541.9h0M288.8 452.9h0M276.9 540.6h0M277.6 548.5h0M287.4 466.3h0" stroke="#c9bfbd" stroke-width="3.40" stroke-linecap="round"/>
<path d="M288.9 452.8h0M298.5 458.3h0M260.1 533.3h0M295.2 461.0h0" stroke="#cdbab5" stroke-width="3.40" stroke-linecap="round"/>
<path d="M264.6 537.7h0" stroke="#d0b4ac" stroke-width="3.40" stroke-linecap="round"/>
<path d="M278.4 476.0h0" stroke="#d3aea4" stroke-width="3.40" stroke-linecap="round"/>
<path d="M297.7 466.1h0M292.5 458.5h0" stroke="#d9a394" stroke-width="3.40" stroke-linecap="round"/>
<path d="M280.1 476.4h0M266.4 532.4h0M264.3 538.0h0" stroke="#db9d8c" stroke-width="3.40" stroke-linecap="round"/>
<path d="M259.2 541.0h0M263.1 532.6h0M277.0 541.8h0M281.3 468.0h0M276.3 476.5h0M258.5 537.1h0M291.4 454.7h0M273.5 535.5h0M291.6 462.4h0" stroke="#dd9785" stroke-width="3.40" stroke-linecap="round"/>
<path d="M290.9 455.5h0M285.7 538.8h0M282.2 480.1h0M274.1 535.1h0M278.5 550.1h0M274.2 539.6h0M320.3 550.7h0M260.9 539.0h0M284.0 545.0h0M272.8 537.4h0M258.6 540.2h0M312.5 549.8h0" stroke="#de917d" stroke-width="3.40" stroke-linecap="round"/>
<path d="M278.0 547.6h0M287.2 458.9h0M264.4 542.8h0M269.6 546.4h0M276.4 538.3h0M269.0 537.6h0M274.6 467.3h0M267.5 542.5h0M265.8 535.6h0M277.1 535.8h0M293.0 457.8h0M284.1 471.2h0M273.1 472.6h0M287.1 468.6h0M264.4 533.4h0M289.1 459.5h0M265.6 546.2h0" stroke="#e08b75" stroke-width="3.40" stroke-linecap="round"/>
<path d="M270.9 543.6h0M288.3 455.2h0M275.3 550.8h0M279.5 477.7h0M282.0 468.8h0M299.6 456.3h0M290.8 453.1h0M274.3 546.6h0M291.2 459.7h0M272.2 542.3h0M283.6 481.1h0M278.2 538.9h0M283.4 469.3h0M278.0 544.0h0M286.4 459.0h0M276.1 474.5h0M295.2 463.4h0M292.6 453.3h0M271.3 472.3h0M275.2 471.5h0" stroke="#e1856d" stroke-width="3.40" stroke-linecap="round"/>
<path d="M316.1 552.6h0M326.9 554.0h0M279.7 540.7h0M299.5 457.5h0M311.4 550.5h0M293.3 448.7h0M263.2 530.3h0M282.5 538.0h0M270.3 547.9h0M259.1 532.7h0M276.7 540.6h0M267.6 536.6h0M259.8 533.3h0M306.0 549.2h0M263.8 537.8h0M273.5 537.0h0M289.5 454.8h0M279.4 472.1h0" stroke="#e27e66" stroke-width="3.40" stroke-linecap="round"/>
<path d="M276.9 465.9h0M321.8 553.5h0M264.2 541.9h0M286.3 469.7h0M281.5 480.3h0M269.4 539.4h0M291.4 455.8h0M261.3 539.9h0M286.2 467.1h0M268.3 536.1h0M260.0 537.8h0M282.8 545.9h0M285.5 472.6h0M321.6 552.0h0M285.5 540.6h0M287.2 473.3h0M291.5 462.1h0M275.8 543.4h0M289.8 457.5h0M295.3 454.6h0" stroke="#e3785e" stroke-width="3.40" stroke-linecap="round"/>
<path d="M272.6 456.5h0M277.4 467.0h0M280.6 468.3h0M282.7 478.2h0M271.1 541.5h0M283.6 548.4h0M296.6 463.7h0M287.2 474.7h0M294.4 464.5h0M276.9 491.7h0M261.6 466.2h0M268.4 543.2h0M274.4 466.7h0M287.0 453.9h0M325.2 496.8h0M296.0 454.7h0M317.1 553.7h0M310.6 550.6h0M279.0 543.8h0M269.8 542.4h0M286.4 459.3h0M323.2 555.0h0" stroke="#e37156" stroke-width="3.40" stroke-linecap="round"/>
<path d="M262.6 534.0h0M263.2 537.2h0M284.9 465.9h0M266.8 545.5h0M286.3 546.7h0M312.2 549.1h0M281.3 475.1h0M269.5 534.8h0M264.9 536.5h0M322.4 555.7h0M285.2 476.1h0M318.8 502.7h0M299.7 537.9h0M268.3 513.0h0M310.1 548.2h0M260.5 539.2h0M275.2 546.1h0" stroke="#e46b4f" stroke-width="3.40" stroke-linecap="round"/>
<path d="M271.5 449.8h0M320.4 503.3h0M292.3 489.5h0M259.8 467.1h0M268.9 532.5h0M321.4 553.4h0M329.0 553.0h0M277.4 475.1h0M267.6 514.2h0M321.6 557.3h0M328.8 502.1h0M325.1 553.4h0M309.5 552.3h0" stroke="#e46447" stroke-width="3.40" stroke-linecap="round"/>
<path d="M280.2 539.4h0M270.8 538.6h0M323.5 500.3h0M307.8 548.4h0M327.1 553.5h0M318.5 554.2h0M307.0 496.2h0M290.7 457.7h0" stroke="#e45d40" stroke-width="3.40" stroke-linecap="round"/>
<path d="M332.9 502.8h0" stroke="#e45538" stroke-width="3.40" stroke-linecap="round"/>
<path d="M312.9 552.1h0M323.1 502.7h0M271.0 451.9h0M323.6 552.0h0M321.8 500.9h0M334.1 503.5h0M320.6 504.2h0" stroke="#e44d30" stroke-width="3.40" stroke-linecap="round"/>
<path d="M306.2 546.8h0M325.9 502.0h0M335.2 501.8h0M266.7 515.6h0" stroke="#e34428" stroke-width="3.40" stroke-linecap="round"/>
<path d="M322.7 495.8h0M335.9 502.8h0M324.8 497.3h0" stroke="#e33b20" stroke-width="3.40" stroke-linecap="round"/>
<path d="M325.2 496.8h0" stroke="#e2220e" stroke-width="3.40" stroke-linecap="round"/>
<path d="M282.1 541.3h0M299.2 542.0h0M290.9 544.4h0M277.1 548.1h0M258.8 534.3h0M273.2 467.5h0M261.2 466.3h0M259.1 537.5h0M272.3 540.1h0M286.4 546.3h0M316.1 551.1h0M289.2 500.0h0M275.4 547.7h0M263.5 542.0h0M291.0 466.5h0M287.0 543.4h0M289.7 453.6h0M286.1 474.5h0M259.1 532.0h0M293.7 493.9h0M260.2 529.7h0M264.0 545.3h0M295.1 546.3h0M273.3 550.1h0M277.8 465.3h0M261.6 531.4h0M320.0 553.3h0" stroke="#c5c5c5" stroke-width="3.40" stroke-linecap="round"/>
<path d="M279.1 542.6h0M278.8 538.0h0M280.4 536.3h0M292.4 455.7h0M283.2 480.3h0M282.4 480.8h0M291.3 452.8h0M290.6 450.8h0M292.8 455.9h0M292.2 462.7h0M277.7 547.7h0M283.2 478.9h0M259.0 541.3h0M284.2 466.6h0M284.5 547.5h0M272.1 517.7h0M282.1 547.2h0M268.2 531.6h0M293.1 464.5h0M268.4 539.9h0M292.7 544.4h0" stroke="#c9bfbd" stroke-width="3.40" stroke-linecap="round"/>
<path d="M280.1 479.7h0M289.6 490.2h0M273.0 538.9h0M273.4 543.1h0" stroke="#cdbab5" stroke-width="3.40" stroke-linecap="round"/>
<path d="M281.3 547.6h0M319.4 554.1h0M295.7 460.2h0M261.6 532.2h0M291.1 450.5h0M273.4 466.5h0" stroke="#d9a394" stroke-width="3.40" stroke-linecap="round"/>
<path d="M278.0 546.4h0M270.7 471.0h0M265.0 530.7h0M262.3 533.3h0" stroke="#db9d8c" stroke-width="3.40" stroke-linecap="round"/>
<path d="M270.6 547.5h0M259.0 539.2h0M279.7 536.8h0M279.9 469.7h0M262.8 543.9h0M264.9 541.6h0M289.8 455.6h0M318.8 555.3h0M281.5 538.4h0M290.6 465.7h0M296.5 452.6h0M293.7 455.2h0" stroke="#dd9785" stroke-width="3.40" stroke-linecap="round"/>
<path d="M268.2 534.3h0M270.2 467.9h0M282.0 480.3h0M284.8 545.7h0M274.1 543.5h0M295.7 451.9h0M263.7 541.9h0M278.6 479.0h0M264.8 545.0h0M297.8 547.5h0M282.2 546.4h0M281.3 547.7h0M269.5 534.4h0M278.6 548.7h0M268.0 539.5h0M268.2 530.4h0" stroke="#de917d" stroke-width="3.40" stroke-linecap="round"/>
<path d="M299.5 462.1h0M307.6 546.6h0M273.6 468.7h0M273.3 541.3h0M277.4 477.9h0M276.1 473.4h0M296.8 458.4h0M280.3 470.9h0M274.3 549.8h0M284.5 479.9h0M291.4 456.4h0M279.2 463.4h0M274.1 471.9h0M288.8 457.8h0M269.5 548.6h0M269.4 541.2h0M287.0 480.9h0M265.4 544.2h0" stroke="#e08b75" stroke-width="3.40" stroke-linecap="round"/>
<path d="M319.2 551.7h0M281.4 550.2h0M323.9 553.3h0M275.5 469.7h0M286.0 540.0h0M276.3 544.9h0M291.7 465.2h0M326.0 553.0h0M282.5 480.5h0M286.9 472.1h0M262.3 543.0h0M264.2 532.3h0M278.0 541.4h0M306.7 547.6h0M298.8 536.8h0M264.7 531.3h0M273.7 543.4h0M267.3 536.9h0M325.4 555.2h0" stroke="#e1856d" stroke-width="3.40" stroke-linecap="round"/>
<path d="M277.9 474.3h0M277.5 539.8h0M296.0 461.9h0M295.4 459.9h0M278.0 540.7h0M312.3 550.2h0M264.2 543.5h0M297.8 536.0h0M284.3 544.7h0M283.2 539.3h0M320.9 553.5h0M287.5 477.1h0M289.6 460.2h0M284.1 474.4h0M298.2 458.9h0M287.7 456.0h0M281.9 471.8h0M295.3 456.5h0M299.1 454.2h0M268.0 530.9h0M260.5 538.7h0M316.2 551.3h0M292.2 448.8h0M318.2 555.4h0M273.1 457.0h0M286.1 477.6h0M325.0 552.6h0M291.3 459.9h0M274.6 535.8h0" stroke="#e27e66" stroke-width="3.40" stroke-linecap="round"/>
<path d="M285.0 475.7h0M293.4 466.8h0M259.5 531.9h0M259.9 530.3h0M275.8 475.4h0M281.7 543.4h0M263.9 542.7h0M285.0 465.9h0M282.5 477.3h0M288.4 457.2h0M262.4 529.6h0M310.1 548.2h0M292.3 452.0h0M283.0 481.1h0M276.7 467.7h0M261.9 541.4h0M269.3 545.1h0M292.4 463.1h0M298.2 543.0h0" stroke="#e3785e" stroke-width="3.40" stroke-linecap="round"/>
<path d="M277.8 475.6h0M295.1 455.5h0M272.9 520.5h0M270.8 466.8h0M282.4 479.6h0M276.8 471.2h0M298.0 459.2h0M278.5 474.3h0M295.3 456.7h0M271.3 533.3h0M281.0 477.6h0M274.3 455.9h0" stroke="#e37156" stroke-width="3.40" stroke-linecap="round"/>
<path d="M279.3 478.7h0M261.7 543.5h0M312.3 550.7h0M316.4 553.3h0M282.5 541.3h0M288.6 453.1h0M321.8 504.4h0M314.3 548.1h0M259.8 528.9h0M322.6 552.7h0M271.6 450.2h0M287.3 479.2h0M277.2 477.5h0M285.6 540.5h0" stroke="#e46b4f" stroke-width="3.40" stroke-linecap="round"/>
<path d="M319.7 555.3h0M299.9 540.6h0M271.8 542.8h0M268.4 546.2h0M293.3 545.3h0M309.1 546.6h0" stroke="#e46447" stroke-width="3.40" stroke-linecap="round"/>
<path d="M282.3 477.8h0M303.1 542.0h0M321.7 499.7h0M320.7 556.5h0M320.0 501.8h0M322.1 504.3h0M282.8 546.2h0M280.0 540.5h0M270.8 548.2h0" stroke="#e45d40" stroke-width="3.40" stroke-linecap="round"/>
<path d="M328.4 502.4h0M323.3 500.4h0M327.7 504.2h0M288.5 507.8h0M325.0 498.1h0M327.2 498.4h0M325.5 497.8h0M306.5 551.2h0M273.4 535.9h0" stroke="#e45538" stroke-width="3.40" stroke-linecap="round"/>
<path d="M272.9 543.5h0M307.8 548.2h0M321.1 499.6h0M322.3 500.3h0M333.9 501.3h0" stroke="#e44d30" stroke-width="3.40" stroke-linecap="round"/>
<path d="M331.6 501.1h0M318.5 503.8h0M319.4 503.7h0" stroke="#e34428" stroke-width="3.40" stroke-linecap="round"/>
<path d="M286.5 480.5h0M325.5 505.5h0M320.2 502.0h0M334.9 500.9h0M306.4 547.3h0M334.7 501.2h0" stroke="#e33b20" stroke-width="3.40" stroke-linecap="round"/>
<path d="M324.0 499.6h0" stroke="#e10a02" stroke-width="3.40" stroke-linecap="round"/>
<path d="M291.3 545.8h0M286.1 463.2h0M276.8 535.1h0M293.7 462.5h0M271.2 535.4h0M273.4 539.9h0M278.7 537.1h0M276.1 548.4h0M271.9 546.7h0M262.4 544.2h0M287.0 546.2h0M284.7 471.0h0M281.3 549.0h0M281.7 469.2h0M257.5 532.5h0M265.8 533.9h0M278.2 463.7h0M281.5 468.0h0M283.5 546.3h0M281.4 539.2h0M279.4 547.1h0M263.9 541.1h0M289.5 458.2h0M260.2 541.1h0M299.6 459.7h0M267.7 538.7h0M288.3 480.9h0M258.4 531.1h0M285.2 542.2h0M276.0 550.4h0M269.3 542.8h0M284.4 467.6h0M262.1 529.1h0M281.7 478.0h0M265.7 531.4h0M275.4 467.1h0M260.6 466.0h0" stroke="#c5c5c5" stroke-width="3.40" stroke-linecap="round"/>
<path d="M265.3 537.9h0M286.3 458.0h0M274.3 547.0h0M287.1 468.4h0M281.3 469.6h0M259.7 530.3h0M281.9 471.7h0M289.3 455.1h0M277.4 550.4h0M289.1 459.5h0M282.2 538.1h0M264.4 536.3h0M270.2 545.6h0M276.5 467.2h0M260.7 528.9h0M314.7 551.1h0" stroke="#c9bfbd" stroke-width="3.40" stroke-linecap="round"/>
<path d="M282.9 546.1h0M327.0 553.1h0M266.6 536.9h0M261.6 530.5h0M293.1 494.1h0" stroke="#cdbab5" stroke-width="3.40" stroke-linecap="round"/>
<path d="M278.2 541.9h0" stroke="#d6a89c" stroke-width="3.40" stroke-linecap="round"/>
<path d="M286.7 543.5h0" stroke="#d9a394" stroke-width="3.40" stroke-linecap="round"/>
<path d="M294.4 463.2h0M292.9 449.8h0M265.3 535.3h0" stroke="#db9d8c" stroke-width="3.40" stroke-linecap="round"/>
<path d="M297.6 453.1h0M262.1 530.8h0M267.3 531.8h0M283.7 467.0h0M279.1 549.7h0M284.5 474.1h0M273.5 471.5h0" stroke="#dd9785" stroke-width="3.40" stroke-linecap="round"/>
<path d="M286.8 472.5h0M276.6 465.6h0M281.3 467.0h0M280.1 480.0h0M328.2 552.1h0M274.4 467.6h0M282.2 540.2h0M266.0 535.2h0M291.4 461.9h0M280.9 478.1h0M275.6 470.7h0M282.7 478.6h0M270.1 451.5h0" stroke="#de917d" stroke-width="3.40" stroke-linecap="round"/>
<path d="M282.1 547.7h0M294.6 451.9h0M281.7 538.3h0M282.9 464.0h0M282.9 473.9h0M274.4 546.4h0M261.2 535.1h0M284.7 479.1h0M281.9 543.6h0M277.1 470.7h0M274.7 471.4h0M272.1 470.7h0M287.9 459.6h0M277.4 545.5h0M263.5 540.3h0M279.6 469.4h0M292.0 461.3h0M279.7 547.4h0M263.9 530.0h0M259.1 537.4h0M258.1 530.4h0" stroke="#e08b75" stroke-width="3.40" stroke-linecap="round"/>
<path d="M270.7 536.3h0M260.0 533.4h0M284.9 464.4h0M278.1 465.5h0M288.6 464.1h0M291.8 459.3h0M287.5 456.9h0M296.2 461.5h0M286.1 482.4h0M287.0 548.2h0M262.7 537.8h0M281.7 469.7h0M288.8 545.1h0M320.2 556.1h0M283.8 476.3h0M284.6 545.6h0M285.3 541.8h0M317.8 556.0h0M291.9 460.4h0M271.0 539.5h0M279.1 473.3h0M279.4 546.5h0" stroke="#e1856d" stroke-width="3.40" stroke-linecap="round"/>
<path d="M277.3 466.1h0M284.4 468.6h0M292.0 458.1h0M268.5 538.3h0M277.0 545.9h0M276.8 537.4h0M279.8 546.0h0M278.6 468.6h0M277.8 473.3h0M271.6 547.3h0M288.2 465.7h0M294.5 465.5h0M281.5 549.0h0M279.5 466.9h0M269.0 536.1h0M278.5 467.1h0M258.6 539.3h0M312.2 547.7h0M266.5 533.1h0M263.8 540.3h0M263.2 533.5h0M267.0 541.2h0M274.0 456.8h0M281.8 476.7h0M289.1 455.6h0" stroke="#e27e66" stroke-width="3.40" stroke-linecap="round"/>
<path d="M272.3 467.0h0M283.8 466.4h0M283.9 466.6h0M264.7 517.6h0M285.6 466.3h0M263.5 533.2h0M305.0 546.8h0M277.0 546.1h0M287.7 479.5h0M282.7 468.1h0M317.6 500.2h0M257.7 536.4h0M289.0 477.1h0M292.2 455.8h0M273.0 542.5h0M296.3 462.0h0M284.5 479.7h0M282.3 471.2h0M286.0 465.3h0M262.7 529.9h0" stroke="#e3785e" stroke-width="3.40" stroke-linecap="round"/>
<path d="M272.3 450.1h0M315.7 552.5h0M285.6 467.4h0M285.6 478.6h0M262.3 543.6h0M305.9 549.4h0M320.9 556.9h0M281.9 546.2h0M310.6 548.9h0M284.7 543.2h0M260.6 538.8h0M280.7 477.6h0M273.1 539.6h0M320.9 553.2h0M278.3 544.0h0" stroke="#e37156" stroke-width="3.40" stroke-linecap="round"/>
<path d="M287.3 478.7h0M295.0 462.9h0M278.2 538.9h0M276.8 544.1h0M294.3 454.7h0" stroke="#e46b4f" stroke-width="3.40" stroke-linecap="round"/>
<path d="M322.9 555.5h0M277.0 543.6h0M278.5 538.2h0M268.8 536.1h0M310.7 548.3h0M260.0 530.9h0M293.5 454.2h0M271.7 546.3h0M315.4 550.5h0M280.1 548.9h0M322.0 497.1h0" stroke="#e46447" stroke-width="3.40" stroke-linecap="round"/>
<path d="M278.6 538.4h0M268.3 510.4h0M270.4 544.2h0M310.9 547.7h0M326.0 503.9h0M329.0 554.9h0M292.2 451.6h0M321.3 502.1h0M332.7 502.0h0M286.1 541.1h0" stroke="#e45d40" stroke-width="3.40" stroke-linecap="round"/>
<path d="M334.3 502.8h0M322.0 499.3h0M327.6 503.6h0M327.6 504.5h0M276.3 544.0h0M275.0 543.6h0M299.4 494.1h0M324.5 497.5h0M278.3 536.8h0M324.0 503.6h0M319.3 552.2h0M320.4 557.2h0M322.2 496.9h0M321.8 502.1h0" stroke="#e45538" stroke-width="3.40" stroke-linecap="round"/>
<path d="M326.7 504.0h0M311.7 547.4h0M265.7 516.8h0M323.3 496.6h0M322.2 496.4h0M310.4 551.1h0M277.5 544.8h0M325.4 499.3h0M326.9 500.0h0M327.8 500.9h0M336.3 502.5h0" stroke="#e44d30" stroke-width="3.40" stroke-linecap="round"/>
<path d="M334.2 501.4h0M319.3 503.0h0" stroke="#e34428" stroke-width="3.40" stroke-linecap="round"/>
<path d="M319.4 500.7h0" stroke="#e33b20" stroke-width="3.40" stroke-linecap="round"/>
<path d="M275.5 538.0h0M281.1 481.1h0M285.3 547.0h0M258.9 538.8h0M287.6 460.1h0M276.4 551.1h0M277.1 468.2h0M284.4 482.7h0M284.1 471.8h0M267.3 530.8h0M275.7 545.9h0M276.7 471.5h0M287.7 480.9h0M260.9 537.2h0M278.2 544.1h0M274.0 548.6h0M265.5 532.7h0M280.5 542.7h0M286.3 460.6h0M275.2 536.3h0M262.4 534.2h0M279.6 479.4h0M286.5 478.4h0M261.2 533.5h0M296.2 460.1h0M275.9 543.0h0M265.7 532.2h0M307.7 550.9h0M280.0 547.4h0M261.8 528.1h0" stroke="#c5c5c5" stroke-width="3.40" stroke-linecap="round"/>
<path d="M292.9 463.5h0M328.1 552.0h0M278.1 540.6h0M270.8 534.0h0M275.3 537.7h0M311.7 549.3h0M291.9 462.9h0M269.1 542.5h0M280.7 465.1h0M282.4 470.5h0M284.1 472.3h0M280.2 467.5h0M270.9 538.3h0M272.4 547.2h0M294.5 493.3h0M271.7 450.0h0M296.2 455.3h0M266.0 532.5h0M293.1 458.3h0M263.2 537.4h0M287.0 453.2h0M284.6 545.2h0M290.5 544.8h0M289.6 477.5h0" stroke="#c9bfbd" stroke-width="3.40" stroke-linecap="round"/>
<path d="M272.6 538.0h0M285.8 475.9h0M270.7 548.6h0" stroke="#cdbab5" stroke-width="3.40" stroke-linecap="round"/>
<path d="M264.7 532.9h0" stroke="#d3aea4" stroke-width="3.40" stroke-linecap="round"/>
<path d="M264.4 536.6h0M259.7 540.4h0" stroke="#d6a89c" stroke-width="3.40" stroke-linecap="round"/>
<path d="M277.9 543.3h0M305.9 548.5h0M268.9 536.6h0" stroke="#d9a394" stroke-width="3.40" stroke-linecap="round"/>
<path d="M264.1 539.8h0" stroke="#db9d8c" stroke-width="3.40" stroke-linecap="round"/>
<path d="M293.5 464.6h0M288.6 458.3h0M277.1 467.1h0M277.0 539.9h0M287.7 477.6h0M284.5 477.0h0M282.3 548.9h0M281.9 476.3h0M262.5 535.2h0M279.8 465.1h0" stroke="#dd9785" stroke-width="3.40" stroke-linecap="round"/>
<path d="M262.0 539.6h0M284.6 472.3h0M271.8 547.3h0M273.8 538.0h0M317.5 551.1h0M275.3 538.3h0M293.9 541.9h0M285.9 540.1h0M280.4 543.7h0M259.4 538.8h0M268.6 530.2h0M289.9 456.6h0" stroke="#de917d" stroke-width="3.40" stroke-linecap="round"/>
<path d="M295.7 466.8h0M284.1 466.8h0M281.2 475.7h0M308.8 551.8h0M298.2 461.6h0M263.4 533.0h0M276.5 469.1h0M294.1 451.1h0M294.7 452.2h0M276.2 475.7h0M306.2 550.4h0M282.7 474.9h0M262.2 539.8h0M259.2 531.5h0M295.2 458.5h0M290.4 464.3h0M284.5 468.4h0M261.2 532.7h0M274.3 544.8h0" stroke="#e08b75" stroke-width="3.40" stroke-linecap="round"/>
<path d="M279.7 550.7h0M284.4 472.9h0M307.3 546.6h0M292.6 466.8h0M271.4 538.3h0M285.6 474.2h0M272.9 547.8h0M276.5 468.9h0M268.0 545.0h0M270.2 540.6h0M272.9 538.5h0M260.2 531.1h0M268.9 547.0h0M296.3 462.3h0M291.9 454.3h0M295.5 453.7h0M284.3 549.7h0M286.0 472.1h0M277.3 547.4h0M281.6 540.0h0" stroke="#e1856d" stroke-width="3.40" stroke-linecap="round"/>
<path d="M272.9 456.4h0M326.7 555.0h0M283.5 545.0h0M273.8 543.0h0M286.1 479.0h0M286.6 468.5h0M276.8 548.9h0M270.4 546.4h0M307.7 544.3h0M271.6 542.5h0M291.2 459.8h0M287.3 459.9h0M306.9 550.0h0M275.6 475.2h0M264.7 532.5h0M263.7 533.3h0M283.8 543.0h0M329.3 553.3h0M277.4 541.3h0M292.6 543.6h0M283.0 546.4h0M280.7 477.2h0M281.5 541.8h0M279.7 467.9h0M264.9 539.6h0" stroke="#e27e66" stroke-width="3.40" stroke-linecap="round"/>
<path d="M261.4 533.6h0M291.3 544.2h0M279.3 540.8h0M225.9 488.6h0M298.4 457.5h0M269.5 542.2h0M284.3 480.1h0M266.4 544.1h0M267.5 539.8h0M264.9 528.5h0M225.6 488.4h0M283.3 540.7h0M281.1 470.7h0M318.3 556.0h0M280.5 545.6h0M291.5 460.3h0M282.8 472.9h0M259.7 534.9h0M276.4 549.7h0M259.9 466.7h0M263.9 530.6h0M290.8 453.9h0M268.1 544.1h0M309.9 551.4h0M284.9 469.5h0" stroke="#e3785e" stroke-width="3.40" stroke-linecap="round"/>
<path d="M288.7 460.8h0M324.8 552.2h0M259.8 537.6h0M276.6 536.7h0M291.3 544.1h0M276.1 474.9h0M285.4 477.3h0M284.8 481.5h0M267.7 532.7h0M298.5 538.6h0M279.9 540.9h0M325.5 555.8h0M292.2 453.2h0M284.9 549.0h0M282.6 475.0h0M282.5 546.5h0M330.2 553.3h0M258.6 529.0h0M283.8 475.5h0M270.1 541.7h0M276.0 475.3h0M297.2 467.3h0" stroke="#e37156" stroke-width="3.40" stroke-linecap="round"/>
<path d="M292.4 465.0h0M295.1 540.7h0M260.5 465.8h0M272.0 544.3h0M321.6 554.2h0M280.3 542.1h0M280.9 536.8h0M263.1 533.2h0" stroke="#e46b4f" stroke-width="3.40" stroke-linecap="round"/>
<path d="M271.4 539.7h0M322.8 554.2h0M325.9 503.7h0M280.1 476.9h0M261.3 529.4h0M296.5 464.5h0M263.5 528.6h0M288.2 480.9h0M324.2 499.5h0M328.3 503.5h0M295.1 519.7h0" stroke="#e46447" stroke-width="3.40" stroke-linecap="round"/>
<path d="M298.1 455.1h0M321.3 503.5h0M325.5 500.1h0M312.0 551.0h0" stroke="#e45d40" stroke-width="3.40" stroke-linecap="round"/>
<path d="M323.0 495.1h0M327.2 498.5h0M327.1 502.4h0M327.1 502.6h0M322.6 502.4h0M325.8 552.2h0M328.3 502.0h0M325.6 497.6h0M325.0 500.0h0" stroke="#e45538" stroke-width="3.40" stroke-linecap="round"/>
<path d="M314.2 549.1h0M322.4 497.3h0M324.6 502.2h0" stroke="#e44d30" stroke-width="3.40" stroke-linecap="round"/>
<path d="M322.8 497.1h0M267.3 524.9h0M323.3 505.4h0M325.8 498.8h0M322.1 500.6h0M327.2 501.1h0M332.7 501.8h0" stroke="#e34428" stroke-width="3.40" stroke-linecap="round"/>
<path d="M326.5 502.5h0" stroke="#e33b20" stroke-width="3.40" stroke-linecap="round"/>
<path d="M277.5 473.0h0M272.6 549.6h0M297.6 459.0h0M260.1 532.2h0M297.7 454.2h0M292.0 544.2h0M285.2 545.6h0M283.9 480.2h0M311.4 547.9h0M262.6 527.3h0M278.0 478.4h0M266.6 534.7h0M260.7 541.6h0M284.4 539.8h0M281.7 476.7h0M263.2 533.7h0M280.4 549.3h0M276.0 469.3h0M277.1 464.7h0M284.4 466.4h0M273.5 541.4h0M277.0 547.8h0M313.3 550.7h0M283.1 480.1h0M290.7 455.6h0M284.4 471.8h0M263.4 540.4h0M286.1 544.7h0M297.5 465.7h0M291.0 458.8h0" stroke="#c5c5c5" stroke-width="3.40" stroke-linecap="round"/>
<path d="M295.0 492.6h0M274.0 471.5h0M286.7 544.3h0M291.8 495.4h0M270.2 548.4h0M257.4 530.7h0M286.8 478.9h0M293.5 545.1h0M308.9 548.7h0M286.8 544.1h0M260.2 535.2h0M259.2 540.3h0M287.0 466.7h0M267.5 538.2h0M269.4 543.7h0M281.7 548.1h0M291.0 490.8h0M273.8 544.7h0M294.3 458.2h0M285.8 468.7h0" stroke="#c9bfbd" stroke-width="3.40" stroke-linecap="round"/>
<path d="M268.4 545.8h0M275.5 534.9h0M296.1 465.9h0" stroke="#cdbab5" stroke-width="3.40" stroke-linecap="round"/>
<path d="M265.7 536.7h0" stroke="#d6a89c" stroke-width="3.40" stroke-linecap="round"/>
<path d="M278.3 542.7h0M295.9 466.9h0M272.0 548.5h0M278.0 550.8h0M293.8 459.2h0" stroke="#d9a394" stroke-width="3.40" stroke-linecap="round"/>
<path d="M297.8 455.4h0M272.9 472.2h0M281.8 471.6h0M284.0 469.1h0M274.5 543.7h0M289.1 457.8h0M275.8 475.8h0M277.1 473.7h0M282.1 537.2h0M298.5 462.9h0" stroke="#db9d8c" stroke-width="3.40" stroke-linecap="round"/>
<path d="M286.7 545.4h0M328.8 553.0h0M286.1 469.5h0M291.9 544.5h0M298.2 457.8h0M260.9 532.7h0" stroke="#dd9785" stroke-width="3.40" stroke-linecap="round"/>
<path d="M265.5 532.8h0M263.5 543.0h0M305.8 550.0h0M326.7 552.1h0M282.8 550.1h0M277.2 521.1h0M285.1 540.9h0M274.6 469.7h0M281.7 478.9h0M282.4 477.1h0M284.4 469.9h0M266.9 530.7h0" stroke="#de917d" stroke-width="3.40" stroke-linecap="round"/>
<path d="M267.5 530.4h0M279.1 544.0h0M264.7 542.0h0M298.7 462.8h0M293.7 465.8h0M282.7 472.6h0M275.8 548.8h0M288.1 473.3h0M301.8 548.7h0M264.7 537.6h0M267.1 537.9h0M282.2 466.7h0M278.9 550.5h0M283.2 539.9h0M293.3 457.4h0M283.8 466.8h0M287.3 458.6h0M268.9 536.5h0M282.5 468.1h0M275.8 540.2h0M273.4 471.1h0M294.8 457.8h0" stroke="#e08b75" stroke-width="3.40" stroke-linecap="round"/>
<path d="M296.8 458.5h0M312.6 548.8h0M266.7 544.8h0M278.8 541.7h0M272.4 466.8h0M286.0 545.2h0M285.3 480.2h0M257.6 533.6h0M289.3 463.2h0M261.3 529.8h0M297.6 463.9h0M279.3 539.0h0M281.6 469.8h0M282.2 477.6h0M286.3 461.1h0M269.3 541.2h0M281.2 481.7h0M264.3 529.7h0M281.3 467.8h0M270.7 542.6h0M284.8 478.4h0M274.2 469.3h0M263.0 544.1h0M284.3 464.2h0M263.3 528.9h0M267.8 535.5h0M274.0 546.1h0M281.2 469.0h0M280.3 538.7h0M273.4 473.8h0M328.2 554.8h0M266.5 533.5h0" stroke="#e1856d" stroke-width="3.40" stroke-linecap="round"/>
<path d="M288.0 462.3h0M313.7 550.5h0M266.8 533.9h0M284.6 467.3h0M278.0 466.7h0M273.2 541.1h0M280.8 547.6h0M268.4 543.6h0M286.1 478.0h0M260.9 532.4h0M269.5 531.9h0M286.5 467.6h0M288.6 456.0h0M280.2 475.6h0M281.7 471.3h0M261.1 530.0h0M321.8 552.8h0M289.7 546.1h0M297.8 453.7h0M279.2 537.3h0M265.0 533.2h0M278.8 537.7h0M297.7 462.6h0M271.6 548.7h0M300.5 458.8h0" stroke="#e27e66" stroke-width="3.40" stroke-linecap="round"/>
<path d="M288.6 458.3h0M314.4 550.6h0M295.9 461.7h0M273.2 550.1h0M271.4 543.9h0M289.0 469.4h0M285.6 467.7h0M305.8 550.3h0M260.4 529.4h0M268.0 547.8h0M307.8 548.0h0M306.4 549.3h0M265.2 534.9h0M285.9 540.9h0M308.3 548.0h0M276.0 538.8h0M294.0 459.8h0M272.6 548.0h0M276.7 544.6h0" stroke="#e3785e" stroke-width="3.40" stroke-linecap="round"/>
<path d="M300.0 539.2h0M294.6 472.4h0M277.0 550.7h0M286.7 478.8h0M264.7 545.4h0M326.6 503.5h0M288.8 466.1h0M289.9 464.5h0M276.9 478.2h0M286.1 466.2h0M286.6 480.6h0M281.5 475.8h0M292.4 461.3h0M272.0 449.7h0M278.0 473.5h0M271.8 450.8h0M321.9 496.7h0M292.8 450.8h0M273.2 538.7h0M268.3 543.2h0" stroke="#e37156" stroke-width="3.40" stroke-linecap="round"/>
<path d="M289.8 545.6h0M264.1 536.1h0M292.3 495.0h0M319.7 556.6h0M265.9 533.5h0M318.8 550.8h0M295.8 454.7h0M265.5 528.9h0M275.9 544.5h0" stroke="#e46b4f" stroke-width="3.40" stroke-linecap="round"/>
<path d="M276.9 542.7h0M294.0 467.4h0M279.4 523.3h0" stroke="#e46447" stroke-width="3.40" stroke-linecap="round"/>
<path d="M324.0 554.4h0M290.5 503.7h0M319.6 502.6h0M313.5 552.3h0M264.1 528.7h0M325.7 497.5h0M281.3 470.6h0M323.7 500.7h0" stroke="#e45d40" stroke-width="3.40" stroke-linecap="round"/>
<path d="M333.4 501.2h0M327.5 501.5h0M321.2 500.8h0M320.3 500.8h0M322.3 504.0h0" stroke="#e45538" stroke-width="3.40" stroke-linecap="round"/>
<path d="M271.3 536.8h0M333.2 500.9h0M333.7 503.6h0" stroke="#e44d30" stroke-width="3.40" stroke-linecap="round"/>
<path d="M278.4 536.1h0M284.0 539.1h0" stroke="#e34428" stroke-width="3.40" stroke-linecap="round"/>
<path d="M322.4 502.4h0M320.4 502.5h0M335.5 503.2h0" stroke="#e33b20" stroke-width="3.40" stroke-linecap="round"/>
<path d="M323.2 496.5h0M334.7 502.3h0" stroke="#e23018" stroke-width="3.40" stroke-linecap="round"/>
<rect x="221.50" y="442.70" width="119.80" height="118.90" fill="none" stroke="#1a1a1a" stroke-width="1.3"/>
<line x1="218.30" y1="561.60" x2="221.50" y2="561.60" stroke="#1a1a1a" stroke-width="1.0"/>
<text transform="translate(215.80 564.00)" font-size="9.0" text-anchor="end" >200</text>
<line x1="218.30" y1="534.50" x2="221.50" y2="534.50" stroke="#1a1a1a" stroke-width="1.0"/>
<text transform="translate(215.80 536.90)" font-size="9.0" text-anchor="end" >300</text>
<line x1="218.30" y1="507.40" x2="221.50" y2="507.40" stroke="#1a1a1a" stroke-width="1.0"/>
<text transform="translate(215.80 509.80)" font-size="9.0" text-anchor="end" >400</text>
<line x1="218.30" y1="480.30" x2="221.50" y2="480.30" stroke="#1a1a1a" stroke-width="1.0"/>
<text transform="translate(215.80 482.70)" font-size="9.0" text-anchor="end" >500</text>
<line x1="218.30" y1="453.20" x2="221.50" y2="453.20" stroke="#1a1a1a" stroke-width="1.0"/>
<text transform="translate(215.80 455.60)" font-size="9.0" text-anchor="end" >600</text>
<line x1="251.20" y1="561.60" x2="251.20" y2="565.00" stroke="#1a1a1a" stroke-width="1.0"/>
<text transform="translate(251.20 575.80)" font-size="9.0" text-anchor="middle" >600</text>
<line x1="291.50" y1="561.60" x2="291.50" y2="565.00" stroke="#1a1a1a" stroke-width="1.0"/>
<text transform="translate(291.50 575.80)" font-size="9.0" text-anchor="middle" >800</text>
<line x1="331.80" y1="561.60" x2="331.80" y2="565.00" stroke="#1a1a1a" stroke-width="1.0"/>
<text transform="translate(331.80 575.80)" font-size="9.0" text-anchor="middle" >1000</text>
<text transform="translate(281.10 588.40) scale(0.5891 1)" font-size="10.8" text-anchor="middle" stroke="#1a1a1a" stroke-width="0.3" >Component 1</text>
<text transform="translate(194.90 502.15) rotate(-90) scale(0.5984 1)" font-size="10.8" text-anchor="middle" stroke="#1a1a1a" stroke-width="0.3" >Component 2</text>
<text transform="translate(281.40 437.40)" font-size="10.0" text-anchor="middle" font-style="italic" >Arrb2</text>
<path d="M464.2 453.8h0M469.2 453.3h0M459.5 463.8h0M457.7 459.1h0M460.0 458.9h0M462.8 452.6h0M469.2 460.7h0M458.5 456.9h0M469.5 453.1h0M466.7 459.0h0M464.5 456.3h0M469.2 452.1h0M455.7 462.3h0M459.8 455.2h0M458.8 452.5h0M463.6 449.4h0M469.1 462.0h0M459.3 460.4h0M470.9 455.5h0M471.0 454.3h0M465.4 465.5h0M468.2 456.5h0M457.0 464.4h0M467.2 449.8h0M457.4 464.3h0M458.3 451.9h0M458.6 457.9h0M463.6 446.6h0M462.7 450.7h0M467.3 465.0h0M466.0 449.8h0M458.5 466.7h0M460.9 456.2h0M465.4 457.8h0M455.4 467.3h0M469.2 451.6h0M464.3 461.6h0M455.9 466.6h0M465.1 463.8h0M455.8 464.5h0M462.1 453.5h0M459.7 453.1h0M457.7 456.0h0M462.4 464.6h0M460.2 464.2h0M467.4 459.9h0M455.5 464.8h0M458.3 451.1h0M460.0 456.3h0M471.9 456.8h0M459.9 453.9h0M467.1 464.9h0M460.5 453.6h0M455.3 464.7h0M469.7 459.6h0M463.1 463.3h0M466.4 461.0h0M456.4 464.0h0M465.2 460.6h0M462.7 457.9h0M462.8 454.3h0M467.3 452.6h0M466.6 461.4h0M466.7 452.5h0M463.4 456.1h0M462.5 448.3h0M462.2 451.0h0M457.7 458.6h0M462.8 453.7h0M458.8 464.4h0M470.5 452.1h0M461.2 455.5h0M456.2 463.9h0M466.3 455.8h0M462.3 453.4h0M462.9 458.3h0M460.7 453.0h0M462.1 455.6h0M469.7 456.9h0M463.3 461.0h0M465.8 462.5h0M465.8 452.6h0M463.3 458.4h0M459.9 456.3h0M469.9 456.2h0M463.6 460.7h0M466.2 450.1h0M468.1 461.8h0M466.0 470.6h0M462.8 468.4h0M457.9 476.7h0M448.4 466.3h0M451.3 467.8h0M448.4 465.3h0M455.9 470.5h0M454.5 477.2h0M454.1 466.3h0M455.8 471.1h0M455.0 479.1h0M457.7 467.9h0M453.1 475.0h0M448.7 476.2h0M452.7 467.8h0M453.9 473.2h0M457.4 477.3h0M447.8 467.2h0M457.5 472.7h0M447.6 474.7h0M444.3 470.8h0M445.7 464.8h0M453.6 476.1h0M453.1 467.4h0M444.5 465.6h0M455.2 473.7h0M453.7 475.4h0M444.2 470.4h0M455.5 472.6h0M442.6 470.5h0M444.8 466.9h0M445.9 467.8h0M446.6 465.2h0M443.4 468.8h0M455.4 469.4h0M454.0 470.8h0M453.2 470.0h0M458.3 470.3h0M452.0 475.8h0M448.7 465.1h0M455.3 478.5h0M453.6 469.4h0M441.9 469.2h0M455.8 475.3h0M452.6 465.9h0M453.1 469.5h0M456.3 467.6h0M458.6 471.5h0M449.7 474.3h0M456.8 470.8h0M448.2 476.5h0M449.1 473.8h0M449.9 466.7h0M452.1 463.2h0M457.5 467.7h0M448.0 465.8h0M445.9 465.4h0M448.7 473.3h0M452.9 468.0h0M447.8 463.7h0M458.2 477.2h0M452.2 476.4h0M453.8 478.9h0M451.9 466.4h0M450.5 478.2h0M453.4 477.9h0M454.3 479.5h0M450.7 470.2h0M450.6 477.0h0M449.1 471.5h0M457.1 466.8h0M456.0 469.2h0M450.6 466.4h0M453.6 475.9h0M458.5 472.9h0M446.0 469.6h0M453.3 478.6h0M455.2 464.5h0M453.6 478.4h0M449.5 461.8h0M447.5 474.0h0M451.0 467.6h0M447.4 473.2h0M451.8 467.3h0M447.0 474.1h0M452.8 478.6h0M449.2 472.5h0M455.7 478.4h0M455.8 465.7h0M457.0 472.4h0M447.4 472.8h0M448.8 471.2h0M452.6 467.2h0M451.5 478.0h0M452.5 468.9h0M445.4 467.4h0M458.4 479.2h0M456.7 475.6h0M454.9 479.4h0M457.9 479.0h0M461.0 475.8h0M457.5 476.3h0M460.4 475.4h0M459.3 457.6h0M460.4 467.5h0M442.3 449.8h0M442.7 447.7h0M443.1 448.7h0M443.3 447.6h0M441.3 449.3h0M445.6 453.8h0M444.3 455.0h0M443.9 454.5h0M445.2 454.8h0M431.0 464.8h0M430.9 465.2h0M439.7 467.1h0M439.5 509.2h0M437.9 514.5h0M436.9 515.6h0M438.6 523.9h0M443.3 516.6h0M461.2 526.9h0M462.5 488.2h0M463.7 488.0h0M463.2 494.0h0M464.6 492.7h0M470.9 492.7h0M460.6 498.6h0M461.9 502.4h0M465.1 501.6h0M466.5 518.6h0M489.2 498.8h0M478.5 494.8h0M494.1 495.9h0M496.5 495.9h0M492.9 502.2h0M496.7 496.7h0M494.6 493.7h0M493.5 500.7h0M493.8 499.3h0M500.0 502.2h0M499.4 502.9h0M494.2 501.0h0M497.3 496.2h0M498.9 497.1h0M496.9 495.4h0M493.6 497.9h0M494.7 501.4h0M491.1 502.4h0M497.0 497.9h0M497.2 498.7h0M494.5 495.7h0M497.5 500.7h0M491.9 499.4h0M493.8 503.0h0M495.7 502.3h0M496.6 498.7h0M494.4 494.3h0M493.9 499.0h0M493.8 494.9h0M500.0 500.7h0M497.2 496.4h0M498.8 501.3h0M493.4 499.5h0M494.0 502.7h0M495.2 499.0h0M494.9 504.2h0M498.6 498.6h0M505.1 499.9h0M506.6 499.5h0M504.5 500.4h0M504.4 500.7h0M506.4 501.0h0M507.0 500.5h0M506.4 499.9h0M503.3 499.8h0M505.6 499.9h0M439.9 529.3h0M433.3 528.2h0M456.6 541.1h0M430.7 531.0h0M446.6 550.2h0M439.6 545.6h0M430.5 538.0h0M438.5 529.9h0M434.7 539.5h0M455.1 542.4h0M448.1 536.6h0M430.3 536.6h0M456.9 539.8h0M453.8 537.2h0M450.3 545.0h0M442.1 533.2h0M444.5 549.5h0M432.8 530.5h0M450.7 546.5h0M437.0 534.8h0M443.3 547.9h0M433.5 542.9h0M446.6 537.6h0M445.2 548.0h0M449.9 548.1h0M436.9 531.3h0M436.1 527.6h0M449.6 542.0h0M444.7 540.1h0M449.3 550.2h0M440.8 534.0h0M440.3 535.3h0M435.9 541.3h0M434.4 529.4h0M454.2 545.5h0M448.2 539.8h0M454.6 538.6h0M449.6 536.1h0M444.3 541.8h0M448.0 539.8h0M443.3 543.6h0M444.2 538.2h0M457.2 539.3h0M442.0 541.9h0M440.1 535.3h0M440.5 540.4h0M451.8 535.5h0M444.4 537.9h0M456.0 544.5h0M442.8 548.1h0M442.0 537.9h0M443.7 546.5h0M451.8 544.9h0M432.1 531.9h0M451.2 540.1h0M438.7 539.1h0M454.6 540.0h0M444.0 536.6h0M434.5 528.0h0M444.8 534.7h0M445.9 535.0h0M457.0 539.8h0M444.8 536.2h0M456.5 540.2h0M452.7 538.4h0M449.1 542.6h0M452.7 549.6h0M441.0 541.7h0M435.3 539.0h0M431.8 538.0h0M450.0 536.3h0M457.4 539.2h0M437.2 534.4h0M442.9 546.7h0M447.1 539.5h0M447.3 549.9h0M438.7 537.5h0M445.3 545.5h0M446.8 537.2h0M431.9 540.9h0M431.6 538.0h0M444.6 535.1h0M435.1 529.2h0M443.2 546.1h0M445.8 543.0h0M435.2 544.6h0M436.1 540.9h0M447.6 543.3h0M453.5 537.4h0M439.3 530.0h0M451.6 541.4h0M458.4 542.7h0M446.6 536.9h0M453.2 545.5h0M457.7 546.1h0M435.9 531.6h0M443.9 549.1h0M449.5 543.4h0M438.9 531.8h0M431.1 532.6h0M450.1 536.9h0M440.7 538.7h0M441.6 545.8h0M435.6 535.5h0M454.6 539.2h0M447.9 535.9h0M444.7 542.4h0M457.1 538.1h0M449.4 539.9h0M438.7 529.5h0M445.0 537.2h0M453.0 542.7h0M433.1 538.9h0M433.7 534.4h0M431.3 532.4h0M441.9 546.9h0M448.2 545.4h0M438.1 529.8h0M445.3 542.9h0M453.8 540.6h0M430.4 539.6h0M451.8 543.0h0M448.3 550.1h0M438.8 535.8h0M448.9 547.9h0M431.0 536.8h0M443.9 547.4h0M440.7 540.5h0M450.6 538.3h0M448.4 547.5h0M436.7 528.0h0M437.3 531.7h0M435.5 528.8h0M432.6 532.8h0M448.1 534.3h0M446.5 535.5h0M449.8 537.5h0M443.8 537.3h0M434.3 532.3h0M453.1 537.5h0M445.5 538.9h0M453.4 547.0h0M455.7 539.1h0M447.4 547.8h0M443.0 542.1h0M434.4 532.7h0M448.1 543.4h0M448.8 544.1h0M449.5 538.1h0M452.6 547.0h0M429.7 528.1h0M458.4 545.5h0M435.4 542.8h0M432.8 526.7h0M455.5 548.7h0M446.5 545.5h0M431.0 528.0h0M451.0 546.8h0M439.4 533.5h0M447.7 550.5h0M449.5 541.2h0M450.7 545.9h0M441.6 543.6h0M439.1 534.7h0M428.7 531.6h0M451.4 548.3h0M438.7 541.8h0M444.9 542.7h0M445.6 549.2h0M449.8 549.5h0M431.3 531.4h0M428.8 532.8h0M434.9 532.4h0M458.2 541.5h0M447.1 542.7h0M439.4 529.5h0M431.7 538.4h0M458.0 543.6h0M437.5 536.6h0M439.2 544.4h0M440.2 535.8h0M430.9 529.4h0M431.9 528.0h0M457.3 540.2h0M450.6 540.0h0M431.0 532.4h0M442.4 534.6h0M434.7 542.3h0M451.3 539.7h0M436.1 538.8h0M435.8 537.0h0M444.6 549.5h0M428.8 535.6h0M432.8 529.6h0M458.4 547.6h0M441.1 539.1h0M454.3 545.8h0M448.3 539.2h0M452.8 548.4h0M444.2 542.8h0M447.3 538.1h0M448.3 545.2h0M440.2 536.8h0M430.4 540.3h0M439.3 543.4h0M452.2 546.9h0M448.2 542.0h0M450.2 550.0h0M434.0 543.2h0M464.2 543.7h0M462.3 543.7h0M461.2 544.9h0M471.5 538.4h0M469.6 542.3h0M466.5 540.0h0M465.3 541.2h0M464.0 542.9h0M464.9 544.5h0M474.6 541.3h0M473.3 548.1h0M477.7 546.2h0M477.5 548.6h0M481.7 547.6h0M485.2 550.0h0M487.0 550.0h0M480.7 546.0h0M481.6 547.6h0M479.2 546.0h0M486.0 550.0h0M479.3 547.8h0M478.4 549.4h0M487.7 550.6h0M483.0 547.2h0M477.5 547.9h0M483.9 549.6h0M487.7 550.7h0M482.2 548.3h0M477.9 546.7h0M481.9 550.5h0M481.1 551.7h0M481.4 550.8h0M485.9 549.4h0M491.3 554.8h0M497.0 554.7h0M498.4 551.5h0M498.6 553.5h0M489.9 555.5h0M494.6 555.0h0M488.0 552.8h0M490.9 551.7h0M499.9 554.3h0M493.2 553.7h0M499.8 551.6h0M492.5 556.4h0M501.0 552.8h0M489.4 555.6h0M492.5 552.7h0M491.9 550.2h0M501.9 552.8h0M492.6 551.2h0M492.1 556.7h0M496.5 551.6h0M489.1 550.5h0M498.8 553.0h0M497.7 552.4h0M497.5 551.7h0M489.8 554.9h0M490.5 554.8h0M495.3 555.6h0" stroke="#c5c5c5" stroke-width="2.40" stroke-linecap="round"/>
<path d="M464.7 455.4h0M465.1 453.1h0M464.3 447.6h0M467.7 453.2h0M461.8 462.4h0M463.0 460.4h0M460.7 461.2h0M457.8 457.3h0M464.9 452.1h0M461.0 458.3h0M462.8 459.9h0M465.5 449.0h0M462.4 456.8h0M461.1 451.5h0M454.8 467.5h0M464.8 446.5h0M459.1 453.9h0M457.4 463.4h0M468.9 463.8h0M458.6 456.5h0M469.5 457.1h0M465.9 463.6h0M461.3 462.6h0M460.4 457.5h0M469.0 451.0h0M460.2 455.8h0M463.2 457.3h0M466.8 457.9h0M463.8 463.1h0M468.2 456.4h0M464.5 462.6h0M463.8 461.2h0M462.6 457.8h0M468.6 465.4h0M457.5 461.2h0M463.6 453.8h0M464.4 455.8h0M456.9 465.8h0M466.7 454.7h0M456.0 465.4h0M463.3 452.2h0M467.5 452.6h0M464.2 448.6h0M467.1 458.2h0M469.8 455.4h0M460.5 457.5h0M456.2 462.5h0M470.0 460.9h0M464.0 456.5h0M457.8 457.0h0M460.2 450.8h0M465.3 457.1h0M467.7 460.1h0M467.3 459.8h0M467.6 464.0h0M469.2 464.2h0M463.8 459.3h0M467.9 462.6h0M466.9 451.6h0M467.9 450.5h0M462.9 460.1h0M457.9 466.6h0M469.1 457.0h0M471.0 460.1h0M458.4 464.8h0M461.2 453.5h0M463.7 449.8h0M471.1 457.7h0M467.8 460.4h0M459.9 462.2h0M466.5 453.4h0M463.8 453.7h0M462.0 448.6h0M466.8 454.5h0M463.4 459.4h0M462.6 457.7h0M454.2 462.1h0M457.9 465.7h0M465.9 461.3h0M460.3 450.7h0M462.1 451.8h0M453.2 469.9h0M458.8 475.4h0M451.5 473.9h0M446.8 467.9h0M455.4 470.5h0M451.6 469.1h0M445.7 465.7h0M455.7 468.1h0M449.9 477.3h0M454.5 478.4h0M453.8 475.6h0M456.6 479.0h0M457.5 480.8h0M443.7 464.9h0M453.1 477.2h0M452.8 466.2h0M455.4 464.9h0M446.9 468.9h0M449.3 476.7h0M450.8 465.0h0M455.8 481.1h0M454.2 471.1h0M448.4 468.9h0M458.1 470.7h0M445.3 469.6h0M451.4 475.1h0M447.8 467.1h0M453.8 477.9h0M451.1 463.2h0M459.0 475.9h0M442.0 464.9h0M448.5 475.8h0M455.2 474.6h0M448.0 469.4h0M453.7 479.1h0M451.4 474.7h0M444.7 469.3h0M447.8 465.3h0M449.3 464.8h0M456.4 474.0h0M449.4 471.7h0M447.3 473.6h0M456.1 477.4h0M457.5 465.3h0M448.6 464.2h0M445.4 470.1h0M459.1 477.8h0M458.0 477.1h0M453.8 466.2h0M455.8 478.0h0M450.8 476.0h0M450.5 461.4h0M449.1 463.4h0M449.3 471.7h0M448.0 469.7h0M452.5 473.9h0M454.1 473.1h0M447.4 471.6h0M444.7 469.7h0M454.1 476.5h0M447.2 467.5h0M446.0 473.1h0M452.3 475.9h0M458.1 471.2h0M458.6 472.5h0M452.6 473.3h0M454.2 472.1h0M452.7 465.1h0M455.9 478.2h0M453.0 467.9h0M451.5 465.6h0M446.5 469.7h0M455.9 472.3h0M458.7 470.1h0M452.5 480.0h0M448.4 462.7h0M453.5 464.9h0M455.1 464.9h0M453.0 475.0h0M448.4 471.9h0M447.1 473.7h0M452.7 468.8h0M458.6 477.0h0M454.0 476.9h0M456.6 478.5h0M452.6 466.2h0M457.0 476.9h0M454.5 478.7h0M452.0 475.5h0M452.8 474.1h0M449.9 465.3h0M455.5 470.0h0M451.4 478.3h0M449.8 472.5h0M443.5 465.1h0M457.3 470.3h0M451.0 466.0h0M455.7 470.0h0M457.5 475.9h0M444.7 464.6h0M444.7 472.0h0M452.4 479.4h0M453.7 468.7h0M449.4 463.6h0M453.3 466.9h0M453.0 476.3h0M459.6 479.3h0M458.7 477.5h0M459.7 479.3h0M457.9 478.8h0M450.9 477.8h0M443.0 447.9h0M443.6 448.0h0M442.9 448.0h0M444.2 454.4h0M432.4 464.4h0M396.8 487.1h0M435.9 516.5h0M448.5 520.0h0M469.2 546.9h0M461.0 488.7h0M462.4 489.3h0M465.9 491.9h0M466.4 491.1h0M463.7 493.6h0M465.1 492.5h0M450.7 522.3h0M499.5 499.5h0M495.3 499.3h0M494.0 501.0h0M492.2 502.9h0M491.0 499.4h0M491.2 501.3h0M492.7 498.3h0M498.2 501.2h0M496.9 495.4h0M498.9 499.7h0M497.4 496.1h0M499.2 502.3h0M497.7 502.6h0M500.1 501.0h0M498.4 502.7h0M490.4 501.3h0M494.9 499.0h0M497.6 502.3h0M492.8 499.4h0M493.4 503.2h0M498.2 502.2h0M493.8 495.5h0M492.0 501.2h0M494.8 495.1h0M497.1 504.3h0M490.1 502.5h0M491.8 500.6h0M492.0 502.0h0M493.5 495.3h0M498.8 497.0h0M498.7 501.1h0M495.0 495.1h0M499.3 503.2h0M492.9 500.8h0M495.6 498.3h0M493.3 498.3h0M505.5 502.3h0M505.8 502.2h0M506.0 501.5h0M507.7 501.5h0M504.9 499.6h0M442.1 537.5h0M441.5 547.3h0M440.7 531.0h0M446.7 547.0h0M451.1 550.2h0M453.1 547.5h0M437.9 544.2h0M438.9 538.0h0M433.3 529.9h0M444.7 540.7h0M445.0 542.3h0M446.8 534.0h0M428.6 529.9h0M451.7 548.7h0M433.0 527.2h0M448.4 535.0h0M441.4 547.8h0M457.5 541.7h0M435.4 531.4h0M451.8 542.0h0M439.6 545.1h0M439.2 538.7h0M441.4 539.9h0M454.9 544.3h0M447.6 549.1h0M440.1 531.6h0M451.0 536.0h0M435.1 529.7h0M440.2 546.4h0M433.5 532.5h0M452.9 539.3h0M449.9 537.6h0M443.0 545.6h0M449.7 535.3h0M430.4 530.6h0M448.3 547.1h0M434.4 536.6h0M452.8 541.1h0M442.0 535.5h0M440.6 542.1h0M458.2 543.5h0M442.7 537.6h0M448.7 544.8h0M449.3 540.0h0M431.4 528.9h0M449.5 538.2h0M437.1 532.7h0M437.7 532.7h0M429.9 533.5h0M455.3 545.7h0M442.2 538.7h0M445.4 534.3h0M437.6 543.5h0M441.9 548.0h0M437.7 531.5h0M431.6 528.5h0M440.4 541.8h0M451.5 538.6h0M431.1 530.0h0M429.8 538.6h0M439.6 535.3h0M433.5 528.7h0M433.4 539.1h0M434.3 536.5h0M435.9 544.7h0M434.7 541.3h0M439.4 530.7h0M454.1 549.5h0M456.2 545.0h0M453.8 545.9h0M456.7 546.3h0M449.0 547.1h0M438.6 540.4h0M453.5 545.8h0M453.5 536.5h0M446.7 537.4h0M439.2 547.2h0M448.8 546.0h0M434.4 532.9h0M430.9 539.6h0M439.5 542.5h0M441.4 545.0h0M455.7 544.1h0M433.0 540.7h0M440.5 544.4h0M458.0 542.9h0M450.3 543.1h0M445.6 545.8h0M437.8 536.1h0M431.1 533.8h0M448.3 542.9h0M452.2 536.0h0M457.5 544.1h0M444.6 539.2h0M432.3 534.3h0M449.3 540.7h0M452.6 547.1h0M432.9 542.8h0M451.3 546.8h0M450.1 540.9h0M448.7 549.8h0M445.6 546.0h0M448.0 544.0h0M444.5 540.6h0M445.6 544.1h0M458.1 544.7h0M450.4 543.3h0M450.4 541.9h0M433.5 542.3h0M456.0 545.0h0M443.0 546.6h0M432.5 528.5h0M450.4 549.1h0M450.5 536.5h0M435.1 540.4h0M454.1 545.3h0M442.3 540.8h0M442.6 536.0h0M435.6 542.2h0M447.6 544.2h0M456.6 541.5h0M458.4 543.8h0M445.6 546.4h0M453.4 546.5h0M444.2 537.7h0M448.1 548.3h0M442.1 547.6h0M436.4 534.1h0M431.2 537.0h0M435.9 536.8h0M439.6 539.2h0M449.6 543.3h0M451.2 545.4h0M436.8 545.5h0M433.9 529.0h0M450.1 537.3h0M454.8 545.7h0M448.3 541.0h0M432.5 528.9h0M448.7 540.0h0M435.3 527.7h0M436.1 535.7h0M436.9 535.9h0M434.3 531.7h0M448.8 546.5h0M442.6 543.2h0M439.7 537.6h0M435.9 530.4h0M433.7 526.4h0M448.8 539.1h0M457.4 544.5h0M435.4 541.2h0M434.7 527.6h0M446.5 549.4h0M440.7 543.0h0M438.6 536.1h0M436.5 537.1h0M445.1 544.0h0M432.4 531.9h0M444.5 540.4h0M436.2 529.9h0M446.1 537.1h0M440.8 548.0h0M437.0 533.0h0M432.4 532.6h0M448.7 540.6h0M435.3 535.3h0M449.3 545.8h0M457.8 545.6h0M435.0 537.0h0M432.5 532.1h0M457.4 540.3h0M436.6 543.6h0M464.0 544.7h0M462.7 543.4h0M463.3 543.8h0M462.7 543.6h0M460.1 544.5h0M462.7 545.2h0M465.3 543.7h0M461.1 545.5h0M463.4 543.5h0M464.7 544.6h0M469.2 535.2h0M470.3 536.0h0M471.2 537.1h0M471.4 539.9h0M470.7 541.3h0M466.5 545.7h0M476.4 544.3h0M479.3 543.6h0M478.2 546.9h0M482.1 550.0h0M483.9 550.1h0M484.2 548.2h0M483.2 548.7h0M485.8 548.5h0M480.4 548.1h0M486.3 550.5h0M478.8 546.0h0M483.3 546.8h0M478.0 550.6h0M480.3 551.2h0M479.8 547.4h0M477.7 549.9h0M479.3 547.4h0M482.9 550.0h0M477.9 548.7h0M483.6 550.4h0M484.1 549.2h0M485.9 547.5h0M477.3 549.4h0M484.5 551.5h0M482.4 547.1h0M483.5 546.7h0M477.4 548.8h0M479.3 547.6h0M495.2 551.5h0M487.3 552.0h0M492.5 552.9h0M490.8 551.2h0M490.4 550.2h0M500.5 552.4h0M496.7 552.1h0M494.2 552.1h0M493.4 553.0h0M500.7 552.4h0M492.3 556.0h0M493.1 552.8h0M495.6 552.8h0M491.6 552.8h0M491.0 553.6h0M498.7 552.5h0M497.1 555.3h0M499.7 551.5h0M493.2 551.5h0M498.4 554.4h0M496.7 552.8h0M494.8 554.5h0M487.7 552.1h0M491.8 555.6h0" stroke="#c9bfbd" stroke-width="2.40" stroke-linecap="round"/>
<path d="M462.0 463.7h0M466.7 456.5h0M464.0 464.9h0M467.6 458.1h0M455.0 465.1h0M470.2 460.9h0M464.9 462.7h0M459.9 451.0h0M458.9 454.9h0M456.9 465.6h0M459.0 458.1h0M465.7 456.1h0M467.6 459.5h0M463.6 451.1h0M460.5 455.7h0M464.0 451.2h0M456.5 474.4h0M448.2 464.0h0M450.1 476.5h0M457.2 474.2h0M446.9 473.4h0M459.5 471.5h0M450.4 471.5h0M441.4 466.1h0M453.1 469.8h0M456.1 476.7h0M455.7 466.7h0M459.0 479.2h0M432.8 464.3h0M431.8 464.1h0M431.7 463.9h0M396.5 486.8h0M459.9 506.6h0M493.6 495.7h0M499.1 500.1h0M500.5 500.8h0M496.2 496.1h0M490.9 501.7h0M508.0 501.1h0M451.1 540.0h0M447.2 543.9h0M442.9 541.8h0M435.0 539.6h0M436.7 531.8h0M443.6 539.4h0M429.7 536.3h0M434.6 532.1h0M452.6 548.4h0M454.2 545.5h0M440.6 546.1h0M453.3 542.9h0M440.9 545.7h0M456.2 548.4h0M432.1 531.5h0M438.2 540.5h0M430.3 531.2h0M436.5 534.5h0M434.7 531.9h0M430.9 534.0h0M440.7 541.5h0M438.0 544.9h0M452.7 539.2h0M447.7 537.6h0M447.2 542.3h0M448.6 546.8h0M438.0 533.0h0M454.9 547.8h0M461.9 544.2h0M469.0 539.0h0M469.9 537.8h0M483.7 547.1h0M476.5 546.1h0M479.2 550.4h0M485.1 551.8h0M490.1 553.6h0M493.4 552.3h0M493.3 556.8h0M491.3 556.1h0M494.5 553.6h0" stroke="#cdbab5" stroke-width="2.40" stroke-linecap="round"/>
<path d="M455.3 544.4h0M451.6 537.9h0M482.2 547.7h0" stroke="#d0b4ac" stroke-width="2.40" stroke-linecap="round"/>
<path d="M456.1 479.9h0" stroke="#dd9785" stroke-width="2.40" stroke-linecap="round"/>
<path d="M458.5 466.5h0" stroke="#e37156" stroke-width="2.40" stroke-linecap="round"/>
<path d="M453.3 474.6h0M448.2 490.2h0M442.6 539.0h0M432.5 539.2h0" stroke="#e46b4f" stroke-width="2.40" stroke-linecap="round"/>
<path d="M464.9 465.0h0M439.5 511.9h0M447.1 548.2h0M442.1 542.9h0M438.5 531.0h0M432.7 531.3h0" stroke="#e46447" stroke-width="2.40" stroke-linecap="round"/>
<path d="M460.9 452.7h0M438.9 513.1h0M452.8 537.6h0M433.6 543.6h0M436.0 544.3h0M444.2 547.2h0M458.3 542.6h0" stroke="#e45d40" stroke-width="2.40" stroke-linecap="round"/>
<path d="M435.9 532.1h0M437.8 533.9h0M434.9 541.2h0M434.6 539.6h0M430.0 534.1h0M449.3 547.0h0M436.7 531.9h0M430.2 531.8h0M484.8 550.2h0M494.1 555.2h0" stroke="#e45538" stroke-width="2.40" stroke-linecap="round"/>
<path d="M461.3 454.5h0M491.6 500.4h0M433.6 533.3h0M434.7 532.4h0M429.8 539.4h0M456.0 542.5h0M438.4 537.2h0M483.7 548.5h0" stroke="#e44d30" stroke-width="2.40" stroke-linecap="round"/>
<path d="M469.6 455.8h0M505.9 500.1h0M436.7 537.4h0M453.6 548.3h0M455.3 538.3h0M442.6 532.5h0M440.1 535.7h0M430.1 538.0h0M431.4 540.4h0M431.1 529.4h0M455.6 549.1h0M435.6 532.6h0" stroke="#e34428" stroke-width="2.40" stroke-linecap="round"/>
<path d="M432.1 536.4h0M435.1 542.0h0M431.4 534.4h0M430.2 536.7h0M436.2 532.4h0M429.6 530.2h0M432.3 529.1h0M439.6 543.0h0M449.3 543.3h0M429.2 529.6h0M477.3 549.7h0M500.7 554.4h0M495.6 553.9h0" stroke="#e33b20" stroke-width="2.40" stroke-linecap="round"/>
<path d="M507.3 501.9h0M444.4 538.9h0M447.0 545.2h0M436.9 530.5h0M456.6 544.9h0M446.3 542.9h0M488.7 553.2h0" stroke="#e23018" stroke-width="2.40" stroke-linecap="round"/>
<path d="M497.5 497.4h0M495.8 498.1h0M496.3 500.9h0M504.6 501.5h0M430.1 540.6h0M439.6 542.5h0M453.4 540.6h0M433.7 533.1h0M440.7 533.6h0M434.2 543.4h0M435.5 537.2h0M453.6 541.2h0" stroke="#e2220e" stroke-width="2.40" stroke-linecap="round"/>
<path d="M444.2 519.4h0M430.1 538.5h0M431.4 530.2h0M432.1 538.2h0M437.7 532.2h0M441.4 541.0h0M446.8 546.0h0M453.5 539.5h0M435.5 535.8h0M443.5 541.6h0M455.8 546.9h0M433.9 537.1h0" stroke="#e10a02" stroke-width="2.40" stroke-linecap="round"/>
<rect x="391.50" y="440.40" width="121.50" height="121.00" fill="none" stroke="#1a1a1a" stroke-width="1.3"/>
<line x1="388.30" y1="561.20" x2="391.50" y2="561.20" stroke="#1a1a1a" stroke-width="1.0"/>
<text transform="translate(385.80 563.60)" font-size="9.0" text-anchor="end" >200</text>
<line x1="388.30" y1="533.68" x2="391.50" y2="533.68" stroke="#1a1a1a" stroke-width="1.0"/>
<text transform="translate(385.80 536.08)" font-size="9.0" text-anchor="end" >300</text>
<line x1="388.30" y1="506.15" x2="391.50" y2="506.15" stroke="#1a1a1a" stroke-width="1.0"/>
<text transform="translate(385.80 508.55)" font-size="9.0" text-anchor="end" >400</text>
<line x1="388.30" y1="478.62" x2="391.50" y2="478.62" stroke="#1a1a1a" stroke-width="1.0"/>
<text transform="translate(385.80 481.02)" font-size="9.0" text-anchor="end" >500</text>
<line x1="388.30" y1="451.10" x2="391.50" y2="451.10" stroke="#1a1a1a" stroke-width="1.0"/>
<text transform="translate(385.80 453.50)" font-size="9.0" text-anchor="end" >600</text>
<line x1="422.30" y1="561.40" x2="422.30" y2="564.80" stroke="#1a1a1a" stroke-width="1.0"/>
<text transform="translate(422.30 575.60)" font-size="9.0" text-anchor="middle" >600</text>
<line x1="462.90" y1="561.40" x2="462.90" y2="564.80" stroke="#1a1a1a" stroke-width="1.0"/>
<text transform="translate(462.90 575.60)" font-size="9.0" text-anchor="middle" >800</text>
<line x1="503.50" y1="561.40" x2="503.50" y2="564.80" stroke="#1a1a1a" stroke-width="1.0"/>
<text transform="translate(503.50 575.60)" font-size="9.0" text-anchor="middle" >1000</text>
<text transform="translate(451.95 588.20) scale(0.5891 1)" font-size="10.8" text-anchor="middle" stroke="#1a1a1a" stroke-width="0.3" >Component 1</text>
<text transform="translate(364.90 500.90) rotate(-90) scale(0.5984 1)" font-size="10.8" text-anchor="middle" stroke="#1a1a1a" stroke-width="0.3" >Component 2</text>
<text transform="translate(452.25 435.10)" font-size="10.0" text-anchor="middle" font-style="italic" >Gpr114</text>
<ellipse cx="113.2" cy="293.7" rx="20.4" ry="13.4" transform="rotate(-55.5 113.2 293.7)" fill="none" stroke="#222" stroke-width="1.0"/>
<ellipse cx="100.45" cy="366.05" rx="17.3" ry="12.2" transform="rotate(36.3 100.45 366.05)" fill="none" stroke="#222" stroke-width="1.0"/>
<text transform="translate(132.30 293.60)" font-size="7.4" >EC</text>
<text transform="translate(78.60 350.00)" font-size="7.4" >HC1</text>
<text transform="translate(44.40 263.80)" font-size="9.75" >Clusters (CD31<tspan font-size="7.02" dy="-3.51">+</tspan><tspan dy="3.51">G2V</tspan><tspan font-size="7.02" dy="-3.51">med</tspan><tspan dy="3.51">cKit</tspan><tspan font-size="7.02" dy="-3.51">hi</tspan><tspan dy="3.51">)</tspan></text>
<defs><linearGradient id="lg0" x1="0" y1="1" x2="0" y2="0"><stop offset="0.000" stop-color="#c5c5c5"/><stop offset="0.125" stop-color="#d0b4ac"/><stop offset="0.250" stop-color="#d9a394"/><stop offset="0.375" stop-color="#de917d"/><stop offset="0.500" stop-color="#e27e66"/><stop offset="0.625" stop-color="#e46b4f"/><stop offset="0.750" stop-color="#e45538"/><stop offset="0.875" stop-color="#e33b20"/><stop offset="1.000" stop-color="#e10a02"/></linearGradient></defs>
<rect x="225.0" y="344.0" width="8.00" height="38.60" fill="url(#lg0)"/>
<line x1="225.00" y1="350.00" x2="226.60" y2="350.00" stroke="#fff" stroke-width="0.5" opacity="0.6"/>
<line x1="231.40" y1="350.00" x2="233.00" y2="350.00" stroke="#fff" stroke-width="0.5" opacity="0.6"/>
<text transform="translate(237.20 352.60)" font-size="7.2" >3</text>
<line x1="225.00" y1="360.40" x2="226.60" y2="360.40" stroke="#fff" stroke-width="0.5" opacity="0.6"/>
<line x1="231.40" y1="360.40" x2="233.00" y2="360.40" stroke="#fff" stroke-width="0.5" opacity="0.6"/>
<text transform="translate(237.20 363.00)" font-size="7.2" >2</text>
<line x1="225.00" y1="370.60" x2="226.60" y2="370.60" stroke="#fff" stroke-width="0.5" opacity="0.6"/>
<line x1="231.40" y1="370.60" x2="233.00" y2="370.60" stroke="#fff" stroke-width="0.5" opacity="0.6"/>
<text transform="translate(237.20 373.20)" font-size="7.2" >1</text>
<line x1="225.00" y1="381.10" x2="226.60" y2="381.10" stroke="#fff" stroke-width="0.5" opacity="0.6"/>
<line x1="231.40" y1="381.10" x2="233.00" y2="381.10" stroke="#fff" stroke-width="0.5" opacity="0.6"/>
<text transform="translate(237.20 383.70)" font-size="7.2" >0</text>
<text transform="translate(223.60 339.60)" font-size="6.8" >Exp</text>
<defs><linearGradient id="lg1" x1="0" y1="1" x2="0" y2="0"><stop offset="0.000" stop-color="#c5c5c5"/><stop offset="0.125" stop-color="#d0b4ac"/><stop offset="0.250" stop-color="#d9a394"/><stop offset="0.375" stop-color="#de917d"/><stop offset="0.500" stop-color="#e27e66"/><stop offset="0.625" stop-color="#e46b4f"/><stop offset="0.750" stop-color="#e45538"/><stop offset="0.875" stop-color="#e33b20"/><stop offset="1.000" stop-color="#e10a02"/></linearGradient></defs>
<rect x="399.0" y="345.0" width="8.00" height="37.60" fill="url(#lg1)"/>
<line x1="399.00" y1="358.40" x2="400.60" y2="358.40" stroke="#fff" stroke-width="0.5" opacity="0.6"/>
<line x1="405.40" y1="358.40" x2="407.00" y2="358.40" stroke="#fff" stroke-width="0.5" opacity="0.6"/>
<text transform="translate(411.30 361.00)" font-size="7.2" >2</text>
<line x1="399.00" y1="369.80" x2="400.60" y2="369.80" stroke="#fff" stroke-width="0.5" opacity="0.6"/>
<line x1="405.40" y1="369.80" x2="407.00" y2="369.80" stroke="#fff" stroke-width="0.5" opacity="0.6"/>
<text transform="translate(411.30 372.40)" font-size="7.2" >1</text>
<line x1="399.00" y1="381.10" x2="400.60" y2="381.10" stroke="#fff" stroke-width="0.5" opacity="0.6"/>
<line x1="405.40" y1="381.10" x2="407.00" y2="381.10" stroke="#fff" stroke-width="0.5" opacity="0.6"/>
<text transform="translate(411.30 383.70)" font-size="7.2" >0</text>
<text transform="translate(397.60 340.60)" font-size="6.8" >Exp</text>
<defs><linearGradient id="lg2" x1="0" y1="1" x2="0" y2="0"><stop offset="0.000" stop-color="#c5c5c5"/><stop offset="0.125" stop-color="#d0b4ac"/><stop offset="0.250" stop-color="#d9a394"/><stop offset="0.375" stop-color="#de917d"/><stop offset="0.500" stop-color="#e27e66"/><stop offset="0.625" stop-color="#e46b4f"/><stop offset="0.750" stop-color="#e45538"/><stop offset="0.875" stop-color="#e33b20"/><stop offset="1.000" stop-color="#e10a02"/></linearGradient></defs>
<rect x="56.0" y="518.0" width="8.00" height="39.30" fill="url(#lg2)"/>
<line x1="56.00" y1="523.30" x2="57.60" y2="523.30" stroke="#fff" stroke-width="0.5" opacity="0.6"/>
<line x1="62.40" y1="523.30" x2="64.00" y2="523.30" stroke="#fff" stroke-width="0.5" opacity="0.6"/>
<text transform="translate(67.30 525.90)" font-size="7.2" >3</text>
<line x1="56.00" y1="533.90" x2="57.60" y2="533.90" stroke="#fff" stroke-width="0.5" opacity="0.6"/>
<line x1="62.40" y1="533.90" x2="64.00" y2="533.90" stroke="#fff" stroke-width="0.5" opacity="0.6"/>
<text transform="translate(67.30 536.50)" font-size="7.2" >2</text>
<line x1="56.00" y1="544.10" x2="57.60" y2="544.10" stroke="#fff" stroke-width="0.5" opacity="0.6"/>
<line x1="62.40" y1="544.10" x2="64.00" y2="544.10" stroke="#fff" stroke-width="0.5" opacity="0.6"/>
<text transform="translate(67.30 546.70)" font-size="7.2" >1</text>
<line x1="56.00" y1="554.60" x2="57.60" y2="554.60" stroke="#fff" stroke-width="0.5" opacity="0.6"/>
<line x1="62.40" y1="554.60" x2="64.00" y2="554.60" stroke="#fff" stroke-width="0.5" opacity="0.6"/>
<text transform="translate(67.30 557.20)" font-size="7.2" >0</text>
<text transform="translate(54.60 513.60)" font-size="6.8" >Exp</text>
<defs><linearGradient id="lg3" x1="0" y1="1" x2="0" y2="0"><stop offset="0.000" stop-color="#c5c5c5"/><stop offset="0.125" stop-color="#d0b4ac"/><stop offset="0.250" stop-color="#d9a394"/><stop offset="0.375" stop-color="#de917d"/><stop offset="0.500" stop-color="#e27e66"/><stop offset="0.625" stop-color="#e46b4f"/><stop offset="0.750" stop-color="#e45538"/><stop offset="0.875" stop-color="#e33b20"/><stop offset="1.000" stop-color="#e10a02"/></linearGradient></defs>
<rect x="225.0" y="520.0" width="8.00" height="38.60" fill="url(#lg3)"/>
<line x1="225.00" y1="520.60" x2="226.60" y2="520.60" stroke="#fff" stroke-width="0.5" opacity="0.6"/>
<line x1="231.40" y1="520.60" x2="233.00" y2="520.60" stroke="#fff" stroke-width="0.5" opacity="0.6"/>
<text transform="translate(235.80 523.20)" font-size="7.2" >2.5</text>
<line x1="225.00" y1="528.60" x2="226.60" y2="528.60" stroke="#fff" stroke-width="0.5" opacity="0.6"/>
<line x1="231.40" y1="528.60" x2="233.00" y2="528.60" stroke="#fff" stroke-width="0.5" opacity="0.6"/>
<text transform="translate(235.80 531.20)" font-size="7.2" >2</text>
<line x1="225.00" y1="535.90" x2="226.60" y2="535.90" stroke="#fff" stroke-width="0.5" opacity="0.6"/>
<line x1="231.40" y1="535.90" x2="233.00" y2="535.90" stroke="#fff" stroke-width="0.5" opacity="0.6"/>
<text transform="translate(235.80 538.50)" font-size="7.2" >1.5</text>
<line x1="225.00" y1="543.30" x2="226.60" y2="543.30" stroke="#fff" stroke-width="0.5" opacity="0.6"/>
<line x1="231.40" y1="543.30" x2="233.00" y2="543.30" stroke="#fff" stroke-width="0.5" opacity="0.6"/>
<text transform="translate(235.80 545.90)" font-size="7.2" >1</text>
<line x1="225.00" y1="550.60" x2="226.60" y2="550.60" stroke="#fff" stroke-width="0.5" opacity="0.6"/>
<line x1="231.40" y1="550.60" x2="233.00" y2="550.60" stroke="#fff" stroke-width="0.5" opacity="0.6"/>
<text transform="translate(235.80 553.20)" font-size="7.2" >0.5</text>
<line x1="225.00" y1="557.30" x2="226.60" y2="557.30" stroke="#fff" stroke-width="0.5" opacity="0.6"/>
<line x1="231.40" y1="557.30" x2="233.00" y2="557.30" stroke="#fff" stroke-width="0.5" opacity="0.6"/>
<text transform="translate(235.80 559.90)" font-size="7.2" >0</text>
<text transform="translate(223.60 515.60)" font-size="6.8" >Exp</text>
<defs><linearGradient id="lg4" x1="0" y1="1" x2="0" y2="0"><stop offset="0.000" stop-color="#c5c5c5"/><stop offset="0.125" stop-color="#d0b4ac"/><stop offset="0.250" stop-color="#d9a394"/><stop offset="0.375" stop-color="#de917d"/><stop offset="0.500" stop-color="#e27e66"/><stop offset="0.625" stop-color="#e46b4f"/><stop offset="0.750" stop-color="#e45538"/><stop offset="0.875" stop-color="#e33b20"/><stop offset="1.000" stop-color="#e10a02"/></linearGradient></defs>
<rect x="396.2" y="518.0" width="8.00" height="38.60" fill="url(#lg4)"/>
<line x1="396.20" y1="520.00" x2="397.80" y2="520.00" stroke="#fff" stroke-width="0.5" opacity="0.6"/>
<line x1="402.60" y1="520.00" x2="404.20" y2="520.00" stroke="#fff" stroke-width="0.5" opacity="0.6"/>
<text transform="translate(408.40 522.60)" font-size="7.2" >2.5</text>
<line x1="396.20" y1="528.40" x2="397.80" y2="528.40" stroke="#fff" stroke-width="0.5" opacity="0.6"/>
<line x1="402.60" y1="528.40" x2="404.20" y2="528.40" stroke="#fff" stroke-width="0.5" opacity="0.6"/>
<text transform="translate(408.40 531.00)" font-size="7.2" >2</text>
<line x1="396.20" y1="535.90" x2="397.80" y2="535.90" stroke="#fff" stroke-width="0.5" opacity="0.6"/>
<line x1="402.60" y1="535.90" x2="404.20" y2="535.90" stroke="#fff" stroke-width="0.5" opacity="0.6"/>
<text transform="translate(408.40 538.50)" font-size="7.2" >1.5</text>
<line x1="396.20" y1="543.30" x2="397.80" y2="543.30" stroke="#fff" stroke-width="0.5" opacity="0.6"/>
<line x1="402.60" y1="543.30" x2="404.20" y2="543.30" stroke="#fff" stroke-width="0.5" opacity="0.6"/>
<text transform="translate(408.40 545.90)" font-size="7.2" >1</text>
<line x1="396.20" y1="550.60" x2="397.80" y2="550.60" stroke="#fff" stroke-width="0.5" opacity="0.6"/>
<line x1="402.60" y1="550.60" x2="404.20" y2="550.60" stroke="#fff" stroke-width="0.5" opacity="0.6"/>
<text transform="translate(408.40 553.20)" font-size="7.2" >0.5</text>
<line x1="396.20" y1="557.10" x2="397.80" y2="557.10" stroke="#fff" stroke-width="0.5" opacity="0.6"/>
<line x1="402.60" y1="557.10" x2="404.20" y2="557.10" stroke="#fff" stroke-width="0.5" opacity="0.6"/>
<text transform="translate(408.40 559.70)" font-size="7.2" >0</text>
<text transform="translate(394.80 513.60)" font-size="6.8" >Exp</text>
<rect x="0.5" y="0.5" width="519" height="597" fill="none" stroke="#000" stroke-width="1"/>
</svg>
</body></html>
